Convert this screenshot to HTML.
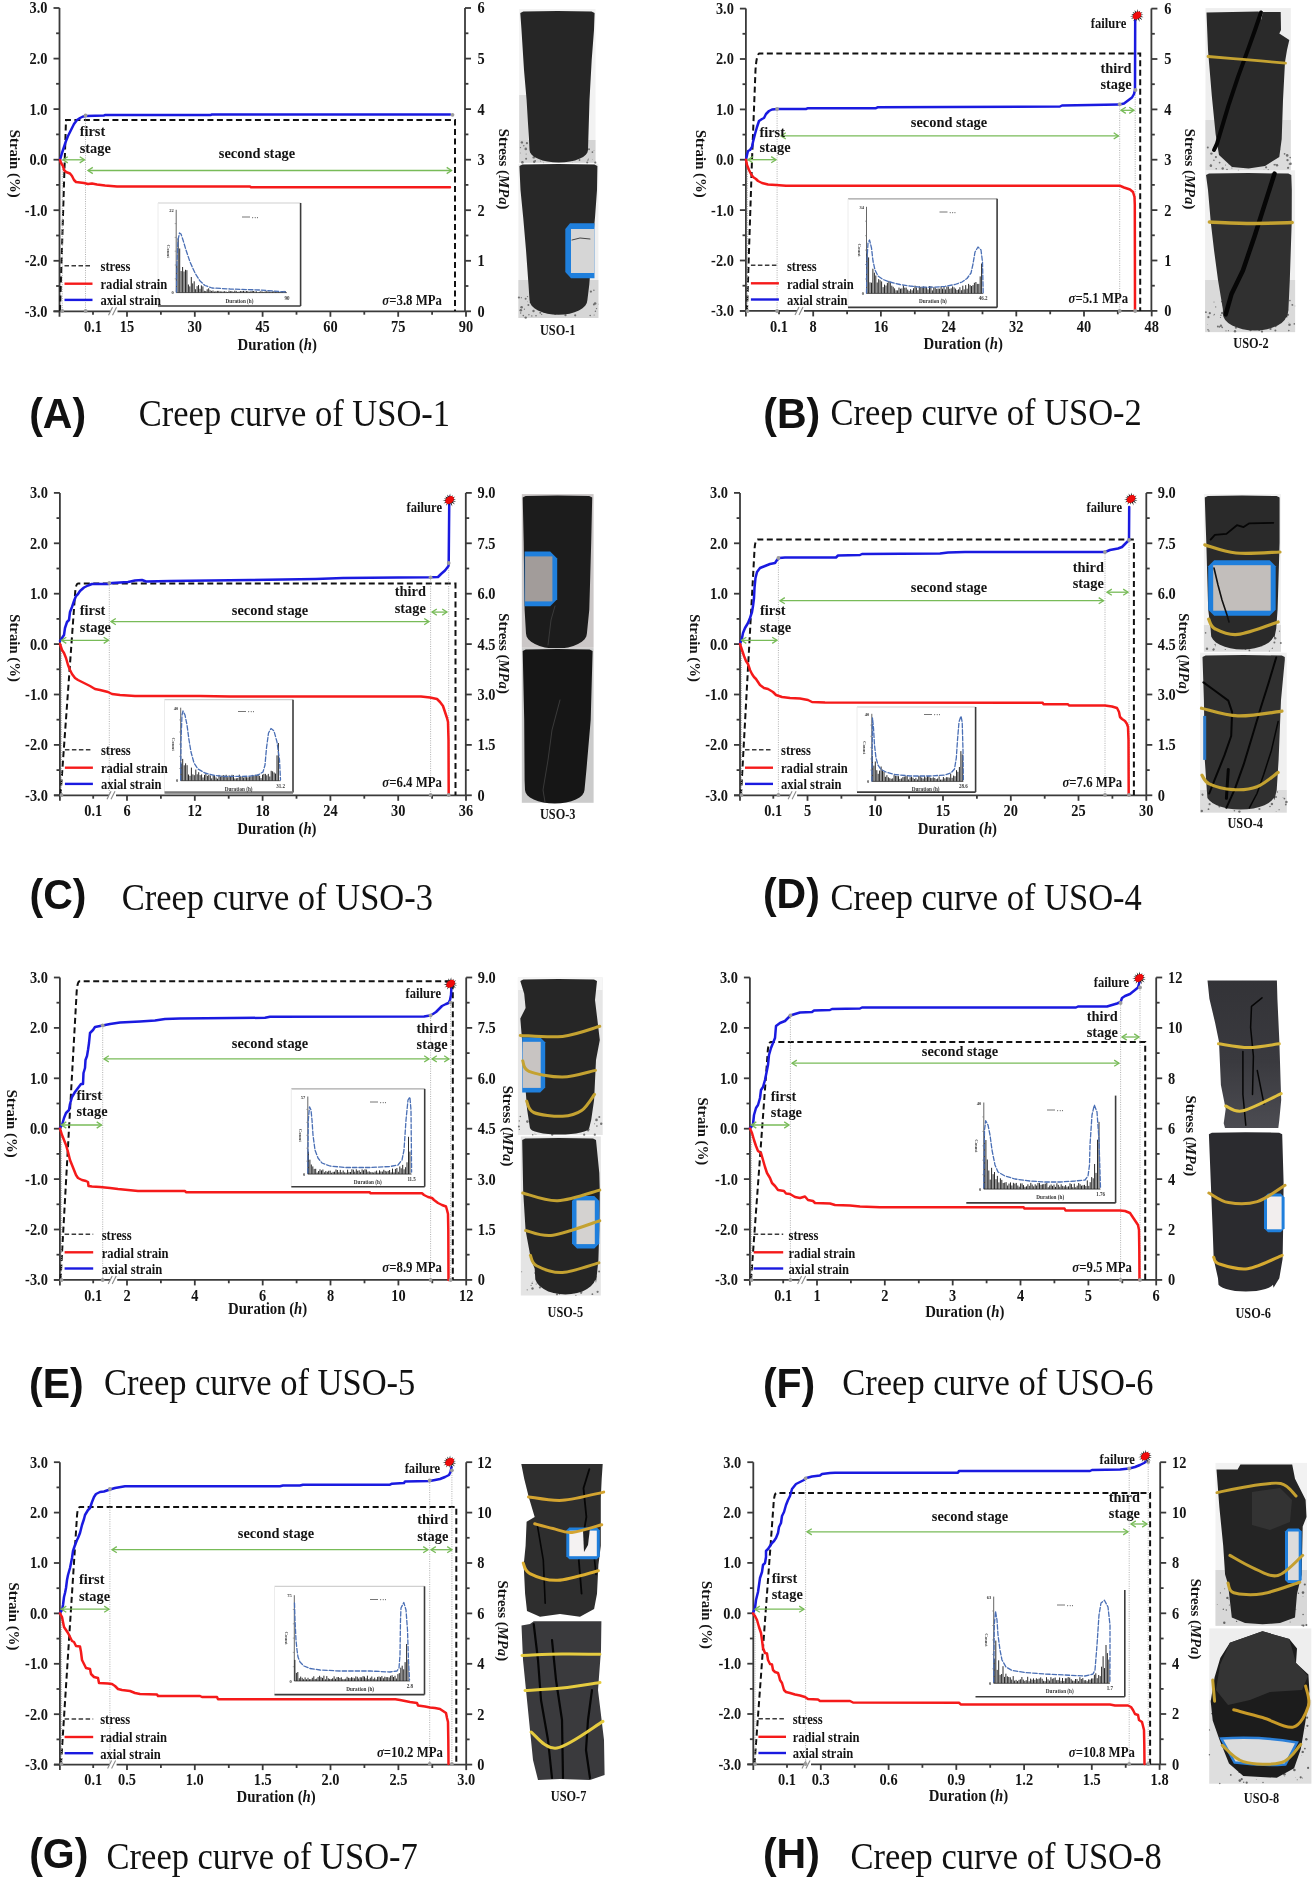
<!DOCTYPE html>
<html><head><meta charset="utf-8"><style>
html,body{margin:0;padding:0;background:#fff;}
svg{display:block;filter:blur(0.45px);}
</style></head><body>
<svg width="1315" height="1879" viewBox="0 0 1315 1879">
<rect width="1315" height="1879" fill="#fff"/>
<rect x="158.0" y="203.0" width="142.6" height="103.0" fill="#fff"/>
<line x1="158.0" y1="203.0" x2="300.6" y2="203.0" stroke="#d0d0d0" stroke-width="1.2" />
<line x1="158.0" y1="203.0" x2="158.0" y2="306.0" stroke="#ececec" stroke-width="1" />
<line x1="300.6" y1="203.0" x2="300.6" y2="306.0" stroke="#3c3c3c" stroke-width="1.6" />
<line x1="158.0" y1="306.0" x2="300.6" y2="306.0" stroke="#3c3c3c" stroke-width="1.6" />
<line x1="176.2" y1="209.8" x2="176.2" y2="292.6" stroke="#555" stroke-width="0.9" />
<line x1="176.2" y1="292.6" x2="286.9" y2="292.6" stroke="#555" stroke-width="0.9" />
<line x1="174.7" y1="278.8" x2="176.2" y2="278.8" stroke="#777" stroke-width="0.6" />
<line x1="174.7" y1="265.0" x2="176.2" y2="265.0" stroke="#777" stroke-width="0.6" />
<line x1="174.7" y1="251.2" x2="176.2" y2="251.2" stroke="#777" stroke-width="0.6" />
<line x1="174.7" y1="237.4" x2="176.2" y2="237.4" stroke="#777" stroke-width="0.6" />
<line x1="174.7" y1="223.6" x2="176.2" y2="223.6" stroke="#777" stroke-width="0.6" />
<path d="M176.8,292.6V265.7M178.2,292.6V238.2M179.7,292.6V248.5M181.1,292.6V271.1M182.6,292.6V267.0M184.0,292.6V271.5M185.5,292.6V269.8M186.9,292.6V270.2M188.4,292.6V284.5M189.8,292.6V286.4M191.3,292.6V277.0M192.7,292.6V283.4M194.2,292.6V281.3M195.6,292.6V289.2M197.1,292.6V286.2M198.5,292.6V285.1M200.0,292.6V288.8M201.4,292.6V285.4M202.9,292.6V286.4M204.3,292.6V290.8M205.8,292.6V291.0M207.2,292.6V289.3M208.7,292.6V288.3M210.1,292.6V290.3M211.6,292.6V290.9M213.0,292.6V290.5M214.5,292.6V291.6M215.9,292.6V291.2M217.4,292.6V290.9M218.8,292.6V290.9M220.3,292.6V291.4M221.7,292.6V291.5M223.2,292.6V291.5M224.6,292.6V291.2M226.1,292.6V291.5M227.5,292.6V292.0M229.0,292.6V290.7M230.4,292.6V291.2M231.9,292.6V291.1M233.3,292.6V291.8M234.8,292.6V290.7M236.2,292.6V290.9M237.7,292.6V291.9M239.1,292.6V291.6M240.6,292.6V291.1M242.0,292.6V291.1M243.5,292.6V290.9M244.9,292.6V291.5M246.4,292.6V291.0M247.8,292.6V291.2M249.3,292.6V291.7M250.8,292.6V291.3M252.2,292.6V291.0M253.6,292.6V291.0M255.1,292.6V291.5M256.5,292.6V291.4M258.0,292.6V292.1M259.4,292.6V291.8M260.9,292.6V291.1M262.3,292.6V291.6M263.8,292.6V291.9M265.2,292.6V291.4M266.7,292.6V291.2M268.1,292.6V291.3M269.6,292.6V291.6M271.0,292.6V291.6M272.5,292.6V291.5M273.9,292.6V291.1M275.4,292.6V291.5M276.8,292.6V291.6M278.3,292.6V291.5M279.8,292.6V292.1M281.2,292.6V292.0M282.6,292.6V291.2M284.1,292.6V290.9M285.5,292.6V291.4" stroke="#141414" stroke-width="1.0" fill="none" opacity="0.9"/>
<polyline points="176.5,292.0 177.0,262.0 178.0,240.0 179.5,233.0 181.0,234.0 183.0,240.0 186.0,250.0 190.0,262.0 195.0,273.0 200.0,281.0 205.0,285.5 212.0,288.0 230.0,289.0 260.0,290.0 286.0,292.0" fill="none" stroke="#4a6fb5" stroke-width="1.3" stroke-linejoin="round" stroke-linecap="round" stroke-dasharray="4.5,2"/>
<text transform="translate(173.7,211.8) scale(1,1.08)" font-size="4.5" text-anchor="end" font-weight="bold" font-family='"Liberation Serif", serif' fill="#333" >22</text>
<text transform="translate(173.7,294.1) scale(1,1.08)" font-size="4.5" text-anchor="end" font-weight="bold" font-family='"Liberation Serif", serif' fill="#333" >0</text>
<text transform="translate(286.9,299.6) scale(1,1.08)" font-size="5" text-anchor="middle" font-weight="bold" font-family='"Liberation Serif", serif' fill="#333" >90</text>
<text transform="translate(239.5,302.6) scale(1,1.08)" font-size="5.2" text-anchor="middle" font-weight="bold" font-family='"Liberation Serif", serif' fill="#333" >Duration (h)</text>
<text transform="translate(167.2,251.2) rotate(90)" font-size="5" font-weight="bold" text-anchor="middle" font-family='"Liberation Serif", serif' fill="#444">Count</text>
<line x1="242.0" y1="217.0" x2="250.0" y2="217.0" stroke="#666" stroke-width="0.9" />
<text transform="translate(252.0,218.8) scale(1,1.08)" font-size="4" text-anchor="start" font-weight="bold" font-family='"Liberation Serif", serif' fill="#555" >• • •</text>
<line x1="59.5" y1="8.0" x2="59.5" y2="316.8" stroke="#3a3a3a" stroke-width="1.8" />
<line x1="465.0" y1="8.0" x2="465.0" y2="311.3" stroke="#3a3a3a" stroke-width="1.8" />
<line x1="53.5" y1="311.3" x2="465.0" y2="311.3" stroke="#3a3a3a" stroke-width="1.8" />
<line x1="53.5" y1="8.0" x2="59.5" y2="8.0" stroke="#3a3a3a" stroke-width="1.8" />
<line x1="465.0" y1="8.0" x2="471.0" y2="8.0" stroke="#3a3a3a" stroke-width="1.8" />
<line x1="56.1" y1="33.3" x2="59.5" y2="33.3" stroke="#3a3a3a" stroke-width="1.8" />
<line x1="465.0" y1="33.3" x2="468.4" y2="33.3" stroke="#3a3a3a" stroke-width="1.8" />
<line x1="53.5" y1="58.6" x2="59.5" y2="58.6" stroke="#3a3a3a" stroke-width="1.8" />
<line x1="465.0" y1="58.6" x2="471.0" y2="58.6" stroke="#3a3a3a" stroke-width="1.8" />
<line x1="56.1" y1="83.8" x2="59.5" y2="83.8" stroke="#3a3a3a" stroke-width="1.8" />
<line x1="465.0" y1="83.8" x2="468.4" y2="83.8" stroke="#3a3a3a" stroke-width="1.8" />
<line x1="53.5" y1="109.1" x2="59.5" y2="109.1" stroke="#3a3a3a" stroke-width="1.8" />
<line x1="465.0" y1="109.1" x2="471.0" y2="109.1" stroke="#3a3a3a" stroke-width="1.8" />
<line x1="56.1" y1="134.4" x2="59.5" y2="134.4" stroke="#3a3a3a" stroke-width="1.8" />
<line x1="465.0" y1="134.4" x2="468.4" y2="134.4" stroke="#3a3a3a" stroke-width="1.8" />
<line x1="53.5" y1="159.7" x2="59.5" y2="159.7" stroke="#3a3a3a" stroke-width="1.8" />
<line x1="465.0" y1="159.7" x2="471.0" y2="159.7" stroke="#3a3a3a" stroke-width="1.8" />
<line x1="56.1" y1="184.9" x2="59.5" y2="184.9" stroke="#3a3a3a" stroke-width="1.8" />
<line x1="465.0" y1="184.9" x2="468.4" y2="184.9" stroke="#3a3a3a" stroke-width="1.8" />
<line x1="53.5" y1="210.2" x2="59.5" y2="210.2" stroke="#3a3a3a" stroke-width="1.8" />
<line x1="465.0" y1="210.2" x2="471.0" y2="210.2" stroke="#3a3a3a" stroke-width="1.8" />
<line x1="56.1" y1="235.5" x2="59.5" y2="235.5" stroke="#3a3a3a" stroke-width="1.8" />
<line x1="465.0" y1="235.5" x2="468.4" y2="235.5" stroke="#3a3a3a" stroke-width="1.8" />
<line x1="53.5" y1="260.8" x2="59.5" y2="260.8" stroke="#3a3a3a" stroke-width="1.8" />
<line x1="465.0" y1="260.8" x2="471.0" y2="260.8" stroke="#3a3a3a" stroke-width="1.8" />
<line x1="56.1" y1="286.0" x2="59.5" y2="286.0" stroke="#3a3a3a" stroke-width="1.8" />
<line x1="465.0" y1="286.0" x2="468.4" y2="286.0" stroke="#3a3a3a" stroke-width="1.8" />
<line x1="53.5" y1="311.3" x2="59.5" y2="311.3" stroke="#3a3a3a" stroke-width="1.8" />
<line x1="465.0" y1="311.3" x2="471.0" y2="311.3" stroke="#3a3a3a" stroke-width="1.8" />
<text transform="translate(47.5,13.4) scale(1,1.15)" font-size="14.4" text-anchor="end" font-weight="bold" font-family='"Liberation Serif", serif' fill="#141414" >3.0</text>
<text transform="translate(47.5,64.0) scale(1,1.15)" font-size="14.4" text-anchor="end" font-weight="bold" font-family='"Liberation Serif", serif' fill="#141414" >2.0</text>
<text transform="translate(47.5,114.5) scale(1,1.15)" font-size="14.4" text-anchor="end" font-weight="bold" font-family='"Liberation Serif", serif' fill="#141414" >1.0</text>
<text transform="translate(47.5,165.1) scale(1,1.15)" font-size="14.4" text-anchor="end" font-weight="bold" font-family='"Liberation Serif", serif' fill="#141414" >0.0</text>
<text transform="translate(47.5,215.6) scale(1,1.15)" font-size="14.4" text-anchor="end" font-weight="bold" font-family='"Liberation Serif", serif' fill="#141414" >-1.0</text>
<text transform="translate(47.5,266.1) scale(1,1.15)" font-size="14.4" text-anchor="end" font-weight="bold" font-family='"Liberation Serif", serif' fill="#141414" >-2.0</text>
<text transform="translate(47.5,316.7) scale(1,1.15)" font-size="14.4" text-anchor="end" font-weight="bold" font-family='"Liberation Serif", serif' fill="#141414" >-3.0</text>
<text transform="translate(477.5,13.4) scale(1,1.15)" font-size="14.4" text-anchor="start" font-weight="bold" font-family='"Liberation Serif", serif' fill="#141414" >6</text>
<text transform="translate(477.5,64.0) scale(1,1.15)" font-size="14.4" text-anchor="start" font-weight="bold" font-family='"Liberation Serif", serif' fill="#141414" >5</text>
<text transform="translate(477.5,114.5) scale(1,1.15)" font-size="14.4" text-anchor="start" font-weight="bold" font-family='"Liberation Serif", serif' fill="#141414" >4</text>
<text transform="translate(477.5,165.1) scale(1,1.15)" font-size="14.4" text-anchor="start" font-weight="bold" font-family='"Liberation Serif", serif' fill="#141414" >3</text>
<text transform="translate(477.5,215.6) scale(1,1.15)" font-size="14.4" text-anchor="start" font-weight="bold" font-family='"Liberation Serif", serif' fill="#141414" >2</text>
<text transform="translate(477.5,266.1) scale(1,1.15)" font-size="14.4" text-anchor="start" font-weight="bold" font-family='"Liberation Serif", serif' fill="#141414" >1</text>
<text transform="translate(477.5,316.7) scale(1,1.15)" font-size="14.4" text-anchor="start" font-weight="bold" font-family='"Liberation Serif", serif' fill="#141414" >0</text>
<line x1="127.0" y1="311.3" x2="127.0" y2="316.8" stroke="#3a3a3a" stroke-width="1.8" />
<text transform="translate(127.0,331.9) scale(1,1.15)" font-size="14.4" text-anchor="middle" font-weight="bold" font-family='"Liberation Serif", serif' fill="#141414" >15</text>
<line x1="160.9" y1="311.3" x2="160.9" y2="314.7" stroke="#3a3a3a" stroke-width="1.8" />
<line x1="194.8" y1="311.3" x2="194.8" y2="316.8" stroke="#3a3a3a" stroke-width="1.8" />
<text transform="translate(194.8,331.9) scale(1,1.15)" font-size="14.4" text-anchor="middle" font-weight="bold" font-family='"Liberation Serif", serif' fill="#141414" >30</text>
<line x1="228.7" y1="311.3" x2="228.7" y2="314.7" stroke="#3a3a3a" stroke-width="1.8" />
<line x1="262.6" y1="311.3" x2="262.6" y2="316.8" stroke="#3a3a3a" stroke-width="1.8" />
<text transform="translate(262.6,331.9) scale(1,1.15)" font-size="14.4" text-anchor="middle" font-weight="bold" font-family='"Liberation Serif", serif' fill="#141414" >45</text>
<line x1="296.5" y1="311.3" x2="296.5" y2="314.7" stroke="#3a3a3a" stroke-width="1.8" />
<line x1="330.4" y1="311.3" x2="330.4" y2="316.8" stroke="#3a3a3a" stroke-width="1.8" />
<text transform="translate(330.4,331.9) scale(1,1.15)" font-size="14.4" text-anchor="middle" font-weight="bold" font-family='"Liberation Serif", serif' fill="#141414" >60</text>
<line x1="364.3" y1="311.3" x2="364.3" y2="314.7" stroke="#3a3a3a" stroke-width="1.8" />
<line x1="398.2" y1="311.3" x2="398.2" y2="316.8" stroke="#3a3a3a" stroke-width="1.8" />
<text transform="translate(398.2,331.9) scale(1,1.15)" font-size="14.4" text-anchor="middle" font-weight="bold" font-family='"Liberation Serif", serif' fill="#141414" >75</text>
<line x1="432.1" y1="311.3" x2="432.1" y2="314.7" stroke="#3a3a3a" stroke-width="1.8" />
<line x1="466.0" y1="311.3" x2="466.0" y2="316.8" stroke="#3a3a3a" stroke-width="1.8" />
<text transform="translate(466.0,331.9) scale(1,1.15)" font-size="14.4" text-anchor="middle" font-weight="bold" font-family='"Liberation Serif", serif' fill="#141414" >90</text>
<line x1="93.0" y1="311.3" x2="93.0" y2="314.7" stroke="#3a3a3a" stroke-width="1.8" />
<text transform="translate(93.0,331.9) scale(1,1.15)" font-size="14.4" text-anchor="middle" font-weight="bold" font-family='"Liberation Serif", serif' fill="#141414" >0.1</text>
<rect x="110.5" y="309.3" width="7" height="4" fill="#fff"/>
<line x1="108.5" y1="315.3" x2="112.5" y2="307.3" stroke="#8a8a8a" stroke-width="1.1" />
<line x1="112.5" y1="315.3" x2="116.5" y2="307.3" stroke="#8a8a8a" stroke-width="1.1" />
<text transform="translate(277.2,349.7) scale(1,1.08)" font-size="14.8" text-anchor="middle" font-weight="bold" font-family='"Liberation Serif", serif' fill="#141414" >Duration (<tspan font-style="italic">h</tspan>)</text>
<text transform="translate(10.0,163.7) rotate(90)" font-size="14.8" text-anchor="middle" font-weight="bold" font-family='"Liberation Serif", serif' fill="#141414">Strain (%)</text>
<text transform="translate(498.5,169.2) rotate(90)" font-size="14.8" text-anchor="middle" font-weight="bold" font-family='"Liberation Serif", serif' fill="#141414">Stress (<tspan font-style="italic">MPa</tspan>)</text>
<path d="M60,311 L66,120 L455,120 L455,311" fill="none" stroke="#111" stroke-width="2" stroke-dasharray="6,3.5"/>
<line x1="85.5" y1="116.0" x2="85.5" y2="311.0" stroke="#a8a8a8" stroke-width="0.9" stroke-dasharray="1,1.3"/>
<line x1="62.3" y1="160.0" x2="62.3" y2="311.0" stroke="#a8a8a8" stroke-width="0.9" stroke-dasharray="1,1.3"/>
<polyline points="60.0,160.0 62.0,153.0 64.0,147.0 66.0,141.0 68.0,136.0 70.0,132.0 72.0,128.0 74.0,124.0 77.0,120.0 80.0,118.0 83.0,116.5 86.0,116.0 104.0,115.6 105.0,114.9 211.0,114.9 212.0,114.4 450.0,114.4" fill="none" stroke="#1a1ae0" stroke-width="2.5" stroke-linejoin="round" stroke-linecap="round" />
<polyline points="60.0,160.0 61.0,163.0 63.0,166.0 64.0,170.0 66.0,172.0 70.0,173.5 72.0,176.0 74.0,180.0 76.0,182.0 84.0,183.0 88.0,184.0 92.0,183.5 97.0,184.5 105.0,185.5 117.0,186.5 250.0,186.5 251.0,187.3 450.0,187.3" fill="none" stroke="#f51a1a" stroke-width="2.5" stroke-linejoin="round" stroke-linecap="round" />
<circle cx="85.5" cy="115.5" r="1.9" fill="#9c9c9c"/>
<circle cx="452.5" cy="114.8" r="1.9" fill="#9c9c9c"/>
<circle cx="62.3" cy="311.0" r="1.9" fill="#9c9c9c"/>
<circle cx="85.6" cy="311.0" r="1.9" fill="#9c9c9c"/>
<line x1="63.0" y1="159.8" x2="84.5" y2="159.8" stroke="#78bb58" stroke-width="1.3" />
<polyline points="79.7,156.7 84.5,159.8 79.7,162.9" fill="none" stroke="#78bb58" stroke-width="1.3"/>
<polyline points="67.8,156.7 63.0,159.8 67.8,162.9" fill="none" stroke="#78bb58" stroke-width="1.3"/>
<line x1="88.0" y1="170.5" x2="451.5" y2="170.5" stroke="#78bb58" stroke-width="1.3" />
<polyline points="446.7,167.4 451.5,170.5 446.7,173.6" fill="none" stroke="#78bb58" stroke-width="1.3"/>
<polyline points="92.8,167.4 88.0,170.5 92.8,173.6" fill="none" stroke="#78bb58" stroke-width="1.3"/>
<text transform="translate(79.7,135.7) scale(1,1.08)" font-size="14.4" text-anchor="start" font-weight="bold" font-family='"Liberation Serif", serif' fill="#141414" >first</text>
<text transform="translate(79.7,152.5) scale(1,1.08)" font-size="14.4" text-anchor="start" font-weight="bold" font-family='"Liberation Serif", serif' fill="#141414" >stage</text>
<text transform="translate(257.0,158.0) scale(1,1.08)" font-size="14.4" text-anchor="middle" font-weight="bold" font-family='"Liberation Serif", serif' fill="#141414" >second stage</text>
<text transform="translate(442.0,304.5) scale(1,1.08)" font-size="12.8" text-anchor="end" font-weight="bold" font-family='"Liberation Serif", serif' fill="#141414" ><tspan font-style="italic">σ</tspan>=3.8 MPa</text>
<line x1="64.5" y1="265.7" x2="92.5" y2="265.7" stroke="#3a3a3a" stroke-width="1.5" stroke-dasharray="4.5,2.5"/>
<line x1="64.5" y1="283.7" x2="92.5" y2="283.7" stroke="#f51a1a" stroke-width="2.4" />
<line x1="64.5" y1="299.9" x2="92.5" y2="299.9" stroke="#1a1ae0" stroke-width="2.4" />
<text transform="translate(100.5,271.0) scale(1,1.08)" font-size="12.6" text-anchor="start" font-weight="bold" font-family='"Liberation Serif", serif' fill="#141414" >stress</text>
<text transform="translate(100.5,289.0) scale(1,1.08)" font-size="12.6" text-anchor="start" font-weight="bold" font-family='"Liberation Serif", serif' fill="#141414" >radial strain</text>
<text transform="translate(100.5,305.2) scale(1,1.08)" font-size="12.6" text-anchor="start" font-weight="bold" font-family='"Liberation Serif", serif' fill="#141414" >axial strain</text>
<text transform="translate(29.2,428.2) scale(1,1.05)" font-size="41" text-anchor="start" font-weight="bold" font-family='"Liberation Sans", sans-serif' fill="#111" >(A)</text>
<text transform="translate(138.8,425.7) scale(1,1.13)" font-size="34.5" text-anchor="start" font-weight="normal" font-family='"Liberation Serif", serif' fill="#111" >Creep curve of USO-1</text>
<rect x="848.0" y="198.8" width="149.1" height="108.6" fill="#fff"/>
<line x1="848.0" y1="198.8" x2="997.1" y2="198.8" stroke="#a0a0a0" stroke-width="1.2" />
<line x1="848.0" y1="198.8" x2="848.0" y2="307.4" stroke="#ececec" stroke-width="1" />
<line x1="997.1" y1="198.8" x2="997.1" y2="307.4" stroke="#3c3c3c" stroke-width="1.6" />
<line x1="848.0" y1="307.4" x2="997.1" y2="307.4" stroke="#3c3c3c" stroke-width="1.6" />
<line x1="866.5" y1="206.8" x2="866.5" y2="293.4" stroke="#555" stroke-width="0.9" />
<line x1="866.5" y1="293.4" x2="983.2" y2="293.4" stroke="#555" stroke-width="0.9" />
<line x1="865.0" y1="279.0" x2="866.5" y2="279.0" stroke="#777" stroke-width="0.6" />
<line x1="865.0" y1="264.5" x2="866.5" y2="264.5" stroke="#777" stroke-width="0.6" />
<line x1="865.0" y1="250.1" x2="866.5" y2="250.1" stroke="#777" stroke-width="0.6" />
<line x1="865.0" y1="235.7" x2="866.5" y2="235.7" stroke="#777" stroke-width="0.6" />
<line x1="865.0" y1="221.2" x2="866.5" y2="221.2" stroke="#777" stroke-width="0.6" />
<path d="M867.1,293.4V253.3M868.6,293.4V257.4M870.0,293.4V282.3M871.5,293.4V282.7M872.9,293.4V268.7M874.4,293.4V272.7M875.8,293.4V275.5M877.2,293.4V282.5M878.7,293.4V279.1M880.1,293.4V280.2M881.6,293.4V281.4M883.1,293.4V287.1M884.5,293.4V284.6M886.0,293.4V285.5M887.4,293.4V282.8M888.9,293.4V280.9M890.3,293.4V281.9M891.8,293.4V285.7M893.2,293.4V286.8M894.6,293.4V288.4M896.1,293.4V290.3M897.6,293.4V290.4M899.0,293.4V287.6M900.5,293.4V288.7M901.9,293.4V288.4M903.4,293.4V285.3M904.8,293.4V287.7M906.2,293.4V287.6M907.7,293.4V289.6M909.1,293.4V290.9M910.6,293.4V289.2M912.1,293.4V290.3M913.5,293.4V288.3M915.0,293.4V285.6M916.4,293.4V287.4M917.9,293.4V290.2M919.3,293.4V286.3M920.8,293.4V286.9M922.2,293.4V287.3M923.6,293.4V286.4M925.1,293.4V287.2M926.6,293.4V287.0M928.0,293.4V289.4M929.5,293.4V286.1M930.9,293.4V286.2M932.4,293.4V290.4M933.8,293.4V287.3M935.2,293.4V287.5M936.7,293.4V288.9M938.1,293.4V288.5M939.6,293.4V288.7M941.1,293.4V286.4M942.5,293.4V288.7M944.0,293.4V286.9M945.4,293.4V289.4M946.9,293.4V286.6M948.3,293.4V286.5M949.8,293.4V288.8M951.2,293.4V288.3M952.6,293.4V286.4M954.1,293.4V287.4M955.6,293.4V288.6M957.0,293.4V290.0M958.5,293.4V289.4M959.9,293.4V287.2M961.4,293.4V290.2M962.8,293.4V285.7M964.2,293.4V289.4M965.7,293.4V285.1M967.1,293.4V288.7M968.6,293.4V283.9M970.1,293.4V285.1M971.5,293.4V286.0M973.0,293.4V285.1M974.4,293.4V282.8M975.9,293.4V282.0M977.3,293.4V283.9M978.8,293.4V283.9M980.2,293.4V276.4M981.6,293.4V263.5" stroke="#141414" stroke-width="1.0" fill="none" opacity="0.9"/>
<polyline points="866.5,293.0 867.0,260.0 868.0,243.0 869.5,240.0 871.5,248.0 873.0,261.0 875.0,270.0 878.0,276.0 883.0,279.5 890.0,282.0 900.0,284.5 910.0,286.0 920.0,287.2 935.0,287.2 945.0,286.3 955.0,284.5 962.0,282.0 967.0,278.5 971.0,273.0 973.0,264.0 975.0,252.0 978.0,247.0 981.0,250.0 982.5,262.0 983.2,293.0" fill="none" stroke="#4a6fb5" stroke-width="1.3" stroke-linejoin="round" stroke-linecap="round" stroke-dasharray="4.5,2"/>
<text transform="translate(864.0,208.8) scale(1,1.08)" font-size="4.5" text-anchor="end" font-weight="bold" font-family='"Liberation Serif", serif' fill="#333" >34</text>
<text transform="translate(864.0,294.9) scale(1,1.08)" font-size="4.5" text-anchor="end" font-weight="bold" font-family='"Liberation Serif", serif' fill="#333" >0</text>
<text transform="translate(983.2,300.4) scale(1,1.08)" font-size="5" text-anchor="middle" font-weight="bold" font-family='"Liberation Serif", serif' fill="#333" >46.2</text>
<text transform="translate(932.9,303.4) scale(1,1.08)" font-size="5.2" text-anchor="middle" font-weight="bold" font-family='"Liberation Serif", serif' fill="#333" >Duration (h)</text>
<text transform="translate(857.5,250.1) rotate(90)" font-size="5" font-weight="bold" text-anchor="middle" font-family='"Liberation Serif", serif' fill="#444">Count</text>
<line x1="939.5" y1="212.0" x2="947.5" y2="212.0" stroke="#666" stroke-width="0.9" />
<text transform="translate(949.5,213.8) scale(1,1.08)" font-size="4" text-anchor="start" font-weight="bold" font-family='"Liberation Serif", serif' fill="#555" >• • •</text>
<line x1="745.9" y1="8.6" x2="745.9" y2="316.4" stroke="#3a3a3a" stroke-width="1.8" />
<line x1="1151.4" y1="8.6" x2="1151.4" y2="310.9" stroke="#3a3a3a" stroke-width="1.8" />
<line x1="739.9" y1="310.9" x2="1151.4" y2="310.9" stroke="#3a3a3a" stroke-width="1.8" />
<line x1="739.9" y1="8.6" x2="745.9" y2="8.6" stroke="#3a3a3a" stroke-width="1.8" />
<line x1="1151.4" y1="8.6" x2="1157.4" y2="8.6" stroke="#3a3a3a" stroke-width="1.8" />
<line x1="742.5" y1="33.8" x2="745.9" y2="33.8" stroke="#3a3a3a" stroke-width="1.8" />
<line x1="1151.4" y1="33.8" x2="1154.8" y2="33.8" stroke="#3a3a3a" stroke-width="1.8" />
<line x1="739.9" y1="59.0" x2="745.9" y2="59.0" stroke="#3a3a3a" stroke-width="1.8" />
<line x1="1151.4" y1="59.0" x2="1157.4" y2="59.0" stroke="#3a3a3a" stroke-width="1.8" />
<line x1="742.5" y1="84.2" x2="745.9" y2="84.2" stroke="#3a3a3a" stroke-width="1.8" />
<line x1="1151.4" y1="84.2" x2="1154.8" y2="84.2" stroke="#3a3a3a" stroke-width="1.8" />
<line x1="739.9" y1="109.4" x2="745.9" y2="109.4" stroke="#3a3a3a" stroke-width="1.8" />
<line x1="1151.4" y1="109.4" x2="1157.4" y2="109.4" stroke="#3a3a3a" stroke-width="1.8" />
<line x1="742.5" y1="134.6" x2="745.9" y2="134.6" stroke="#3a3a3a" stroke-width="1.8" />
<line x1="1151.4" y1="134.6" x2="1154.8" y2="134.6" stroke="#3a3a3a" stroke-width="1.8" />
<line x1="739.9" y1="159.7" x2="745.9" y2="159.7" stroke="#3a3a3a" stroke-width="1.8" />
<line x1="1151.4" y1="159.7" x2="1157.4" y2="159.7" stroke="#3a3a3a" stroke-width="1.8" />
<line x1="742.5" y1="184.9" x2="745.9" y2="184.9" stroke="#3a3a3a" stroke-width="1.8" />
<line x1="1151.4" y1="184.9" x2="1154.8" y2="184.9" stroke="#3a3a3a" stroke-width="1.8" />
<line x1="739.9" y1="210.1" x2="745.9" y2="210.1" stroke="#3a3a3a" stroke-width="1.8" />
<line x1="1151.4" y1="210.1" x2="1157.4" y2="210.1" stroke="#3a3a3a" stroke-width="1.8" />
<line x1="742.5" y1="235.3" x2="745.9" y2="235.3" stroke="#3a3a3a" stroke-width="1.8" />
<line x1="1151.4" y1="235.3" x2="1154.8" y2="235.3" stroke="#3a3a3a" stroke-width="1.8" />
<line x1="739.9" y1="260.5" x2="745.9" y2="260.5" stroke="#3a3a3a" stroke-width="1.8" />
<line x1="1151.4" y1="260.5" x2="1157.4" y2="260.5" stroke="#3a3a3a" stroke-width="1.8" />
<line x1="742.5" y1="285.7" x2="745.9" y2="285.7" stroke="#3a3a3a" stroke-width="1.8" />
<line x1="1151.4" y1="285.7" x2="1154.8" y2="285.7" stroke="#3a3a3a" stroke-width="1.8" />
<line x1="739.9" y1="310.9" x2="745.9" y2="310.9" stroke="#3a3a3a" stroke-width="1.8" />
<line x1="1151.4" y1="310.9" x2="1157.4" y2="310.9" stroke="#3a3a3a" stroke-width="1.8" />
<text transform="translate(733.9,14.0) scale(1,1.15)" font-size="14.4" text-anchor="end" font-weight="bold" font-family='"Liberation Serif", serif' fill="#141414" >3.0</text>
<text transform="translate(733.9,64.4) scale(1,1.15)" font-size="14.4" text-anchor="end" font-weight="bold" font-family='"Liberation Serif", serif' fill="#141414" >2.0</text>
<text transform="translate(733.9,114.8) scale(1,1.15)" font-size="14.4" text-anchor="end" font-weight="bold" font-family='"Liberation Serif", serif' fill="#141414" >1.0</text>
<text transform="translate(733.9,165.1) scale(1,1.15)" font-size="14.4" text-anchor="end" font-weight="bold" font-family='"Liberation Serif", serif' fill="#141414" >0.0</text>
<text transform="translate(733.9,215.5) scale(1,1.15)" font-size="14.4" text-anchor="end" font-weight="bold" font-family='"Liberation Serif", serif' fill="#141414" >-1.0</text>
<text transform="translate(733.9,265.9) scale(1,1.15)" font-size="14.4" text-anchor="end" font-weight="bold" font-family='"Liberation Serif", serif' fill="#141414" >-2.0</text>
<text transform="translate(733.9,316.3) scale(1,1.15)" font-size="14.4" text-anchor="end" font-weight="bold" font-family='"Liberation Serif", serif' fill="#141414" >-3.0</text>
<text transform="translate(1164.3,14.0) scale(1,1.15)" font-size="14.4" text-anchor="start" font-weight="bold" font-family='"Liberation Serif", serif' fill="#141414" >6</text>
<text transform="translate(1164.3,64.4) scale(1,1.15)" font-size="14.4" text-anchor="start" font-weight="bold" font-family='"Liberation Serif", serif' fill="#141414" >5</text>
<text transform="translate(1164.3,114.8) scale(1,1.15)" font-size="14.4" text-anchor="start" font-weight="bold" font-family='"Liberation Serif", serif' fill="#141414" >4</text>
<text transform="translate(1164.3,165.1) scale(1,1.15)" font-size="14.4" text-anchor="start" font-weight="bold" font-family='"Liberation Serif", serif' fill="#141414" >3</text>
<text transform="translate(1164.3,215.5) scale(1,1.15)" font-size="14.4" text-anchor="start" font-weight="bold" font-family='"Liberation Serif", serif' fill="#141414" >2</text>
<text transform="translate(1164.3,265.9) scale(1,1.15)" font-size="14.4" text-anchor="start" font-weight="bold" font-family='"Liberation Serif", serif' fill="#141414" >1</text>
<text transform="translate(1164.3,316.3) scale(1,1.15)" font-size="14.4" text-anchor="start" font-weight="bold" font-family='"Liberation Serif", serif' fill="#141414" >0</text>
<line x1="813.2" y1="310.9" x2="813.2" y2="316.4" stroke="#3a3a3a" stroke-width="1.8" />
<text transform="translate(813.2,331.5) scale(1,1.15)" font-size="14.4" text-anchor="middle" font-weight="bold" font-family='"Liberation Serif", serif' fill="#141414" >8</text>
<line x1="847.1" y1="310.9" x2="847.1" y2="314.3" stroke="#3a3a3a" stroke-width="1.8" />
<line x1="880.9" y1="310.9" x2="880.9" y2="316.4" stroke="#3a3a3a" stroke-width="1.8" />
<text transform="translate(880.9,331.5) scale(1,1.15)" font-size="14.4" text-anchor="middle" font-weight="bold" font-family='"Liberation Serif", serif' fill="#141414" >16</text>
<line x1="914.8" y1="310.9" x2="914.8" y2="314.3" stroke="#3a3a3a" stroke-width="1.8" />
<line x1="948.6" y1="310.9" x2="948.6" y2="316.4" stroke="#3a3a3a" stroke-width="1.8" />
<text transform="translate(948.6,331.5) scale(1,1.15)" font-size="14.4" text-anchor="middle" font-weight="bold" font-family='"Liberation Serif", serif' fill="#141414" >24</text>
<line x1="982.5" y1="310.9" x2="982.5" y2="314.3" stroke="#3a3a3a" stroke-width="1.8" />
<line x1="1016.3" y1="310.9" x2="1016.3" y2="316.4" stroke="#3a3a3a" stroke-width="1.8" />
<text transform="translate(1016.3,331.5) scale(1,1.15)" font-size="14.4" text-anchor="middle" font-weight="bold" font-family='"Liberation Serif", serif' fill="#141414" >32</text>
<line x1="1050.2" y1="310.9" x2="1050.2" y2="314.3" stroke="#3a3a3a" stroke-width="1.8" />
<line x1="1084.0" y1="310.9" x2="1084.0" y2="316.4" stroke="#3a3a3a" stroke-width="1.8" />
<text transform="translate(1084.0,331.5) scale(1,1.15)" font-size="14.4" text-anchor="middle" font-weight="bold" font-family='"Liberation Serif", serif' fill="#141414" >40</text>
<line x1="1117.8" y1="310.9" x2="1117.8" y2="314.3" stroke="#3a3a3a" stroke-width="1.8" />
<line x1="1151.7" y1="310.9" x2="1151.7" y2="316.4" stroke="#3a3a3a" stroke-width="1.8" />
<text transform="translate(1151.7,331.5) scale(1,1.15)" font-size="14.4" text-anchor="middle" font-weight="bold" font-family='"Liberation Serif", serif' fill="#141414" >48</text>
<line x1="779.0" y1="310.9" x2="779.0" y2="314.3" stroke="#3a3a3a" stroke-width="1.8" />
<text transform="translate(779.0,331.5) scale(1,1.15)" font-size="14.4" text-anchor="middle" font-weight="bold" font-family='"Liberation Serif", serif' fill="#141414" >0.1</text>
<rect x="797.0" y="308.9" width="7" height="4" fill="#fff"/>
<line x1="795.0" y1="314.9" x2="799.0" y2="306.9" stroke="#8a8a8a" stroke-width="1.1" />
<line x1="799.0" y1="314.9" x2="803.0" y2="306.9" stroke="#8a8a8a" stroke-width="1.1" />
<text transform="translate(963.2,349.3) scale(1,1.08)" font-size="14.8" text-anchor="middle" font-weight="bold" font-family='"Liberation Serif", serif' fill="#141414" >Duration (<tspan font-style="italic">h</tspan>)</text>
<text transform="translate(696.0,163.8) rotate(90)" font-size="14.8" text-anchor="middle" font-weight="bold" font-family='"Liberation Serif", serif' fill="#141414">Strain (%)</text>
<text transform="translate(1184.7,169.1) rotate(90)" font-size="14.8" text-anchor="middle" font-weight="bold" font-family='"Liberation Serif", serif' fill="#141414">Stress (<tspan font-style="italic">MPa</tspan>)</text>
<path d="M747,311 L752,160 L755.5,70 Q756.5,55 759,53.6 L1140.2,53.6 L1140.2,311" fill="none" stroke="#111" stroke-width="2" stroke-dasharray="6,3.5"/>
<line x1="777.1" y1="109.0" x2="777.1" y2="311.0" stroke="#a8a8a8" stroke-width="0.9" stroke-dasharray="1,1.3"/>
<line x1="1119.7" y1="104.0" x2="1119.7" y2="311.0" stroke="#a8a8a8" stroke-width="0.9" stroke-dasharray="1,1.3"/>
<line x1="1135.2" y1="90.0" x2="1135.2" y2="311.0" stroke="#a8a8a8" stroke-width="0.9" stroke-dasharray="1,1.3"/>
<line x1="747.5" y1="160.0" x2="747.5" y2="311.0" stroke="#a8a8a8" stroke-width="0.9" stroke-dasharray="1,1.3"/>
<polyline points="746.0,159.7 747.0,155.0 748.0,151.0 750.0,150.0 752.0,147.0 753.0,142.0 755.0,134.0 757.0,127.0 759.0,121.0 762.0,119.0 764.0,118.0 766.0,114.0 769.0,111.0 772.0,109.5 777.0,109.0 806.0,109.0 808.0,108.2 876.0,108.2 878.0,107.2 1060.0,106.5 1062.0,105.5 1119.0,104.6 1124.0,103.5 1128.0,100.5 1132.0,97.5 1134.0,94.0 1135.0,90.0 1135.2,20.0" fill="none" stroke="#1a1ae0" stroke-width="2.5" stroke-linejoin="round" stroke-linecap="round" />
<polyline points="746.0,159.7 747.0,165.0 749.0,170.0 751.0,174.0 753.0,177.0 756.0,179.0 758.0,181.0 762.0,183.0 768.0,184.5 776.0,185.0 786.0,185.7 1119.7,185.7 1124.0,187.5 1130.0,189.5 1133.0,192.0 1134.5,197.0 1134.8,205.0 1135.0,311.0" fill="none" stroke="#f51a1a" stroke-width="2.5" stroke-linejoin="round" stroke-linecap="round" />
<circle cx="777.1" cy="109.0" r="1.9" fill="#9c9c9c"/>
<circle cx="1119.7" cy="104.2" r="1.9" fill="#9c9c9c"/>
<circle cx="1135.5" cy="90.0" r="1.9" fill="#9c9c9c"/>
<circle cx="1119.7" cy="311.0" r="1.9" fill="#9c9c9c"/>
<circle cx="1135.2" cy="311.0" r="1.9" fill="#9c9c9c"/>
<circle cx="747.5" cy="311.0" r="1.9" fill="#9c9c9c"/>
<circle cx="777.1" cy="311.0" r="1.9" fill="#9c9c9c"/>
<polygon points="1143.6,17.3 1140.0,17.0 1142.4,20.0 1138.9,18.0 1139.8,21.9 1137.5,18.5 1136.5,21.3 1136.0,18.4 1133.3,21.2 1134.7,17.7 1131.0,19.1 1133.8,16.6 1130.0,16.5 1133.6,15.3 1131.2,13.9 1134.0,14.0 1132.6,11.9 1135.1,13.0 1134.6,10.0 1136.5,12.5 1137.5,9.0 1138.0,12.6 1140.2,10.5 1139.3,13.3 1142.6,12.0 1140.2,14.4 1143.4,14.6 1140.4,15.7" fill="#1a1a1a"/>
<polygon points="1140.7,12.4 1141.3,14.1 1140.8,16.2 1139.2,18.1 1137.1,19.3 1134.9,19.5 1133.3,18.6 1132.7,16.9 1133.2,14.8 1134.8,12.9 1136.9,11.7 1139.1,11.5" fill="#f00a0a"/>
<line x1="748.0" y1="159.7" x2="776.0" y2="159.7" stroke="#78bb58" stroke-width="1.3" />
<polyline points="771.2,156.6 776.0,159.7 771.2,162.8" fill="none" stroke="#78bb58" stroke-width="1.3"/>
<polyline points="752.8,156.6 748.0,159.7 752.8,162.8" fill="none" stroke="#78bb58" stroke-width="1.3"/>
<line x1="781.0" y1="135.9" x2="1118.5" y2="135.9" stroke="#78bb58" stroke-width="1.3" />
<polyline points="1113.7,132.8 1118.5,135.9 1113.7,139.0" fill="none" stroke="#78bb58" stroke-width="1.3"/>
<polyline points="785.8,132.8 781.0,135.9 785.8,139.0" fill="none" stroke="#78bb58" stroke-width="1.3"/>
<line x1="1121.0" y1="110.3" x2="1134.0" y2="110.3" stroke="#78bb58" stroke-width="1.3" />
<polyline points="1129.2,107.2 1134.0,110.3 1129.2,113.4" fill="none" stroke="#78bb58" stroke-width="1.3"/>
<polyline points="1125.8,107.2 1121.0,110.3 1125.8,113.4" fill="none" stroke="#78bb58" stroke-width="1.3"/>
<text transform="translate(759.4,136.5) scale(1,1.08)" font-size="14.4" text-anchor="start" font-weight="bold" font-family='"Liberation Serif", serif' fill="#141414" >first</text>
<text transform="translate(759.4,152.2) scale(1,1.08)" font-size="14.4" text-anchor="start" font-weight="bold" font-family='"Liberation Serif", serif' fill="#141414" >stage</text>
<text transform="translate(949.0,127.4) scale(1,1.08)" font-size="14.4" text-anchor="middle" font-weight="bold" font-family='"Liberation Serif", serif' fill="#141414" >second stage</text>
<text transform="translate(1131.6,73.2) scale(1,1.08)" font-size="14.4" text-anchor="end" font-weight="bold" font-family='"Liberation Serif", serif' fill="#141414" >third</text>
<text transform="translate(1131.6,89.0) scale(1,1.08)" font-size="14.4" text-anchor="end" font-weight="bold" font-family='"Liberation Serif", serif' fill="#141414" >stage</text>
<text transform="translate(1126.3,28.1) scale(1,1.08)" font-size="12.6" text-anchor="end" font-weight="bold" font-family='"Liberation Serif", serif' fill="#141414" >failure</text>
<text transform="translate(1128.2,302.6) scale(1,1.08)" font-size="12.8" text-anchor="end" font-weight="bold" font-family='"Liberation Serif", serif' fill="#141414" ><tspan font-style="italic">σ</tspan>=5.1 MPa</text>
<line x1="750.9" y1="265.3" x2="778.9" y2="265.3" stroke="#3a3a3a" stroke-width="1.5" stroke-dasharray="4.5,2.5"/>
<line x1="750.9" y1="283.3" x2="778.9" y2="283.3" stroke="#f51a1a" stroke-width="2.4" />
<line x1="750.9" y1="299.5" x2="778.9" y2="299.5" stroke="#1a1ae0" stroke-width="2.4" />
<text transform="translate(786.9,270.6) scale(1,1.08)" font-size="12.6" text-anchor="start" font-weight="bold" font-family='"Liberation Serif", serif' fill="#141414" >stress</text>
<text transform="translate(786.9,288.6) scale(1,1.08)" font-size="12.6" text-anchor="start" font-weight="bold" font-family='"Liberation Serif", serif' fill="#141414" >radial strain</text>
<text transform="translate(786.9,304.8) scale(1,1.08)" font-size="12.6" text-anchor="start" font-weight="bold" font-family='"Liberation Serif", serif' fill="#141414" >axial strain</text>
<text transform="translate(763.3,428.2) scale(1,1.05)" font-size="41" text-anchor="start" font-weight="bold" font-family='"Liberation Sans", sans-serif' fill="#111" >(B)</text>
<text transform="translate(830.6,425.4) scale(1,1.13)" font-size="34.5" text-anchor="start" font-weight="normal" font-family='"Liberation Serif", serif' fill="#111" >Creep curve of USO-2</text>
<rect x="164.5" y="699.7" width="128.5" height="92.8" fill="#fff"/>
<line x1="164.5" y1="699.7" x2="293.0" y2="699.7" stroke="#d0d0d0" stroke-width="1.2" />
<line x1="164.5" y1="699.7" x2="164.5" y2="792.5" stroke="#ececec" stroke-width="1" />
<line x1="293.0" y1="699.7" x2="293.0" y2="792.5" stroke="#3c3c3c" stroke-width="1.6" />
<line x1="164.5" y1="792.5" x2="293.0" y2="792.5" stroke="#7a7a7a" stroke-width="2.6" />
<line x1="180.7" y1="707.7" x2="180.7" y2="780.7" stroke="#555" stroke-width="0.9" />
<line x1="180.7" y1="780.7" x2="280.5" y2="780.7" stroke="#555" stroke-width="0.9" />
<line x1="179.2" y1="768.5" x2="180.7" y2="768.5" stroke="#777" stroke-width="0.6" />
<line x1="179.2" y1="756.4" x2="180.7" y2="756.4" stroke="#777" stroke-width="0.6" />
<line x1="179.2" y1="744.2" x2="180.7" y2="744.2" stroke="#777" stroke-width="0.6" />
<line x1="179.2" y1="732.0" x2="180.7" y2="732.0" stroke="#777" stroke-width="0.6" />
<line x1="179.2" y1="719.9" x2="180.7" y2="719.9" stroke="#777" stroke-width="0.6" />
<path d="M181.3,780.7V763.6M182.7,780.7V758.9M184.2,780.7V765.3M185.6,780.7V763.3M187.1,780.7V765.2M188.5,780.7V774.5M190.0,780.7V775.8M191.4,780.7V767.6M192.9,780.7V774.4M194.3,780.7V775.2M195.8,780.7V769.6M197.2,780.7V774.3M198.7,780.7V772.2M200.1,780.7V775.1M201.6,780.7V774.4M203.0,780.7V777.5M204.5,780.7V774.9M205.9,780.7V773.9M207.4,780.7V775.9M208.8,780.7V774.9M210.3,780.7V775.4M211.7,780.7V778.4M213.2,780.7V775.2M214.6,780.7V776.0M216.1,780.7V777.4M217.5,780.7V778.7M219.0,780.7V774.9M220.4,780.7V776.7M221.9,780.7V775.7M223.3,780.7V775.0M224.8,780.7V775.7M226.2,780.7V774.8M227.7,780.7V777.2M229.1,780.7V775.4M230.6,780.7V777.0M232.0,780.7V774.8M233.5,780.7V775.1M234.9,780.7V778.5M236.4,780.7V778.3M237.8,780.7V778.0M239.3,780.7V774.7M240.7,780.7V777.0M242.2,780.7V776.2M243.6,780.7V777.6M245.1,780.7V776.7M246.5,780.7V777.2M248.0,780.7V777.4M249.4,780.7V776.4M250.9,780.7V776.4M252.3,780.7V774.9M253.8,780.7V775.9M255.2,780.7V774.8M256.7,780.7V775.1M258.1,780.7V774.4M259.6,780.7V775.8M261.0,780.7V778.1M262.5,780.7V774.7M263.9,780.7V773.9M265.4,780.7V773.9M266.8,780.7V775.3M268.3,780.7V773.9M269.8,780.7V776.5M271.2,780.7V770.8M272.6,780.7V771.3M274.1,780.7V772.5M275.5,780.7V773.6M277.0,780.7V755.4M278.4,780.7V743.0" stroke="#141414" stroke-width="1.0" fill="none" opacity="0.9"/>
<polyline points="180.7,780.0 181.0,740.0 182.0,715.0 183.0,711.0 185.0,715.0 187.0,725.0 189.0,740.0 191.0,752.0 194.0,763.0 198.0,769.0 205.0,773.0 215.0,775.5 225.0,776.5 250.0,776.2 258.0,775.0 263.0,772.0 265.0,765.0 266.5,748.0 268.5,733.0 271.0,728.5 274.0,731.0 277.0,742.0 279.5,760.0 280.5,780.0" fill="none" stroke="#4a6fb5" stroke-width="1.3" stroke-linejoin="round" stroke-linecap="round" stroke-dasharray="4.5,2"/>
<text transform="translate(178.2,709.7) scale(1,1.08)" font-size="4.5" text-anchor="end" font-weight="bold" font-family='"Liberation Serif", serif' fill="#333" >40</text>
<text transform="translate(178.2,782.2) scale(1,1.08)" font-size="4.5" text-anchor="end" font-weight="bold" font-family='"Liberation Serif", serif' fill="#333" >0</text>
<text transform="translate(280.5,787.7) scale(1,1.08)" font-size="5" text-anchor="middle" font-weight="bold" font-family='"Liberation Serif", serif' fill="#333" >31.2</text>
<text transform="translate(238.6,790.7) scale(1,1.08)" font-size="5.2" text-anchor="middle" font-weight="bold" font-family='"Liberation Serif", serif' fill="#333" >Duration (h)</text>
<text transform="translate(171.7,744.2) rotate(90)" font-size="5" font-weight="bold" text-anchor="middle" font-family='"Liberation Serif", serif' fill="#444">Count</text>
<line x1="238.0" y1="711.5" x2="246.0" y2="711.5" stroke="#666" stroke-width="0.9" />
<text transform="translate(248.0,713.3) scale(1,1.08)" font-size="4" text-anchor="start" font-weight="bold" font-family='"Liberation Serif", serif' fill="#555" >• • •</text>
<line x1="59.9" y1="492.9" x2="59.9" y2="800.8" stroke="#3a3a3a" stroke-width="1.8" />
<line x1="465.8" y1="492.9" x2="465.8" y2="795.3" stroke="#3a3a3a" stroke-width="1.8" />
<line x1="53.9" y1="795.3" x2="465.8" y2="795.3" stroke="#3a3a3a" stroke-width="1.8" />
<line x1="53.9" y1="492.9" x2="59.9" y2="492.9" stroke="#3a3a3a" stroke-width="1.8" />
<line x1="465.8" y1="492.9" x2="471.8" y2="492.9" stroke="#3a3a3a" stroke-width="1.8" />
<line x1="56.5" y1="518.1" x2="59.9" y2="518.1" stroke="#3a3a3a" stroke-width="1.8" />
<line x1="465.8" y1="518.1" x2="469.2" y2="518.1" stroke="#3a3a3a" stroke-width="1.8" />
<line x1="53.9" y1="543.3" x2="59.9" y2="543.3" stroke="#3a3a3a" stroke-width="1.8" />
<line x1="465.8" y1="543.3" x2="471.8" y2="543.3" stroke="#3a3a3a" stroke-width="1.8" />
<line x1="56.5" y1="568.5" x2="59.9" y2="568.5" stroke="#3a3a3a" stroke-width="1.8" />
<line x1="465.8" y1="568.5" x2="469.2" y2="568.5" stroke="#3a3a3a" stroke-width="1.8" />
<line x1="53.9" y1="593.7" x2="59.9" y2="593.7" stroke="#3a3a3a" stroke-width="1.8" />
<line x1="465.8" y1="593.7" x2="471.8" y2="593.7" stroke="#3a3a3a" stroke-width="1.8" />
<line x1="56.5" y1="618.9" x2="59.9" y2="618.9" stroke="#3a3a3a" stroke-width="1.8" />
<line x1="465.8" y1="618.9" x2="469.2" y2="618.9" stroke="#3a3a3a" stroke-width="1.8" />
<line x1="53.9" y1="644.1" x2="59.9" y2="644.1" stroke="#3a3a3a" stroke-width="1.8" />
<line x1="465.8" y1="644.1" x2="471.8" y2="644.1" stroke="#3a3a3a" stroke-width="1.8" />
<line x1="56.5" y1="669.3" x2="59.9" y2="669.3" stroke="#3a3a3a" stroke-width="1.8" />
<line x1="465.8" y1="669.3" x2="469.2" y2="669.3" stroke="#3a3a3a" stroke-width="1.8" />
<line x1="53.9" y1="694.5" x2="59.9" y2="694.5" stroke="#3a3a3a" stroke-width="1.8" />
<line x1="465.8" y1="694.5" x2="471.8" y2="694.5" stroke="#3a3a3a" stroke-width="1.8" />
<line x1="56.5" y1="719.7" x2="59.9" y2="719.7" stroke="#3a3a3a" stroke-width="1.8" />
<line x1="465.8" y1="719.7" x2="469.2" y2="719.7" stroke="#3a3a3a" stroke-width="1.8" />
<line x1="53.9" y1="744.9" x2="59.9" y2="744.9" stroke="#3a3a3a" stroke-width="1.8" />
<line x1="465.8" y1="744.9" x2="471.8" y2="744.9" stroke="#3a3a3a" stroke-width="1.8" />
<line x1="56.5" y1="770.1" x2="59.9" y2="770.1" stroke="#3a3a3a" stroke-width="1.8" />
<line x1="465.8" y1="770.1" x2="469.2" y2="770.1" stroke="#3a3a3a" stroke-width="1.8" />
<line x1="53.9" y1="795.3" x2="59.9" y2="795.3" stroke="#3a3a3a" stroke-width="1.8" />
<line x1="465.8" y1="795.3" x2="471.8" y2="795.3" stroke="#3a3a3a" stroke-width="1.8" />
<text transform="translate(47.9,498.3) scale(1,1.15)" font-size="14.4" text-anchor="end" font-weight="bold" font-family='"Liberation Serif", serif' fill="#141414" >3.0</text>
<text transform="translate(47.9,548.7) scale(1,1.15)" font-size="14.4" text-anchor="end" font-weight="bold" font-family='"Liberation Serif", serif' fill="#141414" >2.0</text>
<text transform="translate(47.9,599.1) scale(1,1.15)" font-size="14.4" text-anchor="end" font-weight="bold" font-family='"Liberation Serif", serif' fill="#141414" >1.0</text>
<text transform="translate(47.9,649.5) scale(1,1.15)" font-size="14.4" text-anchor="end" font-weight="bold" font-family='"Liberation Serif", serif' fill="#141414" >0.0</text>
<text transform="translate(47.9,699.9) scale(1,1.15)" font-size="14.4" text-anchor="end" font-weight="bold" font-family='"Liberation Serif", serif' fill="#141414" >-1.0</text>
<text transform="translate(47.9,750.3) scale(1,1.15)" font-size="14.4" text-anchor="end" font-weight="bold" font-family='"Liberation Serif", serif' fill="#141414" >-2.0</text>
<text transform="translate(47.9,800.7) scale(1,1.15)" font-size="14.4" text-anchor="end" font-weight="bold" font-family='"Liberation Serif", serif' fill="#141414" >-3.0</text>
<text transform="translate(477.5,498.3) scale(1,1.15)" font-size="14.4" text-anchor="start" font-weight="bold" font-family='"Liberation Serif", serif' fill="#141414" >9.0</text>
<text transform="translate(477.5,548.7) scale(1,1.15)" font-size="14.4" text-anchor="start" font-weight="bold" font-family='"Liberation Serif", serif' fill="#141414" >7.5</text>
<text transform="translate(477.5,599.1) scale(1,1.15)" font-size="14.4" text-anchor="start" font-weight="bold" font-family='"Liberation Serif", serif' fill="#141414" >6.0</text>
<text transform="translate(477.5,649.5) scale(1,1.15)" font-size="14.4" text-anchor="start" font-weight="bold" font-family='"Liberation Serif", serif' fill="#141414" >4.5</text>
<text transform="translate(477.5,699.9) scale(1,1.15)" font-size="14.4" text-anchor="start" font-weight="bold" font-family='"Liberation Serif", serif' fill="#141414" >3.0</text>
<text transform="translate(477.5,750.3) scale(1,1.15)" font-size="14.4" text-anchor="start" font-weight="bold" font-family='"Liberation Serif", serif' fill="#141414" >1.5</text>
<text transform="translate(477.5,800.7) scale(1,1.15)" font-size="14.4" text-anchor="start" font-weight="bold" font-family='"Liberation Serif", serif' fill="#141414" >0</text>
<line x1="127.0" y1="795.3" x2="127.0" y2="800.8" stroke="#3a3a3a" stroke-width="1.8" />
<text transform="translate(127.0,815.9) scale(1,1.15)" font-size="14.4" text-anchor="middle" font-weight="bold" font-family='"Liberation Serif", serif' fill="#141414" >6</text>
<line x1="160.9" y1="795.3" x2="160.9" y2="798.7" stroke="#3a3a3a" stroke-width="1.8" />
<line x1="194.8" y1="795.3" x2="194.8" y2="800.8" stroke="#3a3a3a" stroke-width="1.8" />
<text transform="translate(194.8,815.9) scale(1,1.15)" font-size="14.4" text-anchor="middle" font-weight="bold" font-family='"Liberation Serif", serif' fill="#141414" >12</text>
<line x1="228.7" y1="795.3" x2="228.7" y2="798.7" stroke="#3a3a3a" stroke-width="1.8" />
<line x1="262.6" y1="795.3" x2="262.6" y2="800.8" stroke="#3a3a3a" stroke-width="1.8" />
<text transform="translate(262.6,815.9) scale(1,1.15)" font-size="14.4" text-anchor="middle" font-weight="bold" font-family='"Liberation Serif", serif' fill="#141414" >18</text>
<line x1="296.5" y1="795.3" x2="296.5" y2="798.7" stroke="#3a3a3a" stroke-width="1.8" />
<line x1="330.4" y1="795.3" x2="330.4" y2="800.8" stroke="#3a3a3a" stroke-width="1.8" />
<text transform="translate(330.4,815.9) scale(1,1.15)" font-size="14.4" text-anchor="middle" font-weight="bold" font-family='"Liberation Serif", serif' fill="#141414" >24</text>
<line x1="364.3" y1="795.3" x2="364.3" y2="798.7" stroke="#3a3a3a" stroke-width="1.8" />
<line x1="398.2" y1="795.3" x2="398.2" y2="800.8" stroke="#3a3a3a" stroke-width="1.8" />
<text transform="translate(398.2,815.9) scale(1,1.15)" font-size="14.4" text-anchor="middle" font-weight="bold" font-family='"Liberation Serif", serif' fill="#141414" >30</text>
<line x1="432.1" y1="795.3" x2="432.1" y2="798.7" stroke="#3a3a3a" stroke-width="1.8" />
<line x1="466.0" y1="795.3" x2="466.0" y2="800.8" stroke="#3a3a3a" stroke-width="1.8" />
<text transform="translate(466.0,815.9) scale(1,1.15)" font-size="14.4" text-anchor="middle" font-weight="bold" font-family='"Liberation Serif", serif' fill="#141414" >36</text>
<line x1="93.2" y1="795.3" x2="93.2" y2="798.7" stroke="#3a3a3a" stroke-width="1.8" />
<text transform="translate(93.2,815.9) scale(1,1.15)" font-size="14.4" text-anchor="middle" font-weight="bold" font-family='"Liberation Serif", serif' fill="#141414" >0.1</text>
<rect x="109.0" y="793.3" width="7" height="4" fill="#fff"/>
<line x1="107.0" y1="799.3" x2="111.0" y2="791.3" stroke="#8a8a8a" stroke-width="1.1" />
<line x1="111.0" y1="799.3" x2="115.0" y2="791.3" stroke="#8a8a8a" stroke-width="1.1" />
<text transform="translate(276.9,833.6) scale(1,1.08)" font-size="14.8" text-anchor="middle" font-weight="bold" font-family='"Liberation Serif", serif' fill="#141414" >Duration (<tspan font-style="italic">h</tspan>)</text>
<text transform="translate(9.7,648.1) rotate(90)" font-size="14.8" text-anchor="middle" font-weight="bold" font-family='"Liberation Serif", serif' fill="#141414">Strain (%)</text>
<text transform="translate(498.6,653.6) rotate(90)" font-size="14.8" text-anchor="middle" font-weight="bold" font-family='"Liberation Serif", serif' fill="#141414">Stress (<tspan font-style="italic">MPa</tspan>)</text>
<path d="M60.5,795 L75,595 Q75.5,584 78,583.6 L455.5,583.6 L455.5,795" fill="none" stroke="#111" stroke-width="2" stroke-dasharray="6,3.5"/>
<line x1="109.3" y1="583.0" x2="109.3" y2="795.0" stroke="#a8a8a8" stroke-width="0.9" stroke-dasharray="1,1.3"/>
<line x1="430.6" y1="577.0" x2="430.6" y2="795.0" stroke="#a8a8a8" stroke-width="0.9" stroke-dasharray="1,1.3"/>
<line x1="448.7" y1="563.0" x2="448.7" y2="795.0" stroke="#a8a8a8" stroke-width="0.9" stroke-dasharray="1,1.3"/>
<line x1="61.5" y1="644.0" x2="61.5" y2="795.0" stroke="#a8a8a8" stroke-width="0.9" stroke-dasharray="1,1.3"/>
<polyline points="60.0,641.0 62.0,638.0 64.0,635.0 65.0,628.0 67.0,622.0 69.0,620.0 70.0,612.0 72.0,607.0 74.0,601.0 76.0,596.0 78.0,594.0 80.0,591.0 84.0,587.5 88.0,585.5 92.0,584.0 108.0,584.0 112.0,583.0 128.0,582.0 135.0,580.5 142.0,580.0 146.0,581.5 170.0,581.0 250.0,580.0 316.0,579.0 343.0,578.0 398.0,577.5 430.6,577.3 438.0,577.0 441.0,574.0 445.0,570.5 448.5,566.0 448.7,563.0 449.0,530.0 449.3,497.0" fill="none" stroke="#1a1ae0" stroke-width="2.5" stroke-linejoin="round" stroke-linecap="round" />
<polyline points="60.0,644.0 62.0,650.0 64.0,653.0 66.0,658.0 68.0,665.0 70.0,670.0 72.0,674.0 75.0,678.0 78.0,680.0 82.0,682.0 86.0,684.0 90.0,686.0 95.0,689.0 100.0,690.0 108.0,692.0 112.0,694.0 120.0,695.0 135.0,696.0 200.0,696.0 230.0,696.5 421.0,696.5 430.0,697.5 437.0,699.0 440.0,702.0 443.0,706.0 445.0,712.0 447.0,718.0 448.0,722.0 448.5,740.0 448.7,795.0" fill="none" stroke="#f51a1a" stroke-width="2.5" stroke-linejoin="round" stroke-linecap="round" />
<circle cx="109.3" cy="583.0" r="1.9" fill="#9c9c9c"/>
<circle cx="430.6" cy="577.3" r="1.9" fill="#9c9c9c"/>
<circle cx="448.7" cy="563.0" r="1.9" fill="#9c9c9c"/>
<circle cx="430.6" cy="795.0" r="1.9" fill="#9c9c9c"/>
<circle cx="448.7" cy="795.0" r="1.9" fill="#9c9c9c"/>
<circle cx="61.5" cy="795.0" r="1.9" fill="#9c9c9c"/>
<polygon points="456.2,501.8 452.6,501.5 455.0,504.5 451.5,502.5 452.4,506.4 450.1,503.0 449.1,505.8 448.6,502.9 445.9,505.7 447.3,502.2 443.6,503.6 446.4,501.1 442.6,501.0 446.2,499.8 443.8,498.4 446.6,498.5 445.2,496.4 447.7,497.5 447.2,494.5 449.1,497.0 450.1,493.5 450.6,497.1 452.8,495.0 451.9,497.8 455.2,496.5 452.8,498.9 456.0,499.1 453.0,500.2" fill="#1a1a1a"/>
<polygon points="453.3,496.9 453.9,498.6 453.4,500.7 451.8,502.6 449.7,503.8 447.5,504.0 445.9,503.1 445.3,501.4 445.8,499.3 447.4,497.4 449.5,496.2 451.7,496.0" fill="#f00a0a"/>
<line x1="61.5" y1="640.3" x2="108.5" y2="640.3" stroke="#78bb58" stroke-width="1.3" />
<polyline points="103.7,637.2 108.5,640.3 103.7,643.4" fill="none" stroke="#78bb58" stroke-width="1.3"/>
<polyline points="66.3,637.2 61.5,640.3 66.3,643.4" fill="none" stroke="#78bb58" stroke-width="1.3"/>
<line x1="111.0" y1="621.6" x2="429.0" y2="621.6" stroke="#78bb58" stroke-width="1.3" />
<polyline points="424.2,618.5 429.0,621.6 424.2,624.7" fill="none" stroke="#78bb58" stroke-width="1.3"/>
<polyline points="115.8,618.5 111.0,621.6 115.8,624.7" fill="none" stroke="#78bb58" stroke-width="1.3"/>
<line x1="432.0" y1="612.1" x2="447.0" y2="612.1" stroke="#78bb58" stroke-width="1.3" />
<polyline points="442.2,609.0 447.0,612.1 442.2,615.2" fill="none" stroke="#78bb58" stroke-width="1.3"/>
<polyline points="436.8,609.0 432.0,612.1 436.8,615.2" fill="none" stroke="#78bb58" stroke-width="1.3"/>
<text transform="translate(79.8,615.4) scale(1,1.08)" font-size="14.4" text-anchor="start" font-weight="bold" font-family='"Liberation Serif", serif' fill="#141414" >first</text>
<text transform="translate(79.8,632.0) scale(1,1.08)" font-size="14.4" text-anchor="start" font-weight="bold" font-family='"Liberation Serif", serif' fill="#141414" >stage</text>
<text transform="translate(270.0,615.0) scale(1,1.08)" font-size="14.4" text-anchor="middle" font-weight="bold" font-family='"Liberation Serif", serif' fill="#141414" >second stage</text>
<text transform="translate(425.9,596.3) scale(1,1.08)" font-size="14.4" text-anchor="end" font-weight="bold" font-family='"Liberation Serif", serif' fill="#141414" >third</text>
<text transform="translate(425.9,613.1) scale(1,1.08)" font-size="14.4" text-anchor="end" font-weight="bold" font-family='"Liberation Serif", serif' fill="#141414" >stage</text>
<text transform="translate(442.0,512.3) scale(1,1.08)" font-size="12.6" text-anchor="end" font-weight="bold" font-family='"Liberation Serif", serif' fill="#141414" >failure</text>
<text transform="translate(442.0,787.3) scale(1,1.08)" font-size="12.8" text-anchor="end" font-weight="bold" font-family='"Liberation Serif", serif' fill="#141414" ><tspan font-style="italic">σ</tspan>=6.4 MPa</text>
<line x1="64.9" y1="749.7" x2="92.9" y2="749.7" stroke="#3a3a3a" stroke-width="1.5" stroke-dasharray="4.5,2.5"/>
<line x1="64.9" y1="767.7" x2="92.9" y2="767.7" stroke="#f51a1a" stroke-width="2.4" />
<line x1="64.9" y1="783.9" x2="92.9" y2="783.9" stroke="#1a1ae0" stroke-width="2.4" />
<text transform="translate(100.9,755.0) scale(1,1.08)" font-size="12.6" text-anchor="start" font-weight="bold" font-family='"Liberation Serif", serif' fill="#141414" >stress</text>
<text transform="translate(100.9,773.0) scale(1,1.08)" font-size="12.6" text-anchor="start" font-weight="bold" font-family='"Liberation Serif", serif' fill="#141414" >radial strain</text>
<text transform="translate(100.9,789.2) scale(1,1.08)" font-size="12.6" text-anchor="start" font-weight="bold" font-family='"Liberation Serif", serif' fill="#141414" >axial strain</text>
<text transform="translate(29.6,908.5) scale(1,1.05)" font-size="41" text-anchor="start" font-weight="bold" font-family='"Liberation Sans", sans-serif' fill="#111" >(C)</text>
<text transform="translate(121.7,910.4) scale(1,1.13)" font-size="34.5" text-anchor="start" font-weight="normal" font-family='"Liberation Serif", serif' fill="#111" >Creep curve of USO-3</text>
<rect x="857.0" y="707.0" width="118.6" height="85.1" fill="#fff"/>
<line x1="857.0" y1="707.0" x2="975.6" y2="707.0" stroke="#d0d0d0" stroke-width="1.2" />
<line x1="857.0" y1="707.0" x2="857.0" y2="792.1" stroke="#ececec" stroke-width="1" />
<line x1="975.6" y1="707.0" x2="975.6" y2="792.1" stroke="#3c3c3c" stroke-width="1.6" />
<line x1="857.0" y1="792.1" x2="975.6" y2="792.1" stroke="#3c3c3c" stroke-width="1.6" />
<line x1="871.8" y1="713.8" x2="871.8" y2="781.4" stroke="#555" stroke-width="0.9" />
<line x1="871.8" y1="781.4" x2="963.4" y2="781.4" stroke="#555" stroke-width="0.9" />
<line x1="870.3" y1="770.1" x2="871.8" y2="770.1" stroke="#777" stroke-width="0.6" />
<line x1="870.3" y1="758.9" x2="871.8" y2="758.9" stroke="#777" stroke-width="0.6" />
<line x1="870.3" y1="747.6" x2="871.8" y2="747.6" stroke="#777" stroke-width="0.6" />
<line x1="870.3" y1="736.3" x2="871.8" y2="736.3" stroke="#777" stroke-width="0.6" />
<line x1="870.3" y1="725.1" x2="871.8" y2="725.1" stroke="#777" stroke-width="0.6" />
<path d="M872.4,781.4V756.2M873.9,781.4V765.6M875.3,781.4V761.5M876.8,781.4V770.2M878.2,781.4V773.8M879.6,781.4V770.6M881.1,781.4V766.5M882.5,781.4V769.8M884.0,781.4V771.7M885.4,781.4V776.8M886.9,781.4V775.2M888.4,781.4V777.3M889.8,781.4V778.2M891.2,781.4V778.8M892.7,781.4V778.4M894.1,781.4V775.1M895.6,781.4V775.8M897.0,781.4V776.0M898.5,781.4V776.2M899.9,781.4V778.9M901.4,781.4V778.4M902.9,781.4V777.1M904.3,781.4V776.7M905.8,781.4V776.2M907.2,781.4V776.1M908.6,781.4V779.4M910.1,781.4V777.3M911.5,781.4V777.0M913.0,781.4V777.7M914.4,781.4V779.0M915.9,781.4V777.8M917.4,781.4V779.4M918.8,781.4V776.0M920.2,781.4V776.3M921.7,781.4V777.6M923.1,781.4V778.6M924.6,781.4V776.1M926.0,781.4V777.5M927.5,781.4V776.2M928.9,781.4V776.3M930.4,781.4V777.7M931.9,781.4V778.1M933.3,781.4V777.3M934.8,781.4V778.0M936.2,781.4V779.1M937.6,781.4V778.5M939.1,781.4V776.4M940.5,781.4V779.6M942.0,781.4V779.5M943.4,781.4V777.0M944.9,781.4V778.4M946.4,781.4V777.2M947.8,781.4V777.3M949.2,781.4V777.7M950.7,781.4V773.8M952.1,781.4V777.8M953.6,781.4V775.6M955.0,781.4V776.2M956.5,781.4V770.2M957.9,781.4V771.8M959.4,781.4V767.0M960.9,781.4V751.1M962.3,781.4V754.5" stroke="#141414" stroke-width="1.0" fill="none" opacity="0.9"/>
<polyline points="872.0,781.0 872.3,740.0 872.5,718.0 873.5,728.0 874.5,745.0 876.0,758.0 878.0,765.0 881.0,769.5 886.0,772.0 895.0,774.5 910.0,776.0 930.0,776.0 945.0,775.0 951.0,773.0 954.5,769.0 956.3,758.0 957.5,740.0 959.0,722.0 961.0,716.0 962.2,722.0 963.0,750.0 963.4,780.0" fill="none" stroke="#4a6fb5" stroke-width="1.3" stroke-linejoin="round" stroke-linecap="round" stroke-dasharray="4.5,2"/>
<text transform="translate(869.3,715.8) scale(1,1.08)" font-size="4.5" text-anchor="end" font-weight="bold" font-family='"Liberation Serif", serif' fill="#333" >40</text>
<text transform="translate(869.3,782.9) scale(1,1.08)" font-size="4.5" text-anchor="end" font-weight="bold" font-family='"Liberation Serif", serif' fill="#333" >0</text>
<text transform="translate(963.4,788.4) scale(1,1.08)" font-size="5" text-anchor="middle" font-weight="bold" font-family='"Liberation Serif", serif' fill="#333" >28.6</text>
<text transform="translate(925.6,791.4) scale(1,1.08)" font-size="5.2" text-anchor="middle" font-weight="bold" font-family='"Liberation Serif", serif' fill="#333" >Duration (h)</text>
<text transform="translate(862.8,747.6) rotate(90)" font-size="5" font-weight="bold" text-anchor="middle" font-family='"Liberation Serif", serif' fill="#444">Count</text>
<line x1="924.0" y1="714.5" x2="932.0" y2="714.5" stroke="#666" stroke-width="0.9" />
<text transform="translate(934.0,716.3) scale(1,1.08)" font-size="4" text-anchor="start" font-weight="bold" font-family='"Liberation Serif", serif' fill="#555" >• • •</text>
<line x1="740.0" y1="492.9" x2="740.0" y2="800.8" stroke="#3a3a3a" stroke-width="1.8" />
<line x1="1146.3" y1="492.9" x2="1146.3" y2="795.3" stroke="#3a3a3a" stroke-width="1.8" />
<line x1="734.0" y1="795.3" x2="1146.3" y2="795.3" stroke="#3a3a3a" stroke-width="1.8" />
<line x1="734.0" y1="492.9" x2="740.0" y2="492.9" stroke="#3a3a3a" stroke-width="1.8" />
<line x1="1146.3" y1="492.9" x2="1152.3" y2="492.9" stroke="#3a3a3a" stroke-width="1.8" />
<line x1="736.6" y1="518.1" x2="740.0" y2="518.1" stroke="#3a3a3a" stroke-width="1.8" />
<line x1="1146.3" y1="518.1" x2="1149.7" y2="518.1" stroke="#3a3a3a" stroke-width="1.8" />
<line x1="734.0" y1="543.3" x2="740.0" y2="543.3" stroke="#3a3a3a" stroke-width="1.8" />
<line x1="1146.3" y1="543.3" x2="1152.3" y2="543.3" stroke="#3a3a3a" stroke-width="1.8" />
<line x1="736.6" y1="568.5" x2="740.0" y2="568.5" stroke="#3a3a3a" stroke-width="1.8" />
<line x1="1146.3" y1="568.5" x2="1149.7" y2="568.5" stroke="#3a3a3a" stroke-width="1.8" />
<line x1="734.0" y1="593.7" x2="740.0" y2="593.7" stroke="#3a3a3a" stroke-width="1.8" />
<line x1="1146.3" y1="593.7" x2="1152.3" y2="593.7" stroke="#3a3a3a" stroke-width="1.8" />
<line x1="736.6" y1="618.9" x2="740.0" y2="618.9" stroke="#3a3a3a" stroke-width="1.8" />
<line x1="1146.3" y1="618.9" x2="1149.7" y2="618.9" stroke="#3a3a3a" stroke-width="1.8" />
<line x1="734.0" y1="644.1" x2="740.0" y2="644.1" stroke="#3a3a3a" stroke-width="1.8" />
<line x1="1146.3" y1="644.1" x2="1152.3" y2="644.1" stroke="#3a3a3a" stroke-width="1.8" />
<line x1="736.6" y1="669.3" x2="740.0" y2="669.3" stroke="#3a3a3a" stroke-width="1.8" />
<line x1="1146.3" y1="669.3" x2="1149.7" y2="669.3" stroke="#3a3a3a" stroke-width="1.8" />
<line x1="734.0" y1="694.5" x2="740.0" y2="694.5" stroke="#3a3a3a" stroke-width="1.8" />
<line x1="1146.3" y1="694.5" x2="1152.3" y2="694.5" stroke="#3a3a3a" stroke-width="1.8" />
<line x1="736.6" y1="719.7" x2="740.0" y2="719.7" stroke="#3a3a3a" stroke-width="1.8" />
<line x1="1146.3" y1="719.7" x2="1149.7" y2="719.7" stroke="#3a3a3a" stroke-width="1.8" />
<line x1="734.0" y1="744.9" x2="740.0" y2="744.9" stroke="#3a3a3a" stroke-width="1.8" />
<line x1="1146.3" y1="744.9" x2="1152.3" y2="744.9" stroke="#3a3a3a" stroke-width="1.8" />
<line x1="736.6" y1="770.1" x2="740.0" y2="770.1" stroke="#3a3a3a" stroke-width="1.8" />
<line x1="1146.3" y1="770.1" x2="1149.7" y2="770.1" stroke="#3a3a3a" stroke-width="1.8" />
<line x1="734.0" y1="795.3" x2="740.0" y2="795.3" stroke="#3a3a3a" stroke-width="1.8" />
<line x1="1146.3" y1="795.3" x2="1152.3" y2="795.3" stroke="#3a3a3a" stroke-width="1.8" />
<text transform="translate(728.0,498.3) scale(1,1.15)" font-size="14.4" text-anchor="end" font-weight="bold" font-family='"Liberation Serif", serif' fill="#141414" >3.0</text>
<text transform="translate(728.0,548.7) scale(1,1.15)" font-size="14.4" text-anchor="end" font-weight="bold" font-family='"Liberation Serif", serif' fill="#141414" >2.0</text>
<text transform="translate(728.0,599.1) scale(1,1.15)" font-size="14.4" text-anchor="end" font-weight="bold" font-family='"Liberation Serif", serif' fill="#141414" >1.0</text>
<text transform="translate(728.0,649.5) scale(1,1.15)" font-size="14.4" text-anchor="end" font-weight="bold" font-family='"Liberation Serif", serif' fill="#141414" >0.0</text>
<text transform="translate(728.0,699.9) scale(1,1.15)" font-size="14.4" text-anchor="end" font-weight="bold" font-family='"Liberation Serif", serif' fill="#141414" >-1.0</text>
<text transform="translate(728.0,750.3) scale(1,1.15)" font-size="14.4" text-anchor="end" font-weight="bold" font-family='"Liberation Serif", serif' fill="#141414" >-2.0</text>
<text transform="translate(728.0,800.7) scale(1,1.15)" font-size="14.4" text-anchor="end" font-weight="bold" font-family='"Liberation Serif", serif' fill="#141414" >-3.0</text>
<text transform="translate(1157.7,498.3) scale(1,1.15)" font-size="14.4" text-anchor="start" font-weight="bold" font-family='"Liberation Serif", serif' fill="#141414" >9.0</text>
<text transform="translate(1157.7,548.7) scale(1,1.15)" font-size="14.4" text-anchor="start" font-weight="bold" font-family='"Liberation Serif", serif' fill="#141414" >7.5</text>
<text transform="translate(1157.7,599.1) scale(1,1.15)" font-size="14.4" text-anchor="start" font-weight="bold" font-family='"Liberation Serif", serif' fill="#141414" >6.0</text>
<text transform="translate(1157.7,649.5) scale(1,1.15)" font-size="14.4" text-anchor="start" font-weight="bold" font-family='"Liberation Serif", serif' fill="#141414" >4.5</text>
<text transform="translate(1157.7,699.9) scale(1,1.15)" font-size="14.4" text-anchor="start" font-weight="bold" font-family='"Liberation Serif", serif' fill="#141414" >3.0</text>
<text transform="translate(1157.7,750.3) scale(1,1.15)" font-size="14.4" text-anchor="start" font-weight="bold" font-family='"Liberation Serif", serif' fill="#141414" >1.5</text>
<text transform="translate(1157.7,800.7) scale(1,1.15)" font-size="14.4" text-anchor="start" font-weight="bold" font-family='"Liberation Serif", serif' fill="#141414" >0</text>
<line x1="807.5" y1="795.3" x2="807.5" y2="800.8" stroke="#3a3a3a" stroke-width="1.8" />
<text transform="translate(807.5,815.9) scale(1,1.15)" font-size="14.4" text-anchor="middle" font-weight="bold" font-family='"Liberation Serif", serif' fill="#141414" >5</text>
<line x1="841.4" y1="795.3" x2="841.4" y2="798.7" stroke="#3a3a3a" stroke-width="1.8" />
<line x1="875.3" y1="795.3" x2="875.3" y2="800.8" stroke="#3a3a3a" stroke-width="1.8" />
<text transform="translate(875.3,815.9) scale(1,1.15)" font-size="14.4" text-anchor="middle" font-weight="bold" font-family='"Liberation Serif", serif' fill="#141414" >10</text>
<line x1="909.1" y1="795.3" x2="909.1" y2="798.7" stroke="#3a3a3a" stroke-width="1.8" />
<line x1="943.0" y1="795.3" x2="943.0" y2="800.8" stroke="#3a3a3a" stroke-width="1.8" />
<text transform="translate(943.0,815.9) scale(1,1.15)" font-size="14.4" text-anchor="middle" font-weight="bold" font-family='"Liberation Serif", serif' fill="#141414" >15</text>
<line x1="976.9" y1="795.3" x2="976.9" y2="798.7" stroke="#3a3a3a" stroke-width="1.8" />
<line x1="1010.8" y1="795.3" x2="1010.8" y2="800.8" stroke="#3a3a3a" stroke-width="1.8" />
<text transform="translate(1010.8,815.9) scale(1,1.15)" font-size="14.4" text-anchor="middle" font-weight="bold" font-family='"Liberation Serif", serif' fill="#141414" >20</text>
<line x1="1044.7" y1="795.3" x2="1044.7" y2="798.7" stroke="#3a3a3a" stroke-width="1.8" />
<line x1="1078.5" y1="795.3" x2="1078.5" y2="800.8" stroke="#3a3a3a" stroke-width="1.8" />
<text transform="translate(1078.5,815.9) scale(1,1.15)" font-size="14.4" text-anchor="middle" font-weight="bold" font-family='"Liberation Serif", serif' fill="#141414" >25</text>
<line x1="1112.4" y1="795.3" x2="1112.4" y2="798.7" stroke="#3a3a3a" stroke-width="1.8" />
<line x1="1146.3" y1="795.3" x2="1146.3" y2="800.8" stroke="#3a3a3a" stroke-width="1.8" />
<text transform="translate(1146.3,815.9) scale(1,1.15)" font-size="14.4" text-anchor="middle" font-weight="bold" font-family='"Liberation Serif", serif' fill="#141414" >30</text>
<line x1="773.3" y1="795.3" x2="773.3" y2="798.7" stroke="#3a3a3a" stroke-width="1.8" />
<text transform="translate(773.3,815.9) scale(1,1.15)" font-size="14.4" text-anchor="middle" font-weight="bold" font-family='"Liberation Serif", serif' fill="#141414" >0.1</text>
<rect x="790.1" y="793.3" width="7" height="4" fill="#fff"/>
<line x1="788.1" y1="799.3" x2="792.1" y2="791.3" stroke="#8a8a8a" stroke-width="1.1" />
<line x1="792.1" y1="799.3" x2="796.1" y2="791.3" stroke="#8a8a8a" stroke-width="1.1" />
<text transform="translate(957.4,833.6) scale(1,1.08)" font-size="14.8" text-anchor="middle" font-weight="bold" font-family='"Liberation Serif", serif' fill="#141414" >Duration (<tspan font-style="italic">h</tspan>)</text>
<text transform="translate(689.9,648.1) rotate(90)" font-size="14.8" text-anchor="middle" font-weight="bold" font-family='"Liberation Serif", serif' fill="#141414">Strain (%)</text>
<text transform="translate(1178.6,653.6) rotate(90)" font-size="14.8" text-anchor="middle" font-weight="bold" font-family='"Liberation Serif", serif' fill="#141414">Stress (<tspan font-style="italic">MPa</tspan>)</text>
<path d="M741,795 L754.5,550 Q755,540 757.5,539.5 L1133.9,539.5 L1133.9,795" fill="none" stroke="#111" stroke-width="2" stroke-dasharray="6,3.5"/>
<line x1="778.4" y1="558.0" x2="778.4" y2="795.0" stroke="#a8a8a8" stroke-width="0.9" stroke-dasharray="1,1.3"/>
<line x1="1105.0" y1="552.0" x2="1105.0" y2="795.0" stroke="#a8a8a8" stroke-width="0.9" stroke-dasharray="1,1.3"/>
<line x1="1129.0" y1="540.0" x2="1129.0" y2="795.0" stroke="#a8a8a8" stroke-width="0.9" stroke-dasharray="1,1.3"/>
<line x1="741.5" y1="644.0" x2="741.5" y2="795.0" stroke="#a8a8a8" stroke-width="0.9" stroke-dasharray="1,1.3"/>
<polyline points="740.0,644.0 742.0,638.0 743.0,633.0 745.0,628.0 748.0,623.0 750.0,618.0 752.0,612.0 753.0,606.0 754.0,598.0 754.5,588.0 755.5,578.0 757.0,572.0 760.0,568.0 765.0,566.0 770.0,564.0 775.0,563.0 777.0,560.0 779.0,558.0 785.0,557.5 836.0,557.5 838.0,555.5 860.0,555.0 862.0,554.0 940.0,553.5 948.0,552.5 965.0,552.0 1105.0,552.0 1110.0,550.0 1118.0,548.5 1122.0,547.0 1125.0,544.0 1128.0,541.0 1129.0,540.0 1129.2,507.0" fill="none" stroke="#1a1ae0" stroke-width="2.5" stroke-linejoin="round" stroke-linecap="round" />
<polyline points="740.0,644.0 742.0,650.0 744.0,656.0 746.0,661.0 748.0,664.0 750.0,670.0 752.0,674.0 754.0,677.0 756.0,679.0 758.0,682.0 760.0,685.0 764.0,688.0 768.0,689.0 773.0,692.0 776.0,695.0 782.0,697.0 790.0,698.0 800.0,698.5 808.0,700.0 812.0,702.0 825.0,702.5 1042.7,702.7 1043.5,704.3 1068.0,704.3 1069.0,705.5 1105.0,705.5 1112.0,706.5 1117.0,708.0 1119.0,712.0 1120.0,717.0 1122.0,719.0 1125.0,721.0 1127.0,724.0 1128.0,727.0 1128.5,740.0 1128.7,795.0" fill="none" stroke="#f51a1a" stroke-width="2.5" stroke-linejoin="round" stroke-linecap="round" />
<circle cx="778.4" cy="558.0" r="1.9" fill="#9c9c9c"/>
<circle cx="1105.0" cy="552.0" r="1.9" fill="#9c9c9c"/>
<circle cx="1129.0" cy="540.0" r="1.9" fill="#9c9c9c"/>
<circle cx="1105.0" cy="795.0" r="1.9" fill="#9c9c9c"/>
<circle cx="1129.0" cy="795.0" r="1.9" fill="#9c9c9c"/>
<circle cx="741.5" cy="795.0" r="1.9" fill="#9c9c9c"/>
<circle cx="778.4" cy="795.0" r="1.9" fill="#9c9c9c"/>
<polygon points="1137.6,500.8 1134.0,500.5 1136.4,503.5 1132.9,501.5 1133.8,505.4 1131.5,502.0 1130.5,504.8 1130.0,501.9 1127.3,504.7 1128.7,501.2 1125.0,502.6 1127.8,500.1 1124.0,500.0 1127.6,498.8 1125.2,497.4 1128.0,497.5 1126.6,495.4 1129.1,496.5 1128.6,493.5 1130.5,496.0 1131.5,492.5 1132.0,496.1 1134.2,494.0 1133.3,496.8 1136.6,495.5 1134.2,497.9 1137.4,498.1 1134.4,499.2" fill="#1a1a1a"/>
<polygon points="1134.7,495.9 1135.3,497.6 1134.8,499.7 1133.2,501.6 1131.1,502.8 1128.9,503.0 1127.3,502.1 1126.7,500.4 1127.2,498.3 1128.8,496.4 1130.9,495.2 1133.1,495.0" fill="#f00a0a"/>
<line x1="741.5" y1="640.3" x2="777.0" y2="640.3" stroke="#78bb58" stroke-width="1.3" />
<polyline points="772.2,637.2 777.0,640.3 772.2,643.4" fill="none" stroke="#78bb58" stroke-width="1.3"/>
<polyline points="746.3,637.2 741.5,640.3 746.3,643.4" fill="none" stroke="#78bb58" stroke-width="1.3"/>
<line x1="780.0" y1="600.7" x2="1103.5" y2="600.7" stroke="#78bb58" stroke-width="1.3" />
<polyline points="1098.7,597.6 1103.5,600.7 1098.7,603.8" fill="none" stroke="#78bb58" stroke-width="1.3"/>
<polyline points="784.8,597.6 780.0,600.7 784.8,603.8" fill="none" stroke="#78bb58" stroke-width="1.3"/>
<line x1="1107.0" y1="592.2" x2="1128.0" y2="592.2" stroke="#78bb58" stroke-width="1.3" />
<polyline points="1123.2,589.1 1128.0,592.2 1123.2,595.3" fill="none" stroke="#78bb58" stroke-width="1.3"/>
<polyline points="1111.8,589.1 1107.0,592.2 1111.8,595.3" fill="none" stroke="#78bb58" stroke-width="1.3"/>
<text transform="translate(760.0,615.4) scale(1,1.08)" font-size="14.4" text-anchor="start" font-weight="bold" font-family='"Liberation Serif", serif' fill="#141414" >first</text>
<text transform="translate(760.0,632.1) scale(1,1.08)" font-size="14.4" text-anchor="start" font-weight="bold" font-family='"Liberation Serif", serif' fill="#141414" >stage</text>
<text transform="translate(949.0,592.2) scale(1,1.08)" font-size="14.4" text-anchor="middle" font-weight="bold" font-family='"Liberation Serif", serif' fill="#141414" >second stage</text>
<text transform="translate(1103.9,571.6) scale(1,1.08)" font-size="14.4" text-anchor="end" font-weight="bold" font-family='"Liberation Serif", serif' fill="#141414" >third</text>
<text transform="translate(1103.9,588.4) scale(1,1.08)" font-size="14.4" text-anchor="end" font-weight="bold" font-family='"Liberation Serif", serif' fill="#141414" >stage</text>
<text transform="translate(1122.0,512.3) scale(1,1.08)" font-size="12.6" text-anchor="end" font-weight="bold" font-family='"Liberation Serif", serif' fill="#141414" >failure</text>
<text transform="translate(1122.1,787.3) scale(1,1.08)" font-size="12.8" text-anchor="end" font-weight="bold" font-family='"Liberation Serif", serif' fill="#141414" ><tspan font-style="italic">σ</tspan>=7.6 MPa</text>
<line x1="745.0" y1="749.7" x2="773.0" y2="749.7" stroke="#3a3a3a" stroke-width="1.5" stroke-dasharray="4.5,2.5"/>
<line x1="745.0" y1="767.7" x2="773.0" y2="767.7" stroke="#f51a1a" stroke-width="2.4" />
<line x1="745.0" y1="783.9" x2="773.0" y2="783.9" stroke="#1a1ae0" stroke-width="2.4" />
<text transform="translate(781.0,755.0) scale(1,1.08)" font-size="12.6" text-anchor="start" font-weight="bold" font-family='"Liberation Serif", serif' fill="#141414" >stress</text>
<text transform="translate(781.0,773.0) scale(1,1.08)" font-size="12.6" text-anchor="start" font-weight="bold" font-family='"Liberation Serif", serif' fill="#141414" >radial strain</text>
<text transform="translate(781.0,789.2) scale(1,1.08)" font-size="12.6" text-anchor="start" font-weight="bold" font-family='"Liberation Serif", serif' fill="#141414" >axial strain</text>
<text transform="translate(762.9,908.4) scale(1,1.05)" font-size="41" text-anchor="start" font-weight="bold" font-family='"Liberation Sans", sans-serif' fill="#111" >(D)</text>
<text transform="translate(830.6,910.4) scale(1,1.13)" font-size="34.5" text-anchor="start" font-weight="normal" font-family='"Liberation Serif", serif' fill="#111" >Creep curve of USO-4</text>
<rect x="291.3" y="1088.9" width="133.4" height="97.8" fill="#fff"/>
<line x1="291.3" y1="1088.9" x2="424.7" y2="1088.9" stroke="#a8a8a8" stroke-width="1.2" />
<line x1="291.3" y1="1088.9" x2="291.3" y2="1186.7" stroke="#ececec" stroke-width="1" />
<line x1="424.7" y1="1088.9" x2="424.7" y2="1186.7" stroke="#3c3c3c" stroke-width="1.6" />
<line x1="291.3" y1="1186.7" x2="424.7" y2="1186.7" stroke="#3c3c3c" stroke-width="1.6" />
<line x1="307.8" y1="1096.5" x2="307.8" y2="1174.1" stroke="#555" stroke-width="0.9" />
<line x1="307.8" y1="1174.1" x2="411.6" y2="1174.1" stroke="#555" stroke-width="0.9" />
<line x1="306.3" y1="1161.2" x2="307.8" y2="1161.2" stroke="#777" stroke-width="0.6" />
<line x1="306.3" y1="1148.2" x2="307.8" y2="1148.2" stroke="#777" stroke-width="0.6" />
<line x1="306.3" y1="1135.3" x2="307.8" y2="1135.3" stroke="#777" stroke-width="0.6" />
<line x1="306.3" y1="1122.4" x2="307.8" y2="1122.4" stroke="#777" stroke-width="0.6" />
<line x1="306.3" y1="1109.4" x2="307.8" y2="1109.4" stroke="#777" stroke-width="0.6" />
<path d="M308.4,1174.1V1151.7M309.9,1174.1V1159.7M311.3,1174.1V1164.5M312.8,1174.1V1166.4M314.2,1174.1V1168.9M315.7,1174.1V1168.8M317.1,1174.1V1172.5M318.6,1174.1V1171.0M320.0,1174.1V1169.3M321.5,1174.1V1170.4M322.9,1174.1V1169.5M324.4,1174.1V1172.3M325.8,1174.1V1171.1M327.3,1174.1V1171.8M328.7,1174.1V1170.8M330.2,1174.1V1170.7M331.6,1174.1V1172.7M333.1,1174.1V1171.9M334.5,1174.1V1171.7M336.0,1174.1V1169.5M337.4,1174.1V1170.0M338.9,1174.1V1172.1M340.3,1174.1V1169.9M341.8,1174.1V1172.2M343.2,1174.1V1170.5M344.7,1174.1V1172.3M346.1,1174.1V1172.7M347.6,1174.1V1169.7M349.0,1174.1V1172.0M350.5,1174.1V1172.0M351.9,1174.1V1169.3M353.4,1174.1V1169.7M354.8,1174.1V1171.7M356.3,1174.1V1169.3M357.7,1174.1V1170.8M359.2,1174.1V1170.3M360.6,1174.1V1172.0M362.1,1174.1V1169.4M363.5,1174.1V1170.3M365.0,1174.1V1169.3M366.4,1174.1V1169.6M367.9,1174.1V1171.7M369.3,1174.1V1171.4M370.8,1174.1V1172.1M372.2,1174.1V1172.2M373.7,1174.1V1172.5M375.1,1174.1V1171.6M376.6,1174.1V1170.6M378.0,1174.1V1172.7M379.5,1174.1V1170.3M380.9,1174.1V1171.5M382.4,1174.1V1171.6M383.8,1174.1V1169.8M385.2,1174.1V1170.9M386.7,1174.1V1171.5M388.2,1174.1V1170.9M389.6,1174.1V1170.0M391.1,1174.1V1172.3M392.5,1174.1V1168.6M394.0,1174.1V1172.3M395.4,1174.1V1168.9M396.9,1174.1V1168.0M398.3,1174.1V1171.8M399.8,1174.1V1166.5M401.2,1174.1V1168.3M402.7,1174.1V1164.9M404.1,1174.1V1169.3M405.6,1174.1V1167.2M407.0,1174.1V1162.3M408.5,1174.1V1136.8M409.9,1174.1V1151.6" stroke="#141414" stroke-width="1.0" fill="none" opacity="0.9"/>
<polyline points="307.8,1173.0 308.3,1120.0 309.5,1106.8 311.0,1110.0 312.0,1120.0 313.0,1135.0 315.0,1150.0 318.0,1158.0 322.0,1163.0 330.0,1166.0 345.0,1167.5 370.0,1167.5 390.0,1166.5 398.0,1165.0 402.0,1160.0 404.0,1150.0 406.0,1120.0 408.0,1100.0 409.9,1097.1 411.0,1110.0 411.6,1172.0" fill="none" stroke="#4a6fb5" stroke-width="1.3" stroke-linejoin="round" stroke-linecap="round" stroke-dasharray="4.5,2"/>
<text transform="translate(305.3,1098.5) scale(1,1.08)" font-size="4.5" text-anchor="end" font-weight="bold" font-family='"Liberation Serif", serif' fill="#333" >57</text>
<text transform="translate(305.3,1175.6) scale(1,1.08)" font-size="4.5" text-anchor="end" font-weight="bold" font-family='"Liberation Serif", serif' fill="#333" >0</text>
<text transform="translate(411.6,1181.1) scale(1,1.08)" font-size="5" text-anchor="middle" font-weight="bold" font-family='"Liberation Serif", serif' fill="#333" >11.5</text>
<text transform="translate(367.7,1184.1) scale(1,1.08)" font-size="5.2" text-anchor="middle" font-weight="bold" font-family='"Liberation Serif", serif' fill="#333" >Duration (h)</text>
<text transform="translate(298.8,1135.3) rotate(90)" font-size="5" font-weight="bold" text-anchor="middle" font-family='"Liberation Serif", serif' fill="#444">Count</text>
<line x1="370.0" y1="1102.0" x2="378.0" y2="1102.0" stroke="#666" stroke-width="0.9" />
<text transform="translate(380.0,1103.8) scale(1,1.08)" font-size="4" text-anchor="start" font-weight="bold" font-family='"Liberation Serif", serif' fill="#555" >• • •</text>
<line x1="59.9" y1="977.5" x2="59.9" y2="1285.4" stroke="#3a3a3a" stroke-width="1.8" />
<line x1="466.2" y1="977.5" x2="466.2" y2="1279.9" stroke="#3a3a3a" stroke-width="1.8" />
<line x1="53.9" y1="1279.9" x2="466.2" y2="1279.9" stroke="#3a3a3a" stroke-width="1.8" />
<line x1="53.9" y1="977.5" x2="59.9" y2="977.5" stroke="#3a3a3a" stroke-width="1.8" />
<line x1="466.2" y1="977.5" x2="472.2" y2="977.5" stroke="#3a3a3a" stroke-width="1.8" />
<line x1="56.5" y1="1002.7" x2="59.9" y2="1002.7" stroke="#3a3a3a" stroke-width="1.8" />
<line x1="466.2" y1="1002.7" x2="469.6" y2="1002.7" stroke="#3a3a3a" stroke-width="1.8" />
<line x1="53.9" y1="1027.9" x2="59.9" y2="1027.9" stroke="#3a3a3a" stroke-width="1.8" />
<line x1="466.2" y1="1027.9" x2="472.2" y2="1027.9" stroke="#3a3a3a" stroke-width="1.8" />
<line x1="56.5" y1="1053.1" x2="59.9" y2="1053.1" stroke="#3a3a3a" stroke-width="1.8" />
<line x1="466.2" y1="1053.1" x2="469.6" y2="1053.1" stroke="#3a3a3a" stroke-width="1.8" />
<line x1="53.9" y1="1078.3" x2="59.9" y2="1078.3" stroke="#3a3a3a" stroke-width="1.8" />
<line x1="466.2" y1="1078.3" x2="472.2" y2="1078.3" stroke="#3a3a3a" stroke-width="1.8" />
<line x1="56.5" y1="1103.5" x2="59.9" y2="1103.5" stroke="#3a3a3a" stroke-width="1.8" />
<line x1="466.2" y1="1103.5" x2="469.6" y2="1103.5" stroke="#3a3a3a" stroke-width="1.8" />
<line x1="53.9" y1="1128.7" x2="59.9" y2="1128.7" stroke="#3a3a3a" stroke-width="1.8" />
<line x1="466.2" y1="1128.7" x2="472.2" y2="1128.7" stroke="#3a3a3a" stroke-width="1.8" />
<line x1="56.5" y1="1153.9" x2="59.9" y2="1153.9" stroke="#3a3a3a" stroke-width="1.8" />
<line x1="466.2" y1="1153.9" x2="469.6" y2="1153.9" stroke="#3a3a3a" stroke-width="1.8" />
<line x1="53.9" y1="1179.1" x2="59.9" y2="1179.1" stroke="#3a3a3a" stroke-width="1.8" />
<line x1="466.2" y1="1179.1" x2="472.2" y2="1179.1" stroke="#3a3a3a" stroke-width="1.8" />
<line x1="56.5" y1="1204.3" x2="59.9" y2="1204.3" stroke="#3a3a3a" stroke-width="1.8" />
<line x1="466.2" y1="1204.3" x2="469.6" y2="1204.3" stroke="#3a3a3a" stroke-width="1.8" />
<line x1="53.9" y1="1229.5" x2="59.9" y2="1229.5" stroke="#3a3a3a" stroke-width="1.8" />
<line x1="466.2" y1="1229.5" x2="472.2" y2="1229.5" stroke="#3a3a3a" stroke-width="1.8" />
<line x1="56.5" y1="1254.7" x2="59.9" y2="1254.7" stroke="#3a3a3a" stroke-width="1.8" />
<line x1="466.2" y1="1254.7" x2="469.6" y2="1254.7" stroke="#3a3a3a" stroke-width="1.8" />
<line x1="53.9" y1="1279.9" x2="59.9" y2="1279.9" stroke="#3a3a3a" stroke-width="1.8" />
<line x1="466.2" y1="1279.9" x2="472.2" y2="1279.9" stroke="#3a3a3a" stroke-width="1.8" />
<text transform="translate(47.9,982.9) scale(1,1.15)" font-size="14.4" text-anchor="end" font-weight="bold" font-family='"Liberation Serif", serif' fill="#141414" >3.0</text>
<text transform="translate(47.9,1033.3) scale(1,1.15)" font-size="14.4" text-anchor="end" font-weight="bold" font-family='"Liberation Serif", serif' fill="#141414" >2.0</text>
<text transform="translate(47.9,1083.7) scale(1,1.15)" font-size="14.4" text-anchor="end" font-weight="bold" font-family='"Liberation Serif", serif' fill="#141414" >1.0</text>
<text transform="translate(47.9,1134.1) scale(1,1.15)" font-size="14.4" text-anchor="end" font-weight="bold" font-family='"Liberation Serif", serif' fill="#141414" >0.0</text>
<text transform="translate(47.9,1184.5) scale(1,1.15)" font-size="14.4" text-anchor="end" font-weight="bold" font-family='"Liberation Serif", serif' fill="#141414" >-1.0</text>
<text transform="translate(47.9,1234.9) scale(1,1.15)" font-size="14.4" text-anchor="end" font-weight="bold" font-family='"Liberation Serif", serif' fill="#141414" >-2.0</text>
<text transform="translate(47.9,1285.3) scale(1,1.15)" font-size="14.4" text-anchor="end" font-weight="bold" font-family='"Liberation Serif", serif' fill="#141414" >-3.0</text>
<text transform="translate(477.7,982.9) scale(1,1.15)" font-size="14.4" text-anchor="start" font-weight="bold" font-family='"Liberation Serif", serif' fill="#141414" >9.0</text>
<text transform="translate(477.7,1033.3) scale(1,1.15)" font-size="14.4" text-anchor="start" font-weight="bold" font-family='"Liberation Serif", serif' fill="#141414" >7.5</text>
<text transform="translate(477.7,1083.7) scale(1,1.15)" font-size="14.4" text-anchor="start" font-weight="bold" font-family='"Liberation Serif", serif' fill="#141414" >6.0</text>
<text transform="translate(477.7,1134.1) scale(1,1.15)" font-size="14.4" text-anchor="start" font-weight="bold" font-family='"Liberation Serif", serif' fill="#141414" >4.5</text>
<text transform="translate(477.7,1184.5) scale(1,1.15)" font-size="14.4" text-anchor="start" font-weight="bold" font-family='"Liberation Serif", serif' fill="#141414" >3.0</text>
<text transform="translate(477.7,1234.9) scale(1,1.15)" font-size="14.4" text-anchor="start" font-weight="bold" font-family='"Liberation Serif", serif' fill="#141414" >1.5</text>
<text transform="translate(477.7,1285.3) scale(1,1.15)" font-size="14.4" text-anchor="start" font-weight="bold" font-family='"Liberation Serif", serif' fill="#141414" >0</text>
<line x1="127.0" y1="1279.9" x2="127.0" y2="1285.4" stroke="#3a3a3a" stroke-width="1.8" />
<text transform="translate(127.0,1300.5) scale(1,1.15)" font-size="14.4" text-anchor="middle" font-weight="bold" font-family='"Liberation Serif", serif' fill="#141414" >2</text>
<line x1="160.9" y1="1279.9" x2="160.9" y2="1283.3" stroke="#3a3a3a" stroke-width="1.8" />
<line x1="194.8" y1="1279.9" x2="194.8" y2="1285.4" stroke="#3a3a3a" stroke-width="1.8" />
<text transform="translate(194.8,1300.5) scale(1,1.15)" font-size="14.4" text-anchor="middle" font-weight="bold" font-family='"Liberation Serif", serif' fill="#141414" >4</text>
<line x1="228.8" y1="1279.9" x2="228.8" y2="1283.3" stroke="#3a3a3a" stroke-width="1.8" />
<line x1="262.7" y1="1279.9" x2="262.7" y2="1285.4" stroke="#3a3a3a" stroke-width="1.8" />
<text transform="translate(262.7,1300.5) scale(1,1.15)" font-size="14.4" text-anchor="middle" font-weight="bold" font-family='"Liberation Serif", serif' fill="#141414" >6</text>
<line x1="296.6" y1="1279.9" x2="296.6" y2="1283.3" stroke="#3a3a3a" stroke-width="1.8" />
<line x1="330.5" y1="1279.9" x2="330.5" y2="1285.4" stroke="#3a3a3a" stroke-width="1.8" />
<text transform="translate(330.5,1300.5) scale(1,1.15)" font-size="14.4" text-anchor="middle" font-weight="bold" font-family='"Liberation Serif", serif' fill="#141414" >8</text>
<line x1="364.5" y1="1279.9" x2="364.5" y2="1283.3" stroke="#3a3a3a" stroke-width="1.8" />
<line x1="398.4" y1="1279.9" x2="398.4" y2="1285.4" stroke="#3a3a3a" stroke-width="1.8" />
<text transform="translate(398.4,1300.5) scale(1,1.15)" font-size="14.4" text-anchor="middle" font-weight="bold" font-family='"Liberation Serif", serif' fill="#141414" >10</text>
<line x1="432.3" y1="1279.9" x2="432.3" y2="1283.3" stroke="#3a3a3a" stroke-width="1.8" />
<line x1="466.2" y1="1279.9" x2="466.2" y2="1285.4" stroke="#3a3a3a" stroke-width="1.8" />
<text transform="translate(466.2,1300.5) scale(1,1.15)" font-size="14.4" text-anchor="middle" font-weight="bold" font-family='"Liberation Serif", serif' fill="#141414" >12</text>
<line x1="93.2" y1="1279.9" x2="93.2" y2="1283.3" stroke="#3a3a3a" stroke-width="1.8" />
<text transform="translate(93.2,1300.5) scale(1,1.15)" font-size="14.4" text-anchor="middle" font-weight="bold" font-family='"Liberation Serif", serif' fill="#141414" >0.1</text>
<rect x="110.2" y="1277.9" width="7" height="4" fill="#fff"/>
<line x1="108.2" y1="1283.9" x2="112.2" y2="1275.9" stroke="#8a8a8a" stroke-width="1.1" />
<line x1="112.2" y1="1283.9" x2="116.2" y2="1275.9" stroke="#8a8a8a" stroke-width="1.1" />
<text transform="translate(267.6,1314.3) scale(1,1.08)" font-size="14.8" text-anchor="middle" font-weight="bold" font-family='"Liberation Serif", serif' fill="#141414" >Duration (<tspan font-style="italic">h</tspan>)</text>
<text transform="translate(7.0,1123.7) rotate(90)" font-size="14.8" text-anchor="middle" font-weight="bold" font-family='"Liberation Serif", serif' fill="#141414">Strain (%)</text>
<text transform="translate(503.1,1126.0) rotate(90)" font-size="14.8" text-anchor="middle" font-weight="bold" font-family='"Liberation Serif", serif' fill="#141414">Stress (<tspan font-style="italic">MPa</tspan>)</text>
<path d="M60.5,1280 L76.5,995 Q77,982 79.5,981.3 L452.8,981.3 L452.8,1280" fill="none" stroke="#111" stroke-width="2" stroke-dasharray="6,3.5"/>
<line x1="102.7" y1="1026.0" x2="102.7" y2="1280.0" stroke="#a8a8a8" stroke-width="0.9" stroke-dasharray="1,1.3"/>
<line x1="430.6" y1="1015.5" x2="430.6" y2="1280.0" stroke="#a8a8a8" stroke-width="0.9" stroke-dasharray="1,1.3"/>
<line x1="450.6" y1="1002.6" x2="450.6" y2="1280.0" stroke="#a8a8a8" stroke-width="0.9" stroke-dasharray="1,1.3"/>
<line x1="61.5" y1="1128.0" x2="61.5" y2="1280.0" stroke="#a8a8a8" stroke-width="0.9" stroke-dasharray="1,1.3"/>
<polyline points="60.0,1128.0 62.0,1125.0 64.0,1118.0 66.0,1113.0 69.0,1110.0 70.0,1104.0 72.0,1097.0 75.0,1092.0 78.0,1088.0 81.0,1084.0 83.0,1084.0 83.5,1073.0 85.0,1068.0 85.5,1060.0 87.0,1056.0 88.0,1050.0 89.0,1043.0 90.0,1033.0 93.0,1030.0 95.0,1027.0 100.0,1026.0 102.7,1025.5 110.0,1024.0 120.0,1022.5 140.0,1021.5 155.0,1020.5 165.0,1019.0 180.0,1018.5 265.0,1017.8 270.0,1016.7 424.0,1016.5 430.0,1015.5 433.0,1014.0 436.0,1012.0 438.0,1010.0 440.0,1008.0 442.0,1006.0 446.0,1004.0 448.5,1003.0 450.0,1000.0 451.0,995.0 451.5,986.0" fill="none" stroke="#1a1ae0" stroke-width="2.5" stroke-linejoin="round" stroke-linecap="round" />
<polyline points="60.0,1128.6 62.0,1135.0 64.0,1140.0 66.0,1145.0 68.0,1152.0 70.0,1160.0 72.0,1165.0 74.0,1170.0 76.0,1175.0 78.0,1178.0 82.0,1180.0 86.0,1181.0 88.0,1182.0 88.5,1186.0 92.0,1186.5 100.0,1187.0 110.0,1188.0 118.0,1189.0 128.0,1190.0 138.0,1191.0 185.0,1191.0 186.0,1192.3 369.8,1192.3 370.5,1193.3 422.0,1193.3 424.0,1195.0 428.0,1197.0 432.0,1198.0 434.0,1200.0 438.0,1203.0 442.0,1205.0 446.0,1206.5 447.0,1210.0 448.0,1214.0 448.3,1230.0 448.5,1280.0" fill="none" stroke="#f51a1a" stroke-width="2.5" stroke-linejoin="round" stroke-linecap="round" />
<circle cx="102.7" cy="1025.5" r="1.9" fill="#9c9c9c"/>
<circle cx="430.6" cy="1015.5" r="1.9" fill="#9c9c9c"/>
<circle cx="450.6" cy="1002.6" r="1.9" fill="#9c9c9c"/>
<circle cx="430.6" cy="1280.0" r="1.9" fill="#9c9c9c"/>
<circle cx="450.6" cy="1280.0" r="1.9" fill="#9c9c9c"/>
<circle cx="61.5" cy="1280.0" r="1.9" fill="#9c9c9c"/>
<circle cx="102.7" cy="1280.0" r="1.9" fill="#9c9c9c"/>
<polygon points="457.2,985.6 453.6,985.3 456.0,988.3 452.5,986.3 453.4,990.2 451.1,986.8 450.1,989.6 449.6,986.7 446.9,989.5 448.3,986.0 444.6,987.4 447.4,984.9 443.6,984.8 447.2,983.6 444.8,982.2 447.6,982.3 446.2,980.2 448.7,981.3 448.2,978.3 450.1,980.8 451.1,977.3 451.6,980.9 453.8,978.8 452.9,981.6 456.2,980.3 453.8,982.7 457.0,982.9 454.0,984.0" fill="#1a1a1a"/>
<polygon points="454.3,980.7 454.9,982.4 454.4,984.5 452.8,986.4 450.7,987.6 448.5,987.8 446.9,986.9 446.3,985.2 446.8,983.1 448.4,981.2 450.5,980.0 452.7,979.8" fill="#f00a0a"/>
<line x1="61.5" y1="1125.0" x2="101.5" y2="1125.0" stroke="#78bb58" stroke-width="1.3" />
<polyline points="96.7,1121.9 101.5,1125.0 96.7,1128.1" fill="none" stroke="#78bb58" stroke-width="1.3"/>
<polyline points="66.3,1121.9 61.5,1125.0 66.3,1128.1" fill="none" stroke="#78bb58" stroke-width="1.3"/>
<line x1="104.0" y1="1058.9" x2="429.0" y2="1058.9" stroke="#78bb58" stroke-width="1.3" />
<polyline points="424.2,1055.8 429.0,1058.9 424.2,1062.0" fill="none" stroke="#78bb58" stroke-width="1.3"/>
<polyline points="108.8,1055.8 104.0,1058.9 108.8,1062.0" fill="none" stroke="#78bb58" stroke-width="1.3"/>
<line x1="432.0" y1="1058.9" x2="449.0" y2="1058.9" stroke="#78bb58" stroke-width="1.3" />
<polyline points="444.2,1055.8 449.0,1058.9 444.2,1062.0" fill="none" stroke="#78bb58" stroke-width="1.3"/>
<polyline points="436.8,1055.8 432.0,1058.9 436.8,1062.0" fill="none" stroke="#78bb58" stroke-width="1.3"/>
<text transform="translate(76.4,1099.7) scale(1,1.08)" font-size="14.4" text-anchor="start" font-weight="bold" font-family='"Liberation Serif", serif' fill="#141414" >first</text>
<text transform="translate(76.4,1115.9) scale(1,1.08)" font-size="14.4" text-anchor="start" font-weight="bold" font-family='"Liberation Serif", serif' fill="#141414" >stage</text>
<text transform="translate(270.0,1048.4) scale(1,1.08)" font-size="14.4" text-anchor="middle" font-weight="bold" font-family='"Liberation Serif", serif' fill="#141414" >second stage</text>
<text transform="translate(447.7,1033.2) scale(1,1.08)" font-size="14.4" text-anchor="end" font-weight="bold" font-family='"Liberation Serif", serif' fill="#141414" >third</text>
<text transform="translate(447.7,1049.4) scale(1,1.08)" font-size="14.4" text-anchor="end" font-weight="bold" font-family='"Liberation Serif", serif' fill="#141414" >stage</text>
<text transform="translate(441.0,998.0) scale(1,1.08)" font-size="12.6" text-anchor="end" font-weight="bold" font-family='"Liberation Serif", serif' fill="#141414" >failure</text>
<text transform="translate(442.0,1272.1) scale(1,1.08)" font-size="12.8" text-anchor="end" font-weight="bold" font-family='"Liberation Serif", serif' fill="#141414" ><tspan font-style="italic">σ</tspan>=8.9 MPa</text>
<line x1="64.6" y1="1234.3" x2="93.2" y2="1234.3" stroke="#3a3a3a" stroke-width="1.5" stroke-dasharray="4.5,2.5"/>
<line x1="64.6" y1="1252.3" x2="93.2" y2="1252.3" stroke="#f51a1a" stroke-width="2.4" />
<line x1="64.6" y1="1268.5" x2="93.2" y2="1268.5" stroke="#1a1ae0" stroke-width="2.4" />
<text transform="translate(101.7,1239.6) scale(1,1.08)" font-size="12.6" text-anchor="start" font-weight="bold" font-family='"Liberation Serif", serif' fill="#141414" >stress</text>
<text transform="translate(101.7,1257.6) scale(1,1.08)" font-size="12.6" text-anchor="start" font-weight="bold" font-family='"Liberation Serif", serif' fill="#141414" >radial strain</text>
<text transform="translate(101.7,1273.8) scale(1,1.08)" font-size="12.6" text-anchor="start" font-weight="bold" font-family='"Liberation Serif", serif' fill="#141414" >axial strain</text>
<text transform="translate(29.0,1397.8) scale(1,1.05)" font-size="41" text-anchor="start" font-weight="bold" font-family='"Liberation Sans", sans-serif' fill="#111" >(E)</text>
<text transform="translate(104.1,1394.7) scale(1,1.13)" font-size="34.5" text-anchor="start" font-weight="normal" font-family='"Liberation Serif", serif' fill="#111" >Creep curve of USO-5</text>
<rect x="966.3" y="1095.6" width="149.3" height="107.3" fill="#fff"/>
<line x1="1115.6" y1="1095.6" x2="1115.6" y2="1202.9" stroke="#3c3c3c" stroke-width="1.6" />
<line x1="966.3" y1="1202.9" x2="1115.6" y2="1202.9" stroke="#3c3c3c" stroke-width="1.6" />
<line x1="983.8" y1="1102.5" x2="983.8" y2="1189.1" stroke="#555" stroke-width="0.9" />
<line x1="983.8" y1="1189.1" x2="1100.5" y2="1189.1" stroke="#555" stroke-width="0.9" />
<line x1="982.3" y1="1174.7" x2="983.8" y2="1174.7" stroke="#777" stroke-width="0.6" />
<line x1="982.3" y1="1160.2" x2="983.8" y2="1160.2" stroke="#777" stroke-width="0.6" />
<line x1="982.3" y1="1145.8" x2="983.8" y2="1145.8" stroke="#777" stroke-width="0.6" />
<line x1="982.3" y1="1131.4" x2="983.8" y2="1131.4" stroke="#777" stroke-width="0.6" />
<line x1="982.3" y1="1116.9" x2="983.8" y2="1116.9" stroke="#777" stroke-width="0.6" />
<path d="M984.4,1189.1V1131.3M985.9,1189.1V1140.0M987.3,1189.1V1159.5M988.8,1189.1V1170.5M990.2,1189.1V1179.6M991.6,1189.1V1167.8M993.1,1189.1V1174.2M994.5,1189.1V1172.0M996.0,1189.1V1179.2M997.4,1189.1V1175.9M998.9,1189.1V1182.4M1000.4,1189.1V1178.3M1001.8,1189.1V1179.9M1003.2,1189.1V1183.0M1004.7,1189.1V1182.6M1006.1,1189.1V1182.1M1007.6,1189.1V1185.5M1009.0,1189.1V1183.6M1010.5,1189.1V1182.4M1011.9,1189.1V1185.5M1013.4,1189.1V1182.8M1014.9,1189.1V1183.6M1016.3,1189.1V1182.9M1017.8,1189.1V1185.5M1019.2,1189.1V1186.7M1020.6,1189.1V1183.4M1022.1,1189.1V1183.4M1023.5,1189.1V1185.1M1025.0,1189.1V1186.8M1026.5,1189.1V1186.3M1027.9,1189.1V1184.3M1029.3,1189.1V1185.9M1030.8,1189.1V1182.9M1032.2,1189.1V1184.6M1033.7,1189.1V1186.3M1035.2,1189.1V1184.3M1036.6,1189.1V1185.6M1038.0,1189.1V1183.0M1039.5,1189.1V1183.1M1041.0,1189.1V1184.9M1042.4,1189.1V1184.3M1043.8,1189.1V1184.1M1045.3,1189.1V1183.6M1046.8,1189.1V1182.8M1048.2,1189.1V1187.2M1049.7,1189.1V1185.6M1051.1,1189.1V1184.5M1052.5,1189.1V1185.9M1054.0,1189.1V1184.6M1055.5,1189.1V1186.9M1056.9,1189.1V1183.3M1058.3,1189.1V1184.9M1059.8,1189.1V1186.7M1061.2,1189.1V1184.3M1062.7,1189.1V1185.9M1064.2,1189.1V1186.4M1065.6,1189.1V1185.1M1067.0,1189.1V1186.7M1068.5,1189.1V1186.3M1070.0,1189.1V1183.3M1071.4,1189.1V1184.1M1072.8,1189.1V1187.2M1074.3,1189.1V1183.7M1075.8,1189.1V1187.2M1077.2,1189.1V1185.7M1078.7,1189.1V1183.0M1080.1,1189.1V1184.2M1081.5,1189.1V1185.7M1083.0,1189.1V1185.2M1084.5,1189.1V1184.9M1085.9,1189.1V1186.1M1087.3,1189.1V1180.4M1088.8,1189.1V1185.9M1090.2,1189.1V1182.2M1091.7,1189.1V1177.1M1093.2,1189.1V1178.3M1094.6,1189.1V1164.0M1096.0,1189.1V1172.9M1097.5,1189.1V1139.7M1099.0,1189.1V1121.9" stroke="#141414" stroke-width="1.0" fill="none" opacity="0.9"/>
<polyline points="983.8,1188.0 984.5,1130.0 985.7,1120.7 988.0,1125.0 990.0,1135.0 992.0,1150.0 995.0,1165.0 998.0,1172.0 1005.0,1176.0 1015.0,1179.0 1030.0,1181.0 1045.0,1182.0 1060.0,1182.0 1075.0,1181.0 1085.0,1180.0 1088.0,1176.0 1089.5,1165.0 1090.0,1145.0 1092.0,1115.0 1094.3,1105.0 1097.0,1112.0 1099.0,1140.0 1100.5,1188.0" fill="none" stroke="#4a6fb5" stroke-width="1.3" stroke-linejoin="round" stroke-linecap="round" stroke-dasharray="4.5,2"/>
<text transform="translate(981.3,1104.5) scale(1,1.08)" font-size="4.5" text-anchor="end" font-weight="bold" font-family='"Liberation Serif", serif' fill="#333" >40</text>
<text transform="translate(981.3,1190.6) scale(1,1.08)" font-size="4.5" text-anchor="end" font-weight="bold" font-family='"Liberation Serif", serif' fill="#333" >0</text>
<text transform="translate(1100.5,1196.1) scale(1,1.08)" font-size="5" text-anchor="middle" font-weight="bold" font-family='"Liberation Serif", serif' fill="#333" >1.76</text>
<text transform="translate(1050.2,1199.1) scale(1,1.08)" font-size="5.2" text-anchor="middle" font-weight="bold" font-family='"Liberation Serif", serif' fill="#333" >Duration (h)</text>
<text transform="translate(974.8,1145.8) rotate(90)" font-size="5" font-weight="bold" text-anchor="middle" font-family='"Liberation Serif", serif' fill="#444">Count</text>
<line x1="1047.0" y1="1110.0" x2="1055.0" y2="1110.0" stroke="#666" stroke-width="0.9" />
<text transform="translate(1057.0,1111.8) scale(1,1.08)" font-size="4" text-anchor="start" font-weight="bold" font-family='"Liberation Serif", serif' fill="#555" >• • •</text>
<line x1="749.9" y1="977.5" x2="749.9" y2="1285.4" stroke="#3a3a3a" stroke-width="1.8" />
<line x1="1156.2" y1="977.5" x2="1156.2" y2="1279.9" stroke="#3a3a3a" stroke-width="1.8" />
<line x1="743.9" y1="1279.9" x2="1156.2" y2="1279.9" stroke="#3a3a3a" stroke-width="1.8" />
<line x1="743.9" y1="977.5" x2="749.9" y2="977.5" stroke="#3a3a3a" stroke-width="1.8" />
<line x1="1156.2" y1="977.5" x2="1162.2" y2="977.5" stroke="#3a3a3a" stroke-width="1.8" />
<line x1="746.5" y1="1002.7" x2="749.9" y2="1002.7" stroke="#3a3a3a" stroke-width="1.8" />
<line x1="1156.2" y1="1002.7" x2="1159.6" y2="1002.7" stroke="#3a3a3a" stroke-width="1.8" />
<line x1="743.9" y1="1027.9" x2="749.9" y2="1027.9" stroke="#3a3a3a" stroke-width="1.8" />
<line x1="1156.2" y1="1027.9" x2="1162.2" y2="1027.9" stroke="#3a3a3a" stroke-width="1.8" />
<line x1="746.5" y1="1053.1" x2="749.9" y2="1053.1" stroke="#3a3a3a" stroke-width="1.8" />
<line x1="1156.2" y1="1053.1" x2="1159.6" y2="1053.1" stroke="#3a3a3a" stroke-width="1.8" />
<line x1="743.9" y1="1078.3" x2="749.9" y2="1078.3" stroke="#3a3a3a" stroke-width="1.8" />
<line x1="1156.2" y1="1078.3" x2="1162.2" y2="1078.3" stroke="#3a3a3a" stroke-width="1.8" />
<line x1="746.5" y1="1103.5" x2="749.9" y2="1103.5" stroke="#3a3a3a" stroke-width="1.8" />
<line x1="1156.2" y1="1103.5" x2="1159.6" y2="1103.5" stroke="#3a3a3a" stroke-width="1.8" />
<line x1="743.9" y1="1128.7" x2="749.9" y2="1128.7" stroke="#3a3a3a" stroke-width="1.8" />
<line x1="1156.2" y1="1128.7" x2="1162.2" y2="1128.7" stroke="#3a3a3a" stroke-width="1.8" />
<line x1="746.5" y1="1153.9" x2="749.9" y2="1153.9" stroke="#3a3a3a" stroke-width="1.8" />
<line x1="1156.2" y1="1153.9" x2="1159.6" y2="1153.9" stroke="#3a3a3a" stroke-width="1.8" />
<line x1="743.9" y1="1179.1" x2="749.9" y2="1179.1" stroke="#3a3a3a" stroke-width="1.8" />
<line x1="1156.2" y1="1179.1" x2="1162.2" y2="1179.1" stroke="#3a3a3a" stroke-width="1.8" />
<line x1="746.5" y1="1204.3" x2="749.9" y2="1204.3" stroke="#3a3a3a" stroke-width="1.8" />
<line x1="1156.2" y1="1204.3" x2="1159.6" y2="1204.3" stroke="#3a3a3a" stroke-width="1.8" />
<line x1="743.9" y1="1229.5" x2="749.9" y2="1229.5" stroke="#3a3a3a" stroke-width="1.8" />
<line x1="1156.2" y1="1229.5" x2="1162.2" y2="1229.5" stroke="#3a3a3a" stroke-width="1.8" />
<line x1="746.5" y1="1254.7" x2="749.9" y2="1254.7" stroke="#3a3a3a" stroke-width="1.8" />
<line x1="1156.2" y1="1254.7" x2="1159.6" y2="1254.7" stroke="#3a3a3a" stroke-width="1.8" />
<line x1="743.9" y1="1279.9" x2="749.9" y2="1279.9" stroke="#3a3a3a" stroke-width="1.8" />
<line x1="1156.2" y1="1279.9" x2="1162.2" y2="1279.9" stroke="#3a3a3a" stroke-width="1.8" />
<text transform="translate(737.9,982.9) scale(1,1.15)" font-size="14.4" text-anchor="end" font-weight="bold" font-family='"Liberation Serif", serif' fill="#141414" >3.0</text>
<text transform="translate(737.9,1033.3) scale(1,1.15)" font-size="14.4" text-anchor="end" font-weight="bold" font-family='"Liberation Serif", serif' fill="#141414" >2.0</text>
<text transform="translate(737.9,1083.7) scale(1,1.15)" font-size="14.4" text-anchor="end" font-weight="bold" font-family='"Liberation Serif", serif' fill="#141414" >1.0</text>
<text transform="translate(737.9,1134.1) scale(1,1.15)" font-size="14.4" text-anchor="end" font-weight="bold" font-family='"Liberation Serif", serif' fill="#141414" >0.0</text>
<text transform="translate(737.9,1184.5) scale(1,1.15)" font-size="14.4" text-anchor="end" font-weight="bold" font-family='"Liberation Serif", serif' fill="#141414" >-1.0</text>
<text transform="translate(737.9,1234.9) scale(1,1.15)" font-size="14.4" text-anchor="end" font-weight="bold" font-family='"Liberation Serif", serif' fill="#141414" >-2.0</text>
<text transform="translate(737.9,1285.3) scale(1,1.15)" font-size="14.4" text-anchor="end" font-weight="bold" font-family='"Liberation Serif", serif' fill="#141414" >-3.0</text>
<text transform="translate(1168.1,982.9) scale(1,1.15)" font-size="14.4" text-anchor="start" font-weight="bold" font-family='"Liberation Serif", serif' fill="#141414" >12</text>
<text transform="translate(1168.1,1033.3) scale(1,1.15)" font-size="14.4" text-anchor="start" font-weight="bold" font-family='"Liberation Serif", serif' fill="#141414" >10</text>
<text transform="translate(1168.1,1083.7) scale(1,1.15)" font-size="14.4" text-anchor="start" font-weight="bold" font-family='"Liberation Serif", serif' fill="#141414" >8</text>
<text transform="translate(1168.1,1134.1) scale(1,1.15)" font-size="14.4" text-anchor="start" font-weight="bold" font-family='"Liberation Serif", serif' fill="#141414" >6</text>
<text transform="translate(1168.1,1184.5) scale(1,1.15)" font-size="14.4" text-anchor="start" font-weight="bold" font-family='"Liberation Serif", serif' fill="#141414" >4</text>
<text transform="translate(1168.1,1234.9) scale(1,1.15)" font-size="14.4" text-anchor="start" font-weight="bold" font-family='"Liberation Serif", serif' fill="#141414" >2</text>
<text transform="translate(1168.1,1285.3) scale(1,1.15)" font-size="14.4" text-anchor="start" font-weight="bold" font-family='"Liberation Serif", serif' fill="#141414" >0</text>
<line x1="817.0" y1="1279.9" x2="817.0" y2="1285.4" stroke="#3a3a3a" stroke-width="1.8" />
<text transform="translate(817.0,1300.5) scale(1,1.15)" font-size="14.4" text-anchor="middle" font-weight="bold" font-family='"Liberation Serif", serif' fill="#141414" >1</text>
<line x1="850.9" y1="1279.9" x2="850.9" y2="1283.3" stroke="#3a3a3a" stroke-width="1.8" />
<line x1="884.8" y1="1279.9" x2="884.8" y2="1285.4" stroke="#3a3a3a" stroke-width="1.8" />
<text transform="translate(884.8,1300.5) scale(1,1.15)" font-size="14.4" text-anchor="middle" font-weight="bold" font-family='"Liberation Serif", serif' fill="#141414" >2</text>
<line x1="918.8" y1="1279.9" x2="918.8" y2="1283.3" stroke="#3a3a3a" stroke-width="1.8" />
<line x1="952.7" y1="1279.9" x2="952.7" y2="1285.4" stroke="#3a3a3a" stroke-width="1.8" />
<text transform="translate(952.7,1300.5) scale(1,1.15)" font-size="14.4" text-anchor="middle" font-weight="bold" font-family='"Liberation Serif", serif' fill="#141414" >3</text>
<line x1="986.6" y1="1279.9" x2="986.6" y2="1283.3" stroke="#3a3a3a" stroke-width="1.8" />
<line x1="1020.5" y1="1279.9" x2="1020.5" y2="1285.4" stroke="#3a3a3a" stroke-width="1.8" />
<text transform="translate(1020.5,1300.5) scale(1,1.15)" font-size="14.4" text-anchor="middle" font-weight="bold" font-family='"Liberation Serif", serif' fill="#141414" >4</text>
<line x1="1054.4" y1="1279.9" x2="1054.4" y2="1283.3" stroke="#3a3a3a" stroke-width="1.8" />
<line x1="1088.4" y1="1279.9" x2="1088.4" y2="1285.4" stroke="#3a3a3a" stroke-width="1.8" />
<text transform="translate(1088.4,1300.5) scale(1,1.15)" font-size="14.4" text-anchor="middle" font-weight="bold" font-family='"Liberation Serif", serif' fill="#141414" >5</text>
<line x1="1122.3" y1="1279.9" x2="1122.3" y2="1283.3" stroke="#3a3a3a" stroke-width="1.8" />
<line x1="1156.2" y1="1279.9" x2="1156.2" y2="1285.4" stroke="#3a3a3a" stroke-width="1.8" />
<text transform="translate(1156.2,1300.5) scale(1,1.15)" font-size="14.4" text-anchor="middle" font-weight="bold" font-family='"Liberation Serif", serif' fill="#141414" >6</text>
<line x1="783.2" y1="1279.9" x2="783.2" y2="1283.3" stroke="#3a3a3a" stroke-width="1.8" />
<text transform="translate(783.2,1300.5) scale(1,1.15)" font-size="14.4" text-anchor="middle" font-weight="bold" font-family='"Liberation Serif", serif' fill="#141414" >0.1</text>
<rect x="799.6" y="1277.9" width="7" height="4" fill="#fff"/>
<line x1="797.6" y1="1283.9" x2="801.6" y2="1275.9" stroke="#8a8a8a" stroke-width="1.1" />
<line x1="801.6" y1="1283.9" x2="805.6" y2="1275.9" stroke="#8a8a8a" stroke-width="1.1" />
<text transform="translate(964.8,1317.4) scale(1,1.08)" font-size="14.8" text-anchor="middle" font-weight="bold" font-family='"Liberation Serif", serif' fill="#141414" >Duration (<tspan font-style="italic">h</tspan>)</text>
<text transform="translate(697.9,1131.3) rotate(90)" font-size="14.8" text-anchor="middle" font-weight="bold" font-family='"Liberation Serif", serif' fill="#141414">Strain (%)</text>
<text transform="translate(1186.1,1135.8) rotate(90)" font-size="14.8" text-anchor="middle" font-weight="bold" font-family='"Liberation Serif", serif' fill="#141414">Stress (<tspan font-style="italic">MPa</tspan>)</text>
<path d="M751,1280 L767.5,1055 Q768,1043 770.5,1042.1 L1145.2,1042.1 L1145.2,1280" fill="none" stroke="#111" stroke-width="2" stroke-dasharray="6,3.5"/>
<line x1="790.4" y1="1015.5" x2="790.4" y2="1280.0" stroke="#a8a8a8" stroke-width="0.9" stroke-dasharray="1,1.3"/>
<line x1="1120.6" y1="1003.0" x2="1120.6" y2="1280.0" stroke="#a8a8a8" stroke-width="0.9" stroke-dasharray="1,1.3"/>
<line x1="1140.0" y1="987.5" x2="1140.0" y2="1280.0" stroke="#a8a8a8" stroke-width="0.9" stroke-dasharray="1,1.3"/>
<line x1="751.5" y1="1128.0" x2="751.5" y2="1280.0" stroke="#a8a8a8" stroke-width="0.9" stroke-dasharray="1,1.3"/>
<polyline points="750.0,1128.0 752.0,1126.0 753.0,1124.0 754.0,1115.0 756.0,1108.0 758.0,1105.0 760.0,1098.0 761.0,1090.0 763.0,1087.0 765.0,1080.0 766.0,1075.0 768.0,1065.0 769.0,1055.0 771.0,1048.0 773.0,1043.0 775.0,1038.0 776.0,1026.0 780.0,1023.0 785.0,1021.0 790.4,1015.5 795.0,1014.0 800.0,1012.5 812.0,1012.0 814.0,1010.5 830.0,1010.0 832.0,1009.0 860.0,1008.5 862.0,1007.5 1076.0,1007.5 1078.0,1006.5 1107.0,1006.5 1112.0,1005.0 1117.0,1003.5 1120.6,1002.0 1122.0,998.0 1125.0,996.0 1130.0,994.0 1135.0,990.0 1138.0,987.5 1139.5,982.0" fill="none" stroke="#1a1ae0" stroke-width="2.5" stroke-linejoin="round" stroke-linecap="round" />
<polyline points="750.0,1128.6 752.0,1133.0 754.0,1140.0 756.0,1146.0 758.0,1151.0 761.0,1153.0 763.0,1160.0 765.0,1167.0 767.0,1173.0 770.0,1178.0 772.0,1183.0 775.0,1186.0 778.0,1190.0 784.0,1191.0 786.0,1193.5 790.0,1194.0 795.0,1197.0 800.0,1198.0 805.0,1196.5 808.0,1200.0 813.0,1201.0 815.0,1203.0 830.0,1203.5 835.0,1205.0 850.0,1205.5 860.0,1206.5 880.0,1207.3 1023.7,1207.3 1024.5,1208.6 1064.5,1208.6 1065.5,1210.4 1120.0,1210.4 1125.0,1211.0 1130.0,1213.0 1132.0,1216.0 1134.0,1219.0 1136.0,1222.0 1138.0,1225.0 1139.0,1230.0 1139.3,1250.0 1139.5,1280.0" fill="none" stroke="#f51a1a" stroke-width="2.5" stroke-linejoin="round" stroke-linecap="round" />
<circle cx="790.4" cy="1015.5" r="1.9" fill="#9c9c9c"/>
<circle cx="1120.6" cy="1003.0" r="1.9" fill="#9c9c9c"/>
<circle cx="1140.0" cy="987.5" r="1.9" fill="#9c9c9c"/>
<circle cx="1120.6" cy="1280.0" r="1.9" fill="#9c9c9c"/>
<circle cx="1140.0" cy="1280.0" r="1.9" fill="#9c9c9c"/>
<circle cx="751.5" cy="1280.0" r="1.9" fill="#9c9c9c"/>
<circle cx="790.4" cy="1280.0" r="1.9" fill="#9c9c9c"/>
<polygon points="1145.8,979.8 1142.2,979.5 1144.6,982.5 1141.1,980.5 1142.0,984.4 1139.7,981.0 1138.7,983.8 1138.2,980.9 1135.5,983.7 1136.9,980.2 1133.2,981.6 1136.0,979.1 1132.2,979.0 1135.8,977.8 1133.4,976.4 1136.2,976.5 1134.8,974.4 1137.3,975.5 1136.8,972.5 1138.7,975.0 1139.7,971.5 1140.2,975.1 1142.4,973.0 1141.5,975.8 1144.8,974.5 1142.4,976.9 1145.6,977.1 1142.6,978.2" fill="#1a1a1a"/>
<polygon points="1142.9,974.9 1143.5,976.6 1143.0,978.7 1141.4,980.6 1139.3,981.8 1137.1,982.0 1135.5,981.1 1134.9,979.4 1135.4,977.3 1137.0,975.4 1139.1,974.2 1141.3,974.0" fill="#f00a0a"/>
<line x1="751.5" y1="1125.0" x2="789.0" y2="1125.0" stroke="#78bb58" stroke-width="1.3" />
<polyline points="784.2,1121.9 789.0,1125.0 784.2,1128.1" fill="none" stroke="#78bb58" stroke-width="1.3"/>
<polyline points="756.3,1121.9 751.5,1125.0 756.3,1128.1" fill="none" stroke="#78bb58" stroke-width="1.3"/>
<line x1="792.0" y1="1063.2" x2="1119.0" y2="1063.2" stroke="#78bb58" stroke-width="1.3" />
<polyline points="1114.2,1060.1 1119.0,1063.2 1114.2,1066.3" fill="none" stroke="#78bb58" stroke-width="1.3"/>
<polyline points="796.8,1060.1 792.0,1063.2 796.8,1066.3" fill="none" stroke="#78bb58" stroke-width="1.3"/>
<line x1="1122.0" y1="1037.0" x2="1139.0" y2="1037.0" stroke="#78bb58" stroke-width="1.3" />
<polyline points="1134.2,1033.9 1139.0,1037.0 1134.2,1040.1" fill="none" stroke="#78bb58" stroke-width="1.3"/>
<polyline points="1126.8,1033.9 1122.0,1037.0 1126.8,1040.1" fill="none" stroke="#78bb58" stroke-width="1.3"/>
<text transform="translate(770.8,1100.7) scale(1,1.08)" font-size="14.4" text-anchor="start" font-weight="bold" font-family='"Liberation Serif", serif' fill="#141414" >first</text>
<text transform="translate(770.8,1116.8) scale(1,1.08)" font-size="14.4" text-anchor="start" font-weight="bold" font-family='"Liberation Serif", serif' fill="#141414" >stage</text>
<text transform="translate(960.0,1056.0) scale(1,1.08)" font-size="14.4" text-anchor="middle" font-weight="bold" font-family='"Liberation Serif", serif' fill="#141414" >second stage</text>
<text transform="translate(1117.8,1020.8) scale(1,1.08)" font-size="14.4" text-anchor="end" font-weight="bold" font-family='"Liberation Serif", serif' fill="#141414" >third</text>
<text transform="translate(1117.8,1037.0) scale(1,1.08)" font-size="14.4" text-anchor="end" font-weight="bold" font-family='"Liberation Serif", serif' fill="#141414" >stage</text>
<text transform="translate(1129.2,986.6) scale(1,1.08)" font-size="12.6" text-anchor="end" font-weight="bold" font-family='"Liberation Serif", serif' fill="#141414" >failure</text>
<text transform="translate(1132.0,1272.1) scale(1,1.08)" font-size="12.8" text-anchor="end" font-weight="bold" font-family='"Liberation Serif", serif' fill="#141414" ><tspan font-style="italic">σ</tspan>=9.5 MPa</text>
<line x1="753.7" y1="1234.3" x2="783.2" y2="1234.3" stroke="#3a3a3a" stroke-width="1.5" stroke-dasharray="4.5,2.5"/>
<line x1="753.7" y1="1252.3" x2="783.2" y2="1252.3" stroke="#f51a1a" stroke-width="2.4" />
<line x1="753.7" y1="1268.5" x2="783.2" y2="1268.5" stroke="#1a1ae0" stroke-width="2.4" />
<text transform="translate(788.5,1239.6) scale(1,1.08)" font-size="12.6" text-anchor="start" font-weight="bold" font-family='"Liberation Serif", serif' fill="#141414" >stress</text>
<text transform="translate(788.5,1257.6) scale(1,1.08)" font-size="12.6" text-anchor="start" font-weight="bold" font-family='"Liberation Serif", serif' fill="#141414" >radial strain</text>
<text transform="translate(788.5,1273.8) scale(1,1.08)" font-size="12.6" text-anchor="start" font-weight="bold" font-family='"Liberation Serif", serif' fill="#141414" >axial strain</text>
<text transform="translate(762.9,1397.8) scale(1,1.05)" font-size="41" text-anchor="start" font-weight="bold" font-family='"Liberation Sans", sans-serif' fill="#111" >(F)</text>
<text transform="translate(842.3,1394.7) scale(1,1.13)" font-size="34.5" text-anchor="start" font-weight="normal" font-family='"Liberation Serif", serif' fill="#111" >Creep curve of USO-6</text>
<rect x="274.5" y="1586.3" width="150.0" height="108.3" fill="#fff"/>
<line x1="274.5" y1="1586.3" x2="424.5" y2="1586.3" stroke="#d0d0d0" stroke-width="1.2" />
<line x1="274.5" y1="1586.3" x2="274.5" y2="1694.6" stroke="#ececec" stroke-width="1" />
<line x1="424.5" y1="1586.3" x2="424.5" y2="1694.6" stroke="#3c3c3c" stroke-width="1.6" />
<line x1="274.5" y1="1694.6" x2="424.5" y2="1694.6" stroke="#3c3c3c" stroke-width="1.6" />
<line x1="294.3" y1="1595.2" x2="294.3" y2="1681.0" stroke="#555" stroke-width="0.9" />
<line x1="294.3" y1="1681.0" x2="409.9" y2="1681.0" stroke="#555" stroke-width="0.9" />
<line x1="292.8" y1="1666.7" x2="294.3" y2="1666.7" stroke="#777" stroke-width="0.6" />
<line x1="292.8" y1="1652.4" x2="294.3" y2="1652.4" stroke="#777" stroke-width="0.6" />
<line x1="292.8" y1="1638.1" x2="294.3" y2="1638.1" stroke="#777" stroke-width="0.6" />
<line x1="292.8" y1="1623.8" x2="294.3" y2="1623.8" stroke="#777" stroke-width="0.6" />
<line x1="292.8" y1="1609.5" x2="294.3" y2="1609.5" stroke="#777" stroke-width="0.6" />
<path d="M294.9,1681.0V1659.9M296.4,1681.0V1672.9M297.8,1681.0V1672.0M299.3,1681.0V1678.2M300.7,1681.0V1676.6M302.2,1681.0V1677.8M303.6,1681.0V1679.2M305.1,1681.0V1677.4M306.5,1681.0V1679.3M308.0,1681.0V1677.8M309.4,1681.0V1679.2M310.9,1681.0V1679.1M312.3,1681.0V1677.8M313.8,1681.0V1676.3M315.2,1681.0V1679.0M316.7,1681.0V1678.6M318.1,1681.0V1677.0M319.6,1681.0V1675.8M321.0,1681.0V1677.2M322.5,1681.0V1677.9M323.9,1681.0V1675.7M325.4,1681.0V1679.3M326.8,1681.0V1676.1M328.3,1681.0V1678.3M329.7,1681.0V1678.9M331.2,1681.0V1679.0M332.6,1681.0V1678.3M334.1,1681.0V1676.3M335.5,1681.0V1678.8M337.0,1681.0V1677.2M338.4,1681.0V1677.0M339.9,1681.0V1678.0M341.3,1681.0V1677.3M342.8,1681.0V1679.2M344.2,1681.0V1679.2M345.7,1681.0V1678.7M347.1,1681.0V1676.8M348.6,1681.0V1677.8M350.0,1681.0V1678.2M351.5,1681.0V1677.2M352.9,1681.0V1677.7M354.4,1681.0V1678.3M355.8,1681.0V1676.4M357.3,1681.0V1676.8M358.7,1681.0V1678.5M360.2,1681.0V1677.2M361.6,1681.0V1677.4M363.1,1681.0V1676.1M364.5,1681.0V1676.6M366.0,1681.0V1678.3M367.4,1681.0V1675.7M368.9,1681.0V1679.0M370.3,1681.0V1677.8M371.8,1681.0V1676.5M373.2,1681.0V1678.9M374.7,1681.0V1677.6M376.1,1681.0V1679.3M377.6,1681.0V1676.9M379.0,1681.0V1676.5M380.5,1681.0V1677.2M381.9,1681.0V1676.0M383.4,1681.0V1678.2M384.8,1681.0V1676.7M386.2,1681.0V1677.1M387.7,1681.0V1677.1M389.2,1681.0V1677.5M390.6,1681.0V1675.8M392.1,1681.0V1675.2M393.5,1681.0V1677.0M395.0,1681.0V1675.8M396.4,1681.0V1678.5M397.9,1681.0V1674.1M399.3,1681.0V1673.1M400.8,1681.0V1667.7M402.2,1681.0V1665.7M403.7,1681.0V1669.3M405.1,1681.0V1662.1M406.6,1681.0V1644.0M408.0,1681.0V1659.6" stroke="#141414" stroke-width="1.0" fill="none" opacity="0.9"/>
<polyline points="294.5,1603.0 295.0,1620.0 296.0,1640.0 297.0,1650.0 298.0,1657.0 300.0,1662.0 304.0,1666.0 310.0,1668.5 320.0,1670.0 340.0,1671.0 370.0,1671.0 390.0,1672.0 397.0,1671.0 399.0,1668.0 400.0,1655.0 400.5,1620.0 401.0,1608.0 403.8,1602.5 406.0,1610.0 407.5,1630.0 408.5,1660.0 409.5,1680.0" fill="none" stroke="#4a6fb5" stroke-width="1.3" stroke-linejoin="round" stroke-linecap="round" stroke-dasharray="4.5,2"/>
<text transform="translate(291.8,1597.2) scale(1,1.08)" font-size="4.5" text-anchor="end" font-weight="bold" font-family='"Liberation Serif", serif' fill="#333" >75</text>
<text transform="translate(291.8,1682.5) scale(1,1.08)" font-size="4.5" text-anchor="end" font-weight="bold" font-family='"Liberation Serif", serif' fill="#333" >0</text>
<text transform="translate(409.9,1688.0) scale(1,1.08)" font-size="5" text-anchor="middle" font-weight="bold" font-family='"Liberation Serif", serif' fill="#333" >2.8</text>
<text transform="translate(360.1,1691.0) scale(1,1.08)" font-size="5.2" text-anchor="middle" font-weight="bold" font-family='"Liberation Serif", serif' fill="#333" >Duration (h)</text>
<text transform="translate(285.3,1638.1) rotate(90)" font-size="5" font-weight="bold" text-anchor="middle" font-family='"Liberation Serif", serif' fill="#444">Count</text>
<line x1="370.0" y1="1599.5" x2="378.0" y2="1599.5" stroke="#666" stroke-width="0.9" />
<text transform="translate(380.0,1601.3) scale(1,1.08)" font-size="4" text-anchor="start" font-weight="bold" font-family='"Liberation Serif", serif' fill="#555" >• • •</text>
<line x1="59.9" y1="1462.2" x2="59.9" y2="1770.1" stroke="#3a3a3a" stroke-width="1.8" />
<line x1="466.2" y1="1462.2" x2="466.2" y2="1764.6" stroke="#3a3a3a" stroke-width="1.8" />
<line x1="53.9" y1="1764.6" x2="466.2" y2="1764.6" stroke="#3a3a3a" stroke-width="1.8" />
<line x1="53.9" y1="1462.2" x2="59.9" y2="1462.2" stroke="#3a3a3a" stroke-width="1.8" />
<line x1="466.2" y1="1462.2" x2="472.2" y2="1462.2" stroke="#3a3a3a" stroke-width="1.8" />
<line x1="56.5" y1="1487.4" x2="59.9" y2="1487.4" stroke="#3a3a3a" stroke-width="1.8" />
<line x1="466.2" y1="1487.4" x2="469.6" y2="1487.4" stroke="#3a3a3a" stroke-width="1.8" />
<line x1="53.9" y1="1512.6" x2="59.9" y2="1512.6" stroke="#3a3a3a" stroke-width="1.8" />
<line x1="466.2" y1="1512.6" x2="472.2" y2="1512.6" stroke="#3a3a3a" stroke-width="1.8" />
<line x1="56.5" y1="1537.8" x2="59.9" y2="1537.8" stroke="#3a3a3a" stroke-width="1.8" />
<line x1="466.2" y1="1537.8" x2="469.6" y2="1537.8" stroke="#3a3a3a" stroke-width="1.8" />
<line x1="53.9" y1="1563.0" x2="59.9" y2="1563.0" stroke="#3a3a3a" stroke-width="1.8" />
<line x1="466.2" y1="1563.0" x2="472.2" y2="1563.0" stroke="#3a3a3a" stroke-width="1.8" />
<line x1="56.5" y1="1588.2" x2="59.9" y2="1588.2" stroke="#3a3a3a" stroke-width="1.8" />
<line x1="466.2" y1="1588.2" x2="469.6" y2="1588.2" stroke="#3a3a3a" stroke-width="1.8" />
<line x1="53.9" y1="1613.4" x2="59.9" y2="1613.4" stroke="#3a3a3a" stroke-width="1.8" />
<line x1="466.2" y1="1613.4" x2="472.2" y2="1613.4" stroke="#3a3a3a" stroke-width="1.8" />
<line x1="56.5" y1="1638.6" x2="59.9" y2="1638.6" stroke="#3a3a3a" stroke-width="1.8" />
<line x1="466.2" y1="1638.6" x2="469.6" y2="1638.6" stroke="#3a3a3a" stroke-width="1.8" />
<line x1="53.9" y1="1663.8" x2="59.9" y2="1663.8" stroke="#3a3a3a" stroke-width="1.8" />
<line x1="466.2" y1="1663.8" x2="472.2" y2="1663.8" stroke="#3a3a3a" stroke-width="1.8" />
<line x1="56.5" y1="1689.0" x2="59.9" y2="1689.0" stroke="#3a3a3a" stroke-width="1.8" />
<line x1="466.2" y1="1689.0" x2="469.6" y2="1689.0" stroke="#3a3a3a" stroke-width="1.8" />
<line x1="53.9" y1="1714.2" x2="59.9" y2="1714.2" stroke="#3a3a3a" stroke-width="1.8" />
<line x1="466.2" y1="1714.2" x2="472.2" y2="1714.2" stroke="#3a3a3a" stroke-width="1.8" />
<line x1="56.5" y1="1739.4" x2="59.9" y2="1739.4" stroke="#3a3a3a" stroke-width="1.8" />
<line x1="466.2" y1="1739.4" x2="469.6" y2="1739.4" stroke="#3a3a3a" stroke-width="1.8" />
<line x1="53.9" y1="1764.6" x2="59.9" y2="1764.6" stroke="#3a3a3a" stroke-width="1.8" />
<line x1="466.2" y1="1764.6" x2="472.2" y2="1764.6" stroke="#3a3a3a" stroke-width="1.8" />
<text transform="translate(47.9,1467.6) scale(1,1.15)" font-size="14.4" text-anchor="end" font-weight="bold" font-family='"Liberation Serif", serif' fill="#141414" >3.0</text>
<text transform="translate(47.9,1518.0) scale(1,1.15)" font-size="14.4" text-anchor="end" font-weight="bold" font-family='"Liberation Serif", serif' fill="#141414" >2.0</text>
<text transform="translate(47.9,1568.4) scale(1,1.15)" font-size="14.4" text-anchor="end" font-weight="bold" font-family='"Liberation Serif", serif' fill="#141414" >1.0</text>
<text transform="translate(47.9,1618.8) scale(1,1.15)" font-size="14.4" text-anchor="end" font-weight="bold" font-family='"Liberation Serif", serif' fill="#141414" >0.0</text>
<text transform="translate(47.9,1669.2) scale(1,1.15)" font-size="14.4" text-anchor="end" font-weight="bold" font-family='"Liberation Serif", serif' fill="#141414" >-1.0</text>
<text transform="translate(47.9,1719.6) scale(1,1.15)" font-size="14.4" text-anchor="end" font-weight="bold" font-family='"Liberation Serif", serif' fill="#141414" >-2.0</text>
<text transform="translate(47.9,1770.0) scale(1,1.15)" font-size="14.4" text-anchor="end" font-weight="bold" font-family='"Liberation Serif", serif' fill="#141414" >-3.0</text>
<text transform="translate(477.2,1467.6) scale(1,1.15)" font-size="14.4" text-anchor="start" font-weight="bold" font-family='"Liberation Serif", serif' fill="#141414" >12</text>
<text transform="translate(477.2,1518.0) scale(1,1.15)" font-size="14.4" text-anchor="start" font-weight="bold" font-family='"Liberation Serif", serif' fill="#141414" >10</text>
<text transform="translate(477.2,1568.4) scale(1,1.15)" font-size="14.4" text-anchor="start" font-weight="bold" font-family='"Liberation Serif", serif' fill="#141414" >8</text>
<text transform="translate(477.2,1618.8) scale(1,1.15)" font-size="14.4" text-anchor="start" font-weight="bold" font-family='"Liberation Serif", serif' fill="#141414" >6</text>
<text transform="translate(477.2,1669.2) scale(1,1.15)" font-size="14.4" text-anchor="start" font-weight="bold" font-family='"Liberation Serif", serif' fill="#141414" >4</text>
<text transform="translate(477.2,1719.6) scale(1,1.15)" font-size="14.4" text-anchor="start" font-weight="bold" font-family='"Liberation Serif", serif' fill="#141414" >2</text>
<text transform="translate(477.2,1770.0) scale(1,1.15)" font-size="14.4" text-anchor="start" font-weight="bold" font-family='"Liberation Serif", serif' fill="#141414" >0</text>
<line x1="127.0" y1="1764.6" x2="127.0" y2="1770.1" stroke="#3a3a3a" stroke-width="1.8" />
<text transform="translate(127.0,1785.2) scale(1,1.15)" font-size="14.4" text-anchor="middle" font-weight="bold" font-family='"Liberation Serif", serif' fill="#141414" >0.5</text>
<line x1="160.9" y1="1764.6" x2="160.9" y2="1768.0" stroke="#3a3a3a" stroke-width="1.8" />
<line x1="194.8" y1="1764.6" x2="194.8" y2="1770.1" stroke="#3a3a3a" stroke-width="1.8" />
<text transform="translate(194.8,1785.2) scale(1,1.15)" font-size="14.4" text-anchor="middle" font-weight="bold" font-family='"Liberation Serif", serif' fill="#141414" >1.0</text>
<line x1="228.8" y1="1764.6" x2="228.8" y2="1768.0" stroke="#3a3a3a" stroke-width="1.8" />
<line x1="262.7" y1="1764.6" x2="262.7" y2="1770.1" stroke="#3a3a3a" stroke-width="1.8" />
<text transform="translate(262.7,1785.2) scale(1,1.15)" font-size="14.4" text-anchor="middle" font-weight="bold" font-family='"Liberation Serif", serif' fill="#141414" >1.5</text>
<line x1="296.6" y1="1764.6" x2="296.6" y2="1768.0" stroke="#3a3a3a" stroke-width="1.8" />
<line x1="330.5" y1="1764.6" x2="330.5" y2="1770.1" stroke="#3a3a3a" stroke-width="1.8" />
<text transform="translate(330.5,1785.2) scale(1,1.15)" font-size="14.4" text-anchor="middle" font-weight="bold" font-family='"Liberation Serif", serif' fill="#141414" >2.0</text>
<line x1="364.4" y1="1764.6" x2="364.4" y2="1768.0" stroke="#3a3a3a" stroke-width="1.8" />
<line x1="398.4" y1="1764.6" x2="398.4" y2="1770.1" stroke="#3a3a3a" stroke-width="1.8" />
<text transform="translate(398.4,1785.2) scale(1,1.15)" font-size="14.4" text-anchor="middle" font-weight="bold" font-family='"Liberation Serif", serif' fill="#141414" >2.5</text>
<line x1="432.3" y1="1764.6" x2="432.3" y2="1768.0" stroke="#3a3a3a" stroke-width="1.8" />
<line x1="466.2" y1="1764.6" x2="466.2" y2="1770.1" stroke="#3a3a3a" stroke-width="1.8" />
<text transform="translate(466.2,1785.2) scale(1,1.15)" font-size="14.4" text-anchor="middle" font-weight="bold" font-family='"Liberation Serif", serif' fill="#141414" >3.0</text>
<line x1="93.2" y1="1764.6" x2="93.2" y2="1768.0" stroke="#3a3a3a" stroke-width="1.8" />
<text transform="translate(93.2,1785.2) scale(1,1.15)" font-size="14.4" text-anchor="middle" font-weight="bold" font-family='"Liberation Serif", serif' fill="#141414" >0.1</text>
<rect x="109.6" y="1762.6" width="7" height="4" fill="#fff"/>
<line x1="107.6" y1="1768.6" x2="111.6" y2="1760.6" stroke="#8a8a8a" stroke-width="1.1" />
<line x1="111.6" y1="1768.6" x2="115.6" y2="1760.6" stroke="#8a8a8a" stroke-width="1.1" />
<text transform="translate(276.1,1801.8) scale(1,1.08)" font-size="14.8" text-anchor="middle" font-weight="bold" font-family='"Liberation Serif", serif' fill="#141414" >Duration (<tspan font-style="italic">h</tspan>)</text>
<text transform="translate(8.9,1616.4) rotate(90)" font-size="14.8" text-anchor="middle" font-weight="bold" font-family='"Liberation Serif", serif' fill="#141414">Strain (%)</text>
<text transform="translate(498.1,1620.8) rotate(90)" font-size="14.8" text-anchor="middle" font-weight="bold" font-family='"Liberation Serif", serif' fill="#141414">Stress (<tspan font-style="italic">MPa</tspan>)</text>
<path d="M61,1764 L77,1516 Q77.5,1507.5 80,1506.9 L456.3,1506.9 L456.3,1764" fill="none" stroke="#111" stroke-width="2" stroke-dasharray="6,3.5"/>
<line x1="109.9" y1="1489.0" x2="109.9" y2="1764.0" stroke="#a8a8a8" stroke-width="0.9" stroke-dasharray="1,1.3"/>
<line x1="429.7" y1="1480.5" x2="429.7" y2="1764.0" stroke="#a8a8a8" stroke-width="0.9" stroke-dasharray="1,1.3"/>
<line x1="451.9" y1="1470.3" x2="451.9" y2="1764.0" stroke="#a8a8a8" stroke-width="0.9" stroke-dasharray="1,1.3"/>
<line x1="61.5" y1="1613.0" x2="61.5" y2="1764.0" stroke="#a8a8a8" stroke-width="0.9" stroke-dasharray="1,1.3"/>
<polyline points="60.0,1613.0 62.0,1610.0 63.0,1605.0 64.0,1597.0 65.0,1593.0 66.0,1588.0 67.0,1580.0 68.0,1575.0 70.0,1568.0 71.0,1563.0 72.0,1558.0 73.0,1551.0 75.0,1545.0 77.0,1540.0 78.0,1538.0 80.0,1533.0 82.0,1525.0 84.0,1519.0 85.0,1515.0 88.0,1510.0 90.0,1508.0 92.0,1502.0 94.0,1497.0 96.0,1494.0 100.0,1492.0 104.0,1491.5 109.9,1489.5 115.0,1488.0 125.0,1486.2 280.0,1486.2 283.0,1485.5 300.0,1485.5 303.0,1484.7 390.0,1484.7 392.0,1483.7 404.0,1483.0 405.0,1481.5 429.7,1481.0 435.0,1480.0 440.0,1479.0 445.0,1477.0 449.0,1475.0 450.5,1472.0 451.5,1467.0" fill="none" stroke="#1a1ae0" stroke-width="2.5" stroke-linejoin="round" stroke-linecap="round" />
<polyline points="60.0,1613.4 62.0,1617.0 63.0,1622.0 64.0,1627.0 66.0,1630.0 68.0,1633.0 70.0,1637.0 72.0,1641.0 74.0,1642.0 76.0,1646.0 80.0,1646.5 81.0,1652.0 82.0,1660.0 84.0,1664.0 86.0,1668.0 90.0,1669.0 91.0,1674.0 94.0,1677.0 98.0,1678.0 99.0,1683.0 108.0,1683.5 112.0,1684.0 115.0,1686.0 118.0,1689.0 122.0,1690.0 130.0,1691.0 135.0,1693.0 140.0,1694.0 157.0,1694.5 158.0,1696.0 200.0,1696.0 202.0,1697.0 217.0,1697.0 218.0,1699.2 395.4,1699.2 400.0,1700.0 405.0,1701.0 410.0,1702.0 417.0,1703.0 418.0,1705.5 425.0,1706.5 430.0,1707.5 435.0,1708.0 440.0,1709.0 443.0,1711.0 446.0,1713.0 447.0,1718.0 448.0,1722.0 448.3,1740.0 448.5,1764.0" fill="none" stroke="#f51a1a" stroke-width="2.5" stroke-linejoin="round" stroke-linecap="round" />
<circle cx="109.9" cy="1489.0" r="1.9" fill="#9c9c9c"/>
<circle cx="429.7" cy="1480.5" r="1.9" fill="#9c9c9c"/>
<circle cx="451.9" cy="1470.3" r="1.9" fill="#9c9c9c"/>
<circle cx="429.7" cy="1764.0" r="1.9" fill="#9c9c9c"/>
<circle cx="451.9" cy="1764.0" r="1.9" fill="#9c9c9c"/>
<circle cx="61.5" cy="1764.0" r="1.9" fill="#9c9c9c"/>
<polygon points="456.2,1463.7 452.6,1463.4 455.0,1466.4 451.5,1464.4 452.4,1468.3 450.1,1464.9 449.1,1467.7 448.6,1464.8 445.9,1467.6 447.3,1464.1 443.6,1465.5 446.4,1463.0 442.6,1462.9 446.2,1461.7 443.8,1460.3 446.6,1460.4 445.2,1458.3 447.7,1459.4 447.2,1456.4 449.1,1458.9 450.1,1455.4 450.6,1459.0 452.8,1456.9 451.9,1459.7 455.2,1458.4 452.8,1460.8 456.0,1461.0 453.0,1462.1" fill="#1a1a1a"/>
<polygon points="453.3,1458.8 453.9,1460.5 453.4,1462.6 451.8,1464.5 449.7,1465.7 447.5,1465.9 445.9,1465.0 445.3,1463.3 445.8,1461.2 447.4,1459.3 449.5,1458.1 451.7,1457.9" fill="#f00a0a"/>
<line x1="61.5" y1="1609.2" x2="109.0" y2="1609.2" stroke="#78bb58" stroke-width="1.3" />
<polyline points="104.2,1606.1 109.0,1609.2 104.2,1612.3" fill="none" stroke="#78bb58" stroke-width="1.3"/>
<polyline points="66.3,1606.1 61.5,1609.2 66.3,1612.3" fill="none" stroke="#78bb58" stroke-width="1.3"/>
<line x1="112.0" y1="1549.7" x2="428.0" y2="1549.7" stroke="#78bb58" stroke-width="1.3" />
<polyline points="423.2,1546.6 428.0,1549.7 423.2,1552.8" fill="none" stroke="#78bb58" stroke-width="1.3"/>
<polyline points="116.8,1546.6 112.0,1549.7 116.8,1552.8" fill="none" stroke="#78bb58" stroke-width="1.3"/>
<line x1="431.0" y1="1549.7" x2="452.0" y2="1549.7" stroke="#78bb58" stroke-width="1.3" />
<polyline points="447.2,1546.6 452.0,1549.7 447.2,1552.8" fill="none" stroke="#78bb58" stroke-width="1.3"/>
<polyline points="435.8,1546.6 431.0,1549.7 435.8,1552.8" fill="none" stroke="#78bb58" stroke-width="1.3"/>
<text transform="translate(78.9,1583.5) scale(1,1.08)" font-size="14.4" text-anchor="start" font-weight="bold" font-family='"Liberation Serif", serif' fill="#141414" >first</text>
<text transform="translate(78.9,1600.6) scale(1,1.08)" font-size="14.4" text-anchor="start" font-weight="bold" font-family='"Liberation Serif", serif' fill="#141414" >stage</text>
<text transform="translate(276.0,1537.9) scale(1,1.08)" font-size="14.4" text-anchor="middle" font-weight="bold" font-family='"Liberation Serif", serif' fill="#141414" >second stage</text>
<text transform="translate(448.3,1523.7) scale(1,1.08)" font-size="14.4" text-anchor="end" font-weight="bold" font-family='"Liberation Serif", serif' fill="#141414" >third</text>
<text transform="translate(448.3,1540.8) scale(1,1.08)" font-size="14.4" text-anchor="end" font-weight="bold" font-family='"Liberation Serif", serif' fill="#141414" >stage</text>
<text transform="translate(440.1,1472.7) scale(1,1.08)" font-size="12.6" text-anchor="end" font-weight="bold" font-family='"Liberation Serif", serif' fill="#141414" >failure</text>
<text transform="translate(443.0,1756.8) scale(1,1.08)" font-size="12.8" text-anchor="end" font-weight="bold" font-family='"Liberation Serif", serif' fill="#141414" ><tspan font-style="italic">σ</tspan>=10.2 MPa</text>
<line x1="64.6" y1="1719.0" x2="93.2" y2="1719.0" stroke="#3a3a3a" stroke-width="1.5" stroke-dasharray="4.5,2.5"/>
<line x1="64.6" y1="1737.0" x2="93.2" y2="1737.0" stroke="#f51a1a" stroke-width="2.4" />
<line x1="64.6" y1="1753.2" x2="93.2" y2="1753.2" stroke="#1a1ae0" stroke-width="2.4" />
<text transform="translate(100.2,1724.3) scale(1,1.08)" font-size="12.6" text-anchor="start" font-weight="bold" font-family='"Liberation Serif", serif' fill="#141414" >stress</text>
<text transform="translate(100.2,1742.3) scale(1,1.08)" font-size="12.6" text-anchor="start" font-weight="bold" font-family='"Liberation Serif", serif' fill="#141414" >radial strain</text>
<text transform="translate(100.2,1758.5) scale(1,1.08)" font-size="12.6" text-anchor="start" font-weight="bold" font-family='"Liberation Serif", serif' fill="#141414" >axial strain</text>
<text transform="translate(29.2,1868.4) scale(1,1.05)" font-size="41" text-anchor="start" font-weight="bold" font-family='"Liberation Sans", sans-serif' fill="#111" >(G)</text>
<text transform="translate(106.6,1869.0) scale(1,1.13)" font-size="34.5" text-anchor="start" font-weight="normal" font-family='"Liberation Serif", serif' fill="#111" >Creep curve of USO-7</text>
<rect x="975.5" y="1589.9" width="149.3" height="106.8" fill="#fff"/>
<line x1="1124.8" y1="1589.9" x2="1124.8" y2="1696.7" stroke="#3c3c3c" stroke-width="1.6" />
<line x1="975.5" y1="1696.7" x2="1124.8" y2="1696.7" stroke="#3c3c3c" stroke-width="1.6" />
<line x1="993.7" y1="1596.6" x2="993.7" y2="1683.3" stroke="#555" stroke-width="0.9" />
<line x1="993.7" y1="1683.3" x2="1109.9" y2="1683.3" stroke="#555" stroke-width="0.9" />
<line x1="992.2" y1="1668.8" x2="993.7" y2="1668.8" stroke="#777" stroke-width="0.6" />
<line x1="992.2" y1="1654.4" x2="993.7" y2="1654.4" stroke="#777" stroke-width="0.6" />
<line x1="992.2" y1="1639.9" x2="993.7" y2="1639.9" stroke="#777" stroke-width="0.6" />
<line x1="992.2" y1="1625.5" x2="993.7" y2="1625.5" stroke="#777" stroke-width="0.6" />
<line x1="992.2" y1="1611.0" x2="993.7" y2="1611.0" stroke="#777" stroke-width="0.6" />
<path d="M994.3,1683.3V1658.9M995.8,1683.3V1640.6M997.2,1683.3V1669.9M998.7,1683.3V1660.3M1000.1,1683.3V1674.9M1001.6,1683.3V1674.0M1003.0,1683.3V1666.2M1004.5,1683.3V1676.9M1005.9,1683.3V1673.7M1007.4,1683.3V1676.3M1008.8,1683.3V1677.0M1010.3,1683.3V1677.3M1011.7,1683.3V1679.6M1013.2,1683.3V1676.1M1014.6,1683.3V1680.6M1016.1,1683.3V1679.9M1017.5,1683.3V1681.1M1019.0,1683.3V1679.9M1020.4,1683.3V1679.3M1021.9,1683.3V1677.0M1023.3,1683.3V1679.6M1024.8,1683.3V1680.9M1026.2,1683.3V1680.2M1027.7,1683.3V1676.8M1029.1,1683.3V1681.2M1030.6,1683.3V1678.6M1032.0,1683.3V1679.7M1033.5,1683.3V1678.4M1034.9,1683.3V1679.9M1036.4,1683.3V1678.3M1037.8,1683.3V1679.2M1039.2,1683.3V1678.5M1040.7,1683.3V1677.4M1042.2,1683.3V1678.8M1043.6,1683.3V1680.8M1045.1,1683.3V1681.2M1046.5,1683.3V1677.2M1048.0,1683.3V1679.3M1049.4,1683.3V1680.6M1050.9,1683.3V1677.2M1052.3,1683.3V1678.8M1053.8,1683.3V1678.2M1055.2,1683.3V1677.5M1056.7,1683.3V1680.2M1058.1,1683.3V1679.9M1059.6,1683.3V1677.5M1061.0,1683.3V1680.9M1062.5,1683.3V1678.0M1063.9,1683.3V1681.0M1065.4,1683.3V1678.3M1066.8,1683.3V1678.3M1068.2,1683.3V1677.1M1069.7,1683.3V1677.6M1071.2,1683.3V1679.2M1072.6,1683.3V1680.6M1074.1,1683.3V1680.8M1075.5,1683.3V1679.0M1077.0,1683.3V1679.1M1078.4,1683.3V1681.1M1079.9,1683.3V1677.2M1081.3,1683.3V1679.0M1082.8,1683.3V1678.1M1084.2,1683.3V1680.3M1085.7,1683.3V1680.1M1087.1,1683.3V1681.2M1088.6,1683.3V1679.4M1090.0,1683.3V1679.7M1091.5,1683.3V1678.5M1092.9,1683.3V1678.4M1094.4,1683.3V1674.8M1095.8,1683.3V1673.3M1097.2,1683.3V1678.2M1098.7,1683.3V1675.0M1100.2,1683.3V1676.1M1101.6,1683.3V1666.7M1103.1,1683.3V1656.2M1104.5,1683.3V1668.1M1106.0,1683.3V1645.0M1107.4,1683.3V1653.1M1108.9,1683.3V1659.6" stroke="#141414" stroke-width="1.0" fill="none" opacity="0.9"/>
<polyline points="993.7,1682.0 994.3,1625.0 995.5,1611.2 997.0,1620.0 998.0,1635.0 1000.0,1650.0 1002.0,1660.0 1006.0,1667.0 1012.0,1670.5 1025.0,1672.5 1045.0,1674.0 1065.0,1675.0 1085.0,1676.0 1093.0,1674.0 1095.0,1670.0 1097.0,1645.0 1099.0,1615.0 1101.0,1603.0 1104.4,1600.2 1108.0,1607.0 1110.0,1625.0 1110.0,1660.0 1109.9,1683.0" fill="none" stroke="#4a6fb5" stroke-width="1.3" stroke-linejoin="round" stroke-linecap="round" stroke-dasharray="4.5,2"/>
<text transform="translate(991.2,1598.6) scale(1,1.08)" font-size="4.5" text-anchor="end" font-weight="bold" font-family='"Liberation Serif", serif' fill="#333" >63</text>
<text transform="translate(991.2,1684.8) scale(1,1.08)" font-size="4.5" text-anchor="end" font-weight="bold" font-family='"Liberation Serif", serif' fill="#333" >0</text>
<text transform="translate(1109.9,1690.3) scale(1,1.08)" font-size="5" text-anchor="middle" font-weight="bold" font-family='"Liberation Serif", serif' fill="#333" >1.7</text>
<text transform="translate(1059.8,1693.3) scale(1,1.08)" font-size="5.2" text-anchor="middle" font-weight="bold" font-family='"Liberation Serif", serif' fill="#333" >Duration (h)</text>
<text transform="translate(984.7,1639.9) rotate(90)" font-size="5" font-weight="bold" text-anchor="middle" font-family='"Liberation Serif", serif' fill="#444">Count</text>
<line x1="1057.0" y1="1605.0" x2="1065.0" y2="1605.0" stroke="#666" stroke-width="0.9" />
<text transform="translate(1067.0,1606.8) scale(1,1.08)" font-size="4" text-anchor="start" font-weight="bold" font-family='"Liberation Serif", serif' fill="#555" >• • •</text>
<line x1="753.3" y1="1462.2" x2="753.3" y2="1769.9" stroke="#3a3a3a" stroke-width="1.8" />
<line x1="1160.2" y1="1462.2" x2="1160.2" y2="1764.4" stroke="#3a3a3a" stroke-width="1.8" />
<line x1="747.3" y1="1764.4" x2="1160.2" y2="1764.4" stroke="#3a3a3a" stroke-width="1.8" />
<line x1="747.3" y1="1462.2" x2="753.3" y2="1462.2" stroke="#3a3a3a" stroke-width="1.8" />
<line x1="1160.2" y1="1462.2" x2="1166.2" y2="1462.2" stroke="#3a3a3a" stroke-width="1.8" />
<line x1="749.9" y1="1487.4" x2="753.3" y2="1487.4" stroke="#3a3a3a" stroke-width="1.8" />
<line x1="1160.2" y1="1487.4" x2="1163.6" y2="1487.4" stroke="#3a3a3a" stroke-width="1.8" />
<line x1="747.3" y1="1512.6" x2="753.3" y2="1512.6" stroke="#3a3a3a" stroke-width="1.8" />
<line x1="1160.2" y1="1512.6" x2="1166.2" y2="1512.6" stroke="#3a3a3a" stroke-width="1.8" />
<line x1="749.9" y1="1537.8" x2="753.3" y2="1537.8" stroke="#3a3a3a" stroke-width="1.8" />
<line x1="1160.2" y1="1537.8" x2="1163.6" y2="1537.8" stroke="#3a3a3a" stroke-width="1.8" />
<line x1="747.3" y1="1562.9" x2="753.3" y2="1562.9" stroke="#3a3a3a" stroke-width="1.8" />
<line x1="1160.2" y1="1562.9" x2="1166.2" y2="1562.9" stroke="#3a3a3a" stroke-width="1.8" />
<line x1="749.9" y1="1588.1" x2="753.3" y2="1588.1" stroke="#3a3a3a" stroke-width="1.8" />
<line x1="1160.2" y1="1588.1" x2="1163.6" y2="1588.1" stroke="#3a3a3a" stroke-width="1.8" />
<line x1="747.3" y1="1613.3" x2="753.3" y2="1613.3" stroke="#3a3a3a" stroke-width="1.8" />
<line x1="1160.2" y1="1613.3" x2="1166.2" y2="1613.3" stroke="#3a3a3a" stroke-width="1.8" />
<line x1="749.9" y1="1638.5" x2="753.3" y2="1638.5" stroke="#3a3a3a" stroke-width="1.8" />
<line x1="1160.2" y1="1638.5" x2="1163.6" y2="1638.5" stroke="#3a3a3a" stroke-width="1.8" />
<line x1="747.3" y1="1663.7" x2="753.3" y2="1663.7" stroke="#3a3a3a" stroke-width="1.8" />
<line x1="1160.2" y1="1663.7" x2="1166.2" y2="1663.7" stroke="#3a3a3a" stroke-width="1.8" />
<line x1="749.9" y1="1688.9" x2="753.3" y2="1688.9" stroke="#3a3a3a" stroke-width="1.8" />
<line x1="1160.2" y1="1688.9" x2="1163.6" y2="1688.9" stroke="#3a3a3a" stroke-width="1.8" />
<line x1="747.3" y1="1714.0" x2="753.3" y2="1714.0" stroke="#3a3a3a" stroke-width="1.8" />
<line x1="1160.2" y1="1714.0" x2="1166.2" y2="1714.0" stroke="#3a3a3a" stroke-width="1.8" />
<line x1="749.9" y1="1739.2" x2="753.3" y2="1739.2" stroke="#3a3a3a" stroke-width="1.8" />
<line x1="1160.2" y1="1739.2" x2="1163.6" y2="1739.2" stroke="#3a3a3a" stroke-width="1.8" />
<line x1="747.3" y1="1764.4" x2="753.3" y2="1764.4" stroke="#3a3a3a" stroke-width="1.8" />
<line x1="1160.2" y1="1764.4" x2="1166.2" y2="1764.4" stroke="#3a3a3a" stroke-width="1.8" />
<text transform="translate(741.3,1467.6) scale(1,1.15)" font-size="14.4" text-anchor="end" font-weight="bold" font-family='"Liberation Serif", serif' fill="#141414" >3.0</text>
<text transform="translate(741.3,1518.0) scale(1,1.15)" font-size="14.4" text-anchor="end" font-weight="bold" font-family='"Liberation Serif", serif' fill="#141414" >2.0</text>
<text transform="translate(741.3,1568.3) scale(1,1.15)" font-size="14.4" text-anchor="end" font-weight="bold" font-family='"Liberation Serif", serif' fill="#141414" >1.0</text>
<text transform="translate(741.3,1618.7) scale(1,1.15)" font-size="14.4" text-anchor="end" font-weight="bold" font-family='"Liberation Serif", serif' fill="#141414" >0.0</text>
<text transform="translate(741.3,1669.1) scale(1,1.15)" font-size="14.4" text-anchor="end" font-weight="bold" font-family='"Liberation Serif", serif' fill="#141414" >-1.0</text>
<text transform="translate(741.3,1719.4) scale(1,1.15)" font-size="14.4" text-anchor="end" font-weight="bold" font-family='"Liberation Serif", serif' fill="#141414" >-2.0</text>
<text transform="translate(741.3,1769.8) scale(1,1.15)" font-size="14.4" text-anchor="end" font-weight="bold" font-family='"Liberation Serif", serif' fill="#141414" >-3.0</text>
<text transform="translate(1172.0,1467.6) scale(1,1.15)" font-size="14.4" text-anchor="start" font-weight="bold" font-family='"Liberation Serif", serif' fill="#141414" >12</text>
<text transform="translate(1172.0,1518.0) scale(1,1.15)" font-size="14.4" text-anchor="start" font-weight="bold" font-family='"Liberation Serif", serif' fill="#141414" >10</text>
<text transform="translate(1172.0,1568.3) scale(1,1.15)" font-size="14.4" text-anchor="start" font-weight="bold" font-family='"Liberation Serif", serif' fill="#141414" >8</text>
<text transform="translate(1172.0,1618.7) scale(1,1.15)" font-size="14.4" text-anchor="start" font-weight="bold" font-family='"Liberation Serif", serif' fill="#141414" >6</text>
<text transform="translate(1172.0,1669.1) scale(1,1.15)" font-size="14.4" text-anchor="start" font-weight="bold" font-family='"Liberation Serif", serif' fill="#141414" >4</text>
<text transform="translate(1172.0,1719.4) scale(1,1.15)" font-size="14.4" text-anchor="start" font-weight="bold" font-family='"Liberation Serif", serif' fill="#141414" >2</text>
<text transform="translate(1172.0,1769.8) scale(1,1.15)" font-size="14.4" text-anchor="start" font-weight="bold" font-family='"Liberation Serif", serif' fill="#141414" >0</text>
<line x1="820.8" y1="1764.4" x2="820.8" y2="1769.9" stroke="#3a3a3a" stroke-width="1.8" />
<text transform="translate(820.8,1785.0) scale(1,1.15)" font-size="14.4" text-anchor="middle" font-weight="bold" font-family='"Liberation Serif", serif' fill="#141414" >0.3</text>
<line x1="854.7" y1="1764.4" x2="854.7" y2="1767.8" stroke="#3a3a3a" stroke-width="1.8" />
<line x1="888.6" y1="1764.4" x2="888.6" y2="1769.9" stroke="#3a3a3a" stroke-width="1.8" />
<text transform="translate(888.6,1785.0) scale(1,1.15)" font-size="14.4" text-anchor="middle" font-weight="bold" font-family='"Liberation Serif", serif' fill="#141414" >0.6</text>
<line x1="922.4" y1="1764.4" x2="922.4" y2="1767.8" stroke="#3a3a3a" stroke-width="1.8" />
<line x1="956.3" y1="1764.4" x2="956.3" y2="1769.9" stroke="#3a3a3a" stroke-width="1.8" />
<text transform="translate(956.3,1785.0) scale(1,1.15)" font-size="14.4" text-anchor="middle" font-weight="bold" font-family='"Liberation Serif", serif' fill="#141414" >0.9</text>
<line x1="990.2" y1="1764.4" x2="990.2" y2="1767.8" stroke="#3a3a3a" stroke-width="1.8" />
<line x1="1024.1" y1="1764.4" x2="1024.1" y2="1769.9" stroke="#3a3a3a" stroke-width="1.8" />
<text transform="translate(1024.1,1785.0) scale(1,1.15)" font-size="14.4" text-anchor="middle" font-weight="bold" font-family='"Liberation Serif", serif' fill="#141414" >1.2</text>
<line x1="1058.0" y1="1764.4" x2="1058.0" y2="1767.8" stroke="#3a3a3a" stroke-width="1.8" />
<line x1="1091.8" y1="1764.4" x2="1091.8" y2="1769.9" stroke="#3a3a3a" stroke-width="1.8" />
<text transform="translate(1091.8,1785.0) scale(1,1.15)" font-size="14.4" text-anchor="middle" font-weight="bold" font-family='"Liberation Serif", serif' fill="#141414" >1.5</text>
<line x1="1125.7" y1="1764.4" x2="1125.7" y2="1767.8" stroke="#3a3a3a" stroke-width="1.8" />
<line x1="1159.6" y1="1764.4" x2="1159.6" y2="1769.9" stroke="#3a3a3a" stroke-width="1.8" />
<text transform="translate(1159.6,1785.0) scale(1,1.15)" font-size="14.4" text-anchor="middle" font-weight="bold" font-family='"Liberation Serif", serif' fill="#141414" >1.8</text>
<line x1="787.0" y1="1764.4" x2="787.0" y2="1767.8" stroke="#3a3a3a" stroke-width="1.8" />
<text transform="translate(787.0,1785.0) scale(1,1.15)" font-size="14.4" text-anchor="middle" font-weight="bold" font-family='"Liberation Serif", serif' fill="#141414" >0.1</text>
<rect x="804.0" y="1762.4" width="7" height="4" fill="#fff"/>
<line x1="802.0" y1="1768.4" x2="806.0" y2="1760.4" stroke="#8a8a8a" stroke-width="1.1" />
<line x1="806.0" y1="1768.4" x2="810.0" y2="1760.4" stroke="#8a8a8a" stroke-width="1.1" />
<text transform="translate(968.5,1800.8) scale(1,1.08)" font-size="14.8" text-anchor="middle" font-weight="bold" font-family='"Liberation Serif", serif' fill="#141414" >Duration (<tspan font-style="italic">h</tspan>)</text>
<text transform="translate(702.0,1615.0) rotate(90)" font-size="14.8" text-anchor="middle" font-weight="bold" font-family='"Liberation Serif", serif' fill="#141414">Strain (%)</text>
<text transform="translate(1190.9,1619.0) rotate(90)" font-size="14.8" text-anchor="middle" font-weight="bold" font-family='"Liberation Serif", serif' fill="#141414">Stress (<tspan font-style="italic">MPa</tspan>)</text>
<path d="M754.5,1764 L773.5,1505 Q774,1493.5 776.5,1492.9 L1150.1,1492.9 L1150.1,1764" fill="none" stroke="#111" stroke-width="2" stroke-dasharray="6,3.5"/>
<line x1="805.6" y1="1478.3" x2="805.6" y2="1764.0" stroke="#a8a8a8" stroke-width="0.9" stroke-dasharray="1,1.3"/>
<line x1="1129.2" y1="1468.5" x2="1129.2" y2="1764.0" stroke="#a8a8a8" stroke-width="0.9" stroke-dasharray="1,1.3"/>
<line x1="1148.2" y1="1462.0" x2="1148.2" y2="1764.0" stroke="#a8a8a8" stroke-width="0.9" stroke-dasharray="1,1.3"/>
<line x1="755.0" y1="1613.0" x2="755.0" y2="1764.0" stroke="#a8a8a8" stroke-width="0.9" stroke-dasharray="1,1.3"/>
<polyline points="753.0,1613.0 755.0,1608.0 756.0,1600.0 758.0,1592.0 759.0,1585.0 760.0,1578.0 762.0,1572.0 763.0,1565.0 765.0,1563.0 766.0,1557.0 766.0,1551.0 768.0,1549.0 770.0,1546.0 772.0,1543.0 774.0,1541.0 776.0,1538.0 778.0,1533.0 779.0,1527.0 781.0,1523.0 782.0,1516.0 784.0,1512.0 786.0,1505.0 788.0,1500.0 790.0,1496.0 792.0,1489.0 796.0,1484.0 800.0,1482.0 804.0,1480.0 805.6,1478.3 812.0,1476.5 820.0,1475.5 822.0,1474.0 830.0,1473.0 835.0,1472.7 958.0,1472.7 959.0,1471.0 1090.0,1471.0 1092.0,1470.0 1120.0,1469.5 1129.2,1468.5 1135.0,1467.0 1140.0,1465.0 1144.0,1463.0 1147.0,1461.0" fill="none" stroke="#1a1ae0" stroke-width="2.5" stroke-linejoin="round" stroke-linecap="round" />
<polyline points="753.0,1613.4 755.0,1616.0 757.0,1620.0 759.0,1627.0 761.0,1633.0 762.0,1640.0 763.0,1648.0 765.0,1653.0 767.0,1653.5 768.0,1660.0 770.0,1664.0 772.0,1664.5 773.0,1670.0 775.0,1672.0 778.0,1673.0 779.0,1676.0 780.0,1680.0 782.0,1683.0 784.0,1690.0 786.0,1692.0 790.0,1693.0 795.0,1694.5 800.0,1695.5 805.0,1697.0 808.0,1699.0 818.0,1699.5 820.0,1701.0 850.0,1701.0 853.0,1702.5 959.0,1702.8 961.0,1704.6 1110.0,1704.6 1115.0,1705.5 1128.0,1705.5 1131.0,1707.0 1133.0,1710.0 1135.0,1714.0 1138.0,1715.0 1139.0,1720.0 1142.0,1722.0 1143.0,1726.0 1144.0,1730.0 1144.3,1745.0 1144.5,1764.0" fill="none" stroke="#f51a1a" stroke-width="2.5" stroke-linejoin="round" stroke-linecap="round" />
<circle cx="805.6" cy="1478.3" r="1.9" fill="#9c9c9c"/>
<circle cx="1129.2" cy="1468.5" r="1.9" fill="#9c9c9c"/>
<circle cx="1148.2" cy="1462.0" r="1.9" fill="#9c9c9c"/>
<circle cx="1129.2" cy="1764.0" r="1.9" fill="#9c9c9c"/>
<circle cx="1148.2" cy="1764.0" r="1.9" fill="#9c9c9c"/>
<circle cx="755.0" cy="1764.0" r="1.9" fill="#9c9c9c"/>
<circle cx="805.6" cy="1764.0" r="1.9" fill="#9c9c9c"/>
<polygon points="1151.9,1458.0 1148.3,1457.7 1150.7,1460.7 1147.2,1458.7 1148.1,1462.6 1145.8,1459.2 1144.8,1462.0 1144.3,1459.1 1141.6,1461.9 1143.0,1458.4 1139.3,1459.8 1142.1,1457.3 1138.3,1457.2 1141.9,1456.0 1139.5,1454.6 1142.3,1454.7 1140.9,1452.6 1143.4,1453.7 1142.9,1450.7 1144.8,1453.2 1145.8,1449.7 1146.3,1453.3 1148.5,1451.2 1147.6,1454.0 1150.9,1452.7 1148.5,1455.1 1151.7,1455.3 1148.7,1456.4" fill="#1a1a1a"/>
<polygon points="1149.0,1453.1 1149.6,1454.8 1149.1,1456.9 1147.5,1458.8 1145.4,1460.0 1143.2,1460.2 1141.6,1459.3 1141.0,1457.6 1141.5,1455.5 1143.1,1453.6 1145.2,1452.4 1147.4,1452.2" fill="#f00a0a"/>
<line x1="755.0" y1="1609.2" x2="804.0" y2="1609.2" stroke="#78bb58" stroke-width="1.3" />
<polyline points="799.2,1606.1 804.0,1609.2 799.2,1612.3" fill="none" stroke="#78bb58" stroke-width="1.3"/>
<polyline points="759.8,1606.1 755.0,1609.2 759.8,1612.3" fill="none" stroke="#78bb58" stroke-width="1.3"/>
<line x1="807.0" y1="1531.8" x2="1128.0" y2="1531.8" stroke="#78bb58" stroke-width="1.3" />
<polyline points="1123.2,1528.7 1128.0,1531.8 1123.2,1534.9" fill="none" stroke="#78bb58" stroke-width="1.3"/>
<polyline points="811.8,1528.7 807.0,1531.8 811.8,1534.9" fill="none" stroke="#78bb58" stroke-width="1.3"/>
<line x1="1131.0" y1="1524.0" x2="1147.0" y2="1524.0" stroke="#78bb58" stroke-width="1.3" />
<polyline points="1142.2,1520.9 1147.0,1524.0 1142.2,1527.1" fill="none" stroke="#78bb58" stroke-width="1.3"/>
<polyline points="1135.8,1520.9 1131.0,1524.0 1135.8,1527.1" fill="none" stroke="#78bb58" stroke-width="1.3"/>
<text transform="translate(771.7,1583.0) scale(1,1.08)" font-size="14.4" text-anchor="start" font-weight="bold" font-family='"Liberation Serif", serif' fill="#141414" >first</text>
<text transform="translate(771.7,1599.3) scale(1,1.08)" font-size="14.4" text-anchor="start" font-weight="bold" font-family='"Liberation Serif", serif' fill="#141414" >stage</text>
<text transform="translate(970.0,1520.8) scale(1,1.08)" font-size="14.4" text-anchor="middle" font-weight="bold" font-family='"Liberation Serif", serif' fill="#141414" >second stage</text>
<text transform="translate(1140.0,1502.4) scale(1,1.08)" font-size="14.4" text-anchor="end" font-weight="bold" font-family='"Liberation Serif", serif' fill="#141414" >third</text>
<text transform="translate(1140.0,1518.3) scale(1,1.08)" font-size="14.4" text-anchor="end" font-weight="bold" font-family='"Liberation Serif", serif' fill="#141414" >stage</text>
<text transform="translate(1134.9,1463.8) scale(1,1.08)" font-size="12.6" text-anchor="end" font-weight="bold" font-family='"Liberation Serif", serif' fill="#141414" >failure</text>
<text transform="translate(1134.9,1756.8) scale(1,1.08)" font-size="12.8" text-anchor="end" font-weight="bold" font-family='"Liberation Serif", serif' fill="#141414" ><tspan font-style="italic">σ</tspan>=10.8 MPa</text>
<line x1="758.4" y1="1718.8" x2="786.0" y2="1718.8" stroke="#3a3a3a" stroke-width="1.5" stroke-dasharray="4.5,2.5"/>
<line x1="758.4" y1="1736.8" x2="786.0" y2="1736.8" stroke="#f51a1a" stroke-width="2.4" />
<line x1="758.4" y1="1753.0" x2="786.0" y2="1753.0" stroke="#1a1ae0" stroke-width="2.4" />
<text transform="translate(792.7,1724.1) scale(1,1.08)" font-size="12.6" text-anchor="start" font-weight="bold" font-family='"Liberation Serif", serif' fill="#141414" >stress</text>
<text transform="translate(792.7,1742.1) scale(1,1.08)" font-size="12.6" text-anchor="start" font-weight="bold" font-family='"Liberation Serif", serif' fill="#141414" >radial strain</text>
<text transform="translate(792.7,1758.3) scale(1,1.08)" font-size="12.6" text-anchor="start" font-weight="bold" font-family='"Liberation Serif", serif' fill="#141414" >axial strain</text>
<text transform="translate(762.9,1868.3) scale(1,1.05)" font-size="41" text-anchor="start" font-weight="bold" font-family='"Liberation Sans", sans-serif' fill="#111" >(H)</text>
<text transform="translate(850.5,1869.0) scale(1,1.13)" font-size="34.5" text-anchor="start" font-weight="normal" font-family='"Liberation Serif", serif' fill="#111" >Creep curve of USO-8</text>
<rect x="519.2" y="9.1" width="76.3" height="153.7" fill="#f2f2f2"/>
<rect x="519.2" y="95.0" width="8.8" height="55.0" fill="#dadada"/>
<rect x="519.2" y="140.0" width="76.3" height="22.8" fill="#d4d4d4"/>
<g fill="#444" opacity="0.7"><circle cx="553.7" cy="153.6" r="1.2"/><circle cx="554.7" cy="152.6" r="0.9"/><circle cx="533.3" cy="152.6" r="0.9"/><circle cx="579.7" cy="144.0" r="0.6"/><circle cx="526.1" cy="158.8" r="1.0"/><circle cx="522.4" cy="162.4" r="1.3"/><circle cx="569.1" cy="154.8" r="0.5"/><circle cx="520.3" cy="153.0" r="0.4"/><circle cx="533.7" cy="147.0" r="0.3"/><circle cx="554.6" cy="151.2" r="1.1"/><circle cx="558.8" cy="155.3" r="0.8"/><circle cx="569.7" cy="151.5" r="0.6"/><circle cx="595.3" cy="162.7" r="1.1"/><circle cx="573.2" cy="148.6" r="0.5"/><circle cx="541.3" cy="143.5" r="1.1"/><circle cx="549.8" cy="159.6" r="0.7"/><circle cx="592.3" cy="159.6" r="0.3"/><circle cx="535.2" cy="160.9" r="0.8"/><circle cx="594.0" cy="150.3" r="0.4"/><circle cx="567.2" cy="158.2" r="0.6"/><circle cx="525.8" cy="148.9" r="1.3"/><circle cx="577.0" cy="144.5" r="0.5"/><circle cx="526.9" cy="143.2" r="1.1"/><circle cx="532.8" cy="153.6" r="0.7"/><circle cx="533.7" cy="157.2" r="0.4"/><circle cx="568.3" cy="144.4" r="0.7"/><circle cx="535.4" cy="147.6" r="1.3"/><circle cx="580.5" cy="148.3" r="1.2"/><circle cx="535.3" cy="150.2" r="1.2"/><circle cx="568.2" cy="144.1" r="1.3"/><circle cx="535.5" cy="147.4" r="1.1"/><circle cx="544.3" cy="148.2" r="0.4"/><circle cx="526.1" cy="154.1" r="0.5"/><circle cx="565.1" cy="149.7" r="0.8"/><circle cx="592.4" cy="152.1" r="0.9"/><circle cx="585.3" cy="145.8" r="0.5"/><circle cx="588.5" cy="159.0" r="0.5"/><circle cx="533.7" cy="157.4" r="1.2"/><circle cx="534.2" cy="161.8" r="1.2"/><circle cx="565.2" cy="150.8" r="0.4"/><circle cx="522.2" cy="162.0" r="0.5"/><circle cx="573.0" cy="147.3" r="1.1"/><circle cx="564.7" cy="148.1" r="0.5"/><circle cx="574.2" cy="143.4" r="0.5"/><circle cx="561.9" cy="159.7" r="0.9"/><circle cx="540.6" cy="161.1" r="0.5"/><circle cx="520.5" cy="147.6" r="0.7"/><circle cx="523.8" cy="145.7" r="0.7"/><circle cx="562.9" cy="144.7" r="0.7"/><circle cx="587.2" cy="162.4" r="1.0"/><circle cx="571.9" cy="154.2" r="0.4"/><circle cx="521.9" cy="142.4" r="1.2"/><circle cx="572.7" cy="162.0" r="0.3"/><circle cx="567.7" cy="152.0" r="1.0"/><circle cx="543.5" cy="162.8" r="0.4"/><circle cx="560.9" cy="157.3" r="1.2"/><circle cx="575.4" cy="156.6" r="1.1"/><circle cx="589.0" cy="149.3" r="1.0"/><circle cx="587.9" cy="160.1" r="0.7"/><circle cx="579.5" cy="160.0" r="0.9"/></g>
<polygon points="520.3,13.0 523.3,11.5 557.5,11.0 591.6,11.5 594.6,13.0 594.0,30.0 591.7,60.0 589.5,100.0 588.3,140.0 588.0,150.0 587.4,152.4 585.8,154.8 583.1,156.9 579.4,158.8 575.0,160.4 569.9,161.5 564.5,162.3 558.8,162.5 553.0,162.3 547.6,161.5 542.5,160.4 538.1,158.8 534.4,156.9 531.7,154.8 530.1,152.4 529.5,150.0 529.0,140.0 526.6,100.0 524.0,70.0 521.5,30.0" fill="#262626"/>
<rect x="518.4" y="163.8" width="80.0" height="154.2" fill="#f0f0f0"/>
<rect x="518.4" y="280.0" width="80.0" height="38.0" fill="#d6d6d6"/>
<g fill="#444" opacity="0.7"><circle cx="556.4" cy="308.4" r="1.0"/><circle cx="529.8" cy="290.3" r="0.7"/><circle cx="540.3" cy="312.7" r="1.0"/><circle cx="566.5" cy="305.6" r="1.0"/><circle cx="530.0" cy="302.3" r="0.5"/><circle cx="590.9" cy="291.6" r="1.1"/><circle cx="524.4" cy="309.2" r="0.6"/><circle cx="550.8" cy="313.6" r="0.3"/><circle cx="523.3" cy="315.6" r="0.8"/><circle cx="525.7" cy="317.6" r="1.2"/><circle cx="527.4" cy="301.8" r="0.4"/><circle cx="543.4" cy="307.4" r="0.5"/><circle cx="574.1" cy="291.4" r="0.5"/><circle cx="583.7" cy="301.2" r="0.7"/><circle cx="566.1" cy="303.3" r="0.7"/><circle cx="520.8" cy="310.3" r="1.3"/><circle cx="596.5" cy="308.6" r="0.7"/><circle cx="547.5" cy="309.3" r="1.0"/><circle cx="527.5" cy="296.6" r="0.7"/><circle cx="559.3" cy="312.7" r="0.8"/><circle cx="520.7" cy="313.0" r="0.7"/><circle cx="559.9" cy="296.2" r="0.7"/><circle cx="549.5" cy="311.6" r="0.4"/><circle cx="562.4" cy="295.0" r="1.0"/><circle cx="521.3" cy="297.7" r="0.6"/><circle cx="569.4" cy="291.5" r="0.8"/><circle cx="535.1" cy="297.9" r="0.8"/><circle cx="595.1" cy="303.5" r="1.3"/><circle cx="531.8" cy="315.9" r="0.7"/><circle cx="533.5" cy="311.0" r="1.2"/><circle cx="518.9" cy="297.5" r="1.1"/><circle cx="545.7" cy="296.8" r="0.3"/><circle cx="521.6" cy="307.3" r="1.3"/><circle cx="598.3" cy="304.1" r="0.3"/><circle cx="544.2" cy="312.0" r="1.1"/><circle cx="569.6" cy="296.4" r="0.8"/><circle cx="556.6" cy="307.6" r="0.6"/><circle cx="594.1" cy="315.0" r="0.5"/><circle cx="541.7" cy="314.4" r="0.6"/><circle cx="593.9" cy="304.4" r="1.0"/><circle cx="574.8" cy="296.0" r="0.6"/><circle cx="538.8" cy="309.1" r="1.0"/><circle cx="528.9" cy="314.8" r="0.7"/><circle cx="537.7" cy="302.2" r="1.3"/><circle cx="563.2" cy="307.5" r="1.2"/><circle cx="595.4" cy="311.3" r="0.7"/><circle cx="565.5" cy="315.2" r="1.1"/><circle cx="564.8" cy="299.7" r="0.7"/><circle cx="577.3" cy="305.8" r="0.3"/><circle cx="575.2" cy="315.3" r="1.1"/><circle cx="590.2" cy="315.5" r="0.8"/><circle cx="581.5" cy="300.6" r="0.4"/><circle cx="546.7" cy="298.7" r="1.2"/><circle cx="573.5" cy="305.2" r="0.9"/><circle cx="528.4" cy="305.0" r="1.0"/><circle cx="549.9" cy="296.9" r="0.7"/><circle cx="544.3" cy="309.2" r="0.4"/><circle cx="525.6" cy="298.7" r="1.0"/><circle cx="579.2" cy="308.5" r="1.2"/><circle cx="547.6" cy="290.8" r="0.8"/><circle cx="553.9" cy="295.0" r="1.0"/><circle cx="545.7" cy="296.7" r="0.6"/><circle cx="593.9" cy="290.2" r="0.7"/><circle cx="540.8" cy="295.6" r="0.7"/><circle cx="536.0" cy="315.7" r="0.8"/><circle cx="574.2" cy="294.5" r="0.8"/><circle cx="566.9" cy="313.6" r="0.5"/><circle cx="555.2" cy="313.9" r="1.1"/><circle cx="536.6" cy="305.1" r="1.1"/><circle cx="550.0" cy="308.9" r="1.0"/></g>
<polygon points="519.4,166.1 522.4,164.6 558.4,164.1 594.4,164.6 597.4,166.1 597.0,190.0 595.0,217.5 592.0,250.0 589.3,284.5 587.4,300.0 586.8,302.9 585.2,305.7 582.5,308.2 578.9,310.5 574.5,312.3 569.5,313.7 564.1,314.5 558.5,314.8 552.8,314.5 547.4,313.7 542.4,312.3 538.0,310.5 534.4,308.2 531.7,305.7 530.1,302.9 529.5,300.0 528.5,284.5 526.0,250.0 523.2,217.5 520.5,190.0" fill="#282828"/>
<polygon points="570,223.2 594.5,223.2 594.5,278.3 571,278.3 565.3,272 565.3,229" fill="#1f7fdc"/>
<rect x="571" y="229" width="23.5" height="44" fill="#d6d6d6"/>
<polyline points="572.0,240.0 580.0,238.0 590.0,239.0" stroke="#444" stroke-width="1" fill="none" stroke-linejoin="round" stroke-linecap="round"/>
<text transform="translate(557.7,334.7) scale(1,1.1)" font-size="12.3" text-anchor="middle" font-weight="bold" font-family='"Liberation Serif", serif' fill="#141414" >USO-1</text>
<rect x="1205.5" y="8.1" width="85.3" height="162.4" fill="#eeeeee"/>
<rect x="1205.5" y="120.0" width="85.3" height="50.5" fill="#dcdcdc"/>
<g fill="#444" opacity="0.7"><circle cx="1219.6" cy="162.6" r="0.9"/><circle cx="1246.4" cy="150.5" r="1.1"/><circle cx="1274.4" cy="158.1" r="0.8"/><circle cx="1225.6" cy="145.1" r="0.7"/><circle cx="1255.4" cy="146.8" r="1.1"/><circle cx="1225.3" cy="150.9" r="0.3"/><circle cx="1290.6" cy="163.8" r="1.2"/><circle cx="1258.0" cy="145.9" r="0.6"/><circle cx="1247.9" cy="148.0" r="1.3"/><circle cx="1236.9" cy="148.9" r="1.1"/><circle cx="1216.2" cy="168.7" r="0.8"/><circle cx="1252.6" cy="153.7" r="0.8"/><circle cx="1221.4" cy="145.9" r="1.2"/><circle cx="1225.5" cy="164.9" r="0.5"/><circle cx="1288.1" cy="167.8" r="1.1"/><circle cx="1270.6" cy="159.8" r="1.0"/><circle cx="1215.9" cy="157.1" r="1.1"/><circle cx="1222.7" cy="168.5" r="1.2"/><circle cx="1240.4" cy="154.3" r="0.8"/><circle cx="1238.4" cy="170.4" r="0.7"/><circle cx="1207.8" cy="147.4" r="1.0"/><circle cx="1290.2" cy="157.6" r="0.8"/><circle cx="1252.5" cy="164.1" r="0.5"/><circle cx="1257.4" cy="159.2" r="0.9"/><circle cx="1220.9" cy="149.3" r="0.6"/><circle cx="1284.6" cy="153.8" r="0.9"/><circle cx="1231.7" cy="147.6" r="0.4"/><circle cx="1274.9" cy="164.8" r="0.7"/><circle cx="1263.8" cy="162.2" r="1.2"/><circle cx="1287.2" cy="155.4" r="1.3"/><circle cx="1287.5" cy="160.1" r="1.2"/><circle cx="1247.4" cy="154.6" r="0.5"/><circle cx="1280.2" cy="149.1" r="0.4"/><circle cx="1274.2" cy="164.7" r="0.8"/><circle cx="1276.9" cy="146.3" r="0.6"/><circle cx="1230.2" cy="155.7" r="0.5"/><circle cx="1211.4" cy="153.6" r="1.2"/><circle cx="1289.4" cy="164.0" r="0.8"/><circle cx="1227.0" cy="169.5" r="0.8"/><circle cx="1267.7" cy="145.7" r="0.5"/><circle cx="1277.0" cy="165.3" r="1.2"/><circle cx="1256.8" cy="155.9" r="0.9"/><circle cx="1277.9" cy="152.9" r="0.8"/><circle cx="1229.0" cy="164.6" r="0.3"/><circle cx="1264.0" cy="169.3" r="0.3"/><circle cx="1256.1" cy="161.4" r="1.2"/><circle cx="1255.3" cy="151.6" r="0.7"/><circle cx="1287.3" cy="168.1" r="0.4"/><circle cx="1213.6" cy="147.4" r="0.3"/><circle cx="1243.6" cy="148.6" r="1.2"/><circle cx="1261.4" cy="148.2" r="0.8"/><circle cx="1233.2" cy="157.6" r="0.5"/><circle cx="1219.7" cy="149.7" r="0.7"/><circle cx="1266.1" cy="159.0" r="0.3"/><circle cx="1266.1" cy="167.3" r="1.1"/><circle cx="1272.9" cy="145.2" r="0.8"/><circle cx="1210.9" cy="164.5" r="0.5"/><circle cx="1266.2" cy="151.4" r="1.0"/><circle cx="1232.3" cy="146.1" r="0.7"/><circle cx="1231.9" cy="168.0" r="0.6"/><circle cx="1248.4" cy="159.0" r="1.2"/><circle cx="1213.9" cy="160.3" r="0.8"/><circle cx="1268.2" cy="169.7" r="0.6"/><circle cx="1265.2" cy="158.4" r="0.9"/><circle cx="1210.9" cy="165.8" r="1.3"/><circle cx="1235.8" cy="153.1" r="1.3"/><circle cx="1214.7" cy="146.9" r="0.4"/><circle cx="1275.0" cy="164.4" r="0.7"/><circle cx="1258.5" cy="145.5" r="0.9"/><circle cx="1243.3" cy="158.2" r="0.7"/></g>
<polygon points="1206.5,12.5 1258.7,11.5 1261.0,20.0 1263.0,12.0 1280.7,12.0 1281.0,30.0 1279.3,33.5 1289.3,40.0 1287.0,50.0 1285.0,62.0 1283.0,100.0 1281.7,139.0 1279.3,157.0 1265.0,166.0 1248.6,168.6 1232.0,167.0 1219.0,155.0 1215.6,134.0 1211.8,95.8 1208.0,50.0" fill="#2a2a2a"/>
<polyline points="1261.0,12.5 1255.0,30.0 1248.6,47.9 1238.1,76.6 1228.5,105.4 1217.0,143.7 1214.0,150.0" stroke="#060606" stroke-width="4" fill="none" stroke-linejoin="round" stroke-linecap="round"/>
<path d="M1208.0,56.5 C1213.8,57.0 1230.0,58.3 1242.9,59.4 C1255.8,60.5 1278.4,62.6 1285.5,63.2" stroke="#c4a231" stroke-width="2.8" fill="none" stroke-linecap="round"/>
<rect x="1205.1" y="170.3" width="90.0" height="161.8" fill="#f0f0f0"/>
<rect x="1205.1" y="280.0" width="90.0" height="52.1" fill="#dadada"/>
<g fill="#444" opacity="0.7"><circle cx="1291.3" cy="304.5" r="0.3"/><circle cx="1295.0" cy="305.9" r="0.4"/><circle cx="1263.7" cy="311.1" r="1.2"/><circle cx="1226.0" cy="330.8" r="0.6"/><circle cx="1259.2" cy="329.9" r="1.0"/><circle cx="1288.2" cy="322.7" r="0.3"/><circle cx="1284.4" cy="318.9" r="0.6"/><circle cx="1222.2" cy="327.3" r="0.9"/><circle cx="1289.5" cy="324.8" r="1.3"/><circle cx="1256.1" cy="322.4" r="0.9"/><circle cx="1228.4" cy="330.7" r="0.6"/><circle cx="1275.4" cy="330.6" r="1.0"/><circle cx="1217.9" cy="326.5" r="1.0"/><circle cx="1221.8" cy="301.6" r="0.8"/><circle cx="1208.0" cy="329.7" r="0.8"/><circle cx="1251.7" cy="313.1" r="1.0"/><circle cx="1287.6" cy="309.9" r="0.7"/><circle cx="1257.5" cy="309.5" r="0.9"/><circle cx="1254.0" cy="313.9" r="1.0"/><circle cx="1252.6" cy="302.8" r="1.3"/><circle cx="1237.1" cy="313.9" r="0.7"/><circle cx="1288.8" cy="330.6" r="0.8"/><circle cx="1241.2" cy="303.1" r="1.2"/><circle cx="1220.5" cy="317.5" r="0.6"/><circle cx="1234.6" cy="311.5" r="0.5"/><circle cx="1208.4" cy="317.2" r="1.1"/><circle cx="1263.3" cy="306.5" r="1.0"/><circle cx="1209.8" cy="313.2" r="1.1"/><circle cx="1288.0" cy="314.8" r="1.1"/><circle cx="1250.0" cy="316.8" r="0.9"/><circle cx="1294.3" cy="323.9" r="0.8"/><circle cx="1270.6" cy="320.6" r="0.7"/><circle cx="1275.7" cy="326.3" r="0.9"/><circle cx="1289.9" cy="300.6" r="0.8"/><circle cx="1262.2" cy="310.9" r="0.5"/><circle cx="1267.4" cy="313.9" r="0.6"/><circle cx="1208.9" cy="331.0" r="0.7"/><circle cx="1215.7" cy="306.9" r="0.6"/><circle cx="1283.1" cy="305.8" r="0.6"/><circle cx="1213.9" cy="315.1" r="0.5"/><circle cx="1236.1" cy="323.6" r="1.2"/><circle cx="1280.2" cy="301.2" r="0.7"/><circle cx="1281.5" cy="301.1" r="0.5"/><circle cx="1249.2" cy="312.3" r="1.1"/><circle cx="1269.7" cy="314.9" r="0.5"/><circle cx="1225.9" cy="308.5" r="0.4"/><circle cx="1265.0" cy="305.1" r="1.2"/><circle cx="1263.2" cy="301.8" r="0.8"/><circle cx="1259.4" cy="301.4" r="0.8"/><circle cx="1207.8" cy="324.6" r="0.3"/><circle cx="1262.0" cy="331.6" r="1.1"/><circle cx="1226.1" cy="317.2" r="0.4"/><circle cx="1235.9" cy="327.7" r="1.1"/><circle cx="1205.9" cy="312.2" r="0.9"/><circle cx="1220.9" cy="325.8" r="1.2"/><circle cx="1254.7" cy="311.6" r="1.1"/><circle cx="1251.3" cy="306.0" r="0.6"/><circle cx="1219.4" cy="326.9" r="0.8"/><circle cx="1267.8" cy="326.2" r="1.3"/><circle cx="1222.2" cy="313.0" r="1.2"/><circle cx="1273.7" cy="312.4" r="1.0"/><circle cx="1222.6" cy="305.2" r="0.4"/><circle cx="1239.3" cy="307.6" r="0.8"/><circle cx="1292.4" cy="304.9" r="0.9"/><circle cx="1282.9" cy="319.2" r="0.8"/><circle cx="1274.2" cy="300.7" r="1.2"/><circle cx="1266.9" cy="325.9" r="1.1"/><circle cx="1214.0" cy="302.1" r="0.5"/><circle cx="1250.5" cy="330.1" r="1.2"/><circle cx="1242.2" cy="320.0" r="1.0"/><circle cx="1235.0" cy="331.2" r="1.2"/><circle cx="1270.5" cy="328.9" r="1.1"/><circle cx="1263.8" cy="310.3" r="0.6"/><circle cx="1226.6" cy="301.8" r="1.2"/><circle cx="1232.0" cy="300.8" r="0.6"/><circle cx="1214.4" cy="314.3" r="0.6"/><circle cx="1220.9" cy="315.3" r="0.7"/><circle cx="1237.0" cy="326.1" r="0.6"/><circle cx="1253.8" cy="328.2" r="1.3"/><circle cx="1238.8" cy="301.3" r="1.3"/></g>
<polygon points="1206.0,175.1 1209.0,173.6 1248.7,173.1 1288.3,173.6 1291.3,175.1 1291.8,190.0 1291.7,222.5 1290.8,250.0 1289.8,280.0 1288.4,310.0 1287.0,318.3 1286.4,316.8 1284.6,320.0 1281.6,322.9 1277.6,325.5 1272.7,327.6 1267.2,329.2 1261.2,330.2 1254.9,330.5 1248.6,330.2 1242.6,329.2 1237.1,327.6 1232.2,325.5 1228.2,322.9 1225.2,320.0 1223.4,316.8 1222.8,308.7 1218.0,280.0 1214.0,250.0 1210.8,222.5 1208.0,190.0" fill="#303030"/>
<polyline points="1274.5,173.6 1262.0,212.9 1254.4,236.8 1242.9,270.4 1231.4,294.3 1225.7,314.4" stroke="#060606" stroke-width="4.5" fill="none" stroke-linejoin="round" stroke-linecap="round"/>
<path d="M1209.4,222.0 C1216.6,222.2 1238.7,223.3 1252.5,223.4 C1266.3,223.5 1285.6,222.7 1292.2,222.5" stroke="#c4a231" stroke-width="3.5" fill="none" stroke-linecap="round"/>
<text transform="translate(1251.0,348.0) scale(1,1.1)" font-size="12.3" text-anchor="middle" font-weight="bold" font-family='"Liberation Serif", serif' fill="#141414" >USO-2</text>
<rect x="521.8" y="494.1" width="71.8" height="153.7" fill="#cbc7c7"/>
<polygon points="522.7,497.5 525.7,496.0 557.5,495.5 589.2,496.0 592.2,497.5 591.2,542.5 589.3,609.5 586.9,633.5 586.3,636.4 584.6,639.2 581.8,641.8 578.0,644.1 573.4,646.0 568.1,647.4 562.4,648.2 556.5,648.5 550.5,648.2 544.8,647.4 539.5,646.0 534.9,644.1 531.1,641.8 528.3,639.2 526.6,636.4 526.0,633.5 524.6,609.5 523.7,542.5" fill="#1c1c1c"/>
<polygon points="524.6,551.6 550.2,551.6 557.2,558.6 557.2,599.2 550.2,606.2 524.6,606.2" fill="#1f7fdc"/>
<rect x="525.1" y="556.4" width="27.3" height="45.0" fill="#a29c9a"/>
<polyline points="555.0,606.0 551.0,620.0 548.0,645.0" stroke="#3a3a3a" stroke-width="1" fill="none" stroke-linejoin="round" stroke-linecap="round"/>
<rect x="521.8" y="648.1" width="71.8" height="154.7" fill="#cbcbcb"/>
<polygon points="522.7,651.1 525.7,649.6 557.7,649.1 589.6,649.6 592.6,651.1 590.7,720.0 586.4,770.0 584.5,790.0 583.9,792.6 582.2,795.2 579.5,797.5 575.8,799.5 571.3,801.2 566.1,802.5 560.6,803.2 554.8,803.5 548.9,803.2 543.4,802.5 538.2,801.2 533.7,799.5 530.0,797.5 527.3,795.2 525.6,792.6 525.0,790.0 524.6,780.0 524.2,720.0" fill="#161616"/>
<polyline points="560.0,700.0 552.0,730.0 548.0,760.0 543.0,790.0 545.0,802.0" stroke="#3a3a3a" stroke-width="1" fill="none" stroke-linejoin="round" stroke-linecap="round"/>
<text transform="translate(557.7,819.0) scale(1,1.1)" font-size="12.3" text-anchor="middle" font-weight="bold" font-family='"Liberation Serif", serif' fill="#141414" >USO-3</text>
<rect x="1203.9" y="494.1" width="77.1" height="157.6" fill="#f2f2f2"/>
<rect x="1203.9" y="625.0" width="77.1" height="26.7" fill="#dedede"/>
<g fill="#444" opacity="0.7"><circle cx="1233.3" cy="635.0" r="0.5"/><circle cx="1274.4" cy="642.5" r="1.0"/><circle cx="1246.5" cy="638.3" r="1.0"/><circle cx="1248.3" cy="647.0" r="1.0"/><circle cx="1268.6" cy="639.5" r="0.5"/><circle cx="1215.5" cy="645.7" r="0.5"/><circle cx="1254.4" cy="643.5" r="0.4"/><circle cx="1264.4" cy="630.7" r="1.2"/><circle cx="1268.7" cy="634.7" r="1.0"/><circle cx="1260.4" cy="632.7" r="1.0"/><circle cx="1213.4" cy="649.8" r="1.0"/><circle cx="1279.5" cy="631.2" r="0.6"/><circle cx="1251.7" cy="643.2" r="0.5"/><circle cx="1272.3" cy="648.4" r="0.6"/><circle cx="1215.1" cy="644.5" r="0.7"/><circle cx="1255.0" cy="640.7" r="0.7"/><circle cx="1205.6" cy="632.9" r="0.8"/><circle cx="1260.0" cy="639.2" r="1.0"/><circle cx="1245.5" cy="649.1" r="1.0"/><circle cx="1228.7" cy="633.0" r="0.4"/><circle cx="1207.0" cy="648.7" r="1.2"/><circle cx="1261.8" cy="632.4" r="1.0"/><circle cx="1213.7" cy="649.3" r="1.0"/><circle cx="1261.7" cy="643.2" r="0.7"/><circle cx="1269.3" cy="650.9" r="0.5"/><circle cx="1237.6" cy="645.9" r="1.0"/><circle cx="1235.6" cy="639.8" r="1.3"/><circle cx="1225.2" cy="634.6" r="1.0"/><circle cx="1225.3" cy="649.5" r="0.6"/><circle cx="1275.2" cy="638.2" r="1.2"/><circle cx="1261.8" cy="645.9" r="0.5"/><circle cx="1216.6" cy="630.7" r="0.5"/><circle cx="1255.3" cy="631.4" r="0.5"/><circle cx="1247.6" cy="633.4" r="0.6"/><circle cx="1221.5" cy="644.7" r="0.4"/><circle cx="1280.8" cy="643.0" r="1.0"/><circle cx="1246.5" cy="640.8" r="1.3"/><circle cx="1272.8" cy="647.8" r="0.3"/><circle cx="1249.4" cy="650.4" r="0.9"/><circle cx="1243.5" cy="644.1" r="0.5"/></g>
<polygon points="1204.8,497.5 1207.8,496.0 1242.2,495.5 1276.6,496.0 1279.6,497.5 1279.6,520.0 1279.6,542.5 1277.6,609.5 1276.2,628.7 1274.3,638.3 1273.7,636.6 1271.9,639.6 1268.9,642.4 1265.0,644.8 1260.1,646.8 1254.6,648.3 1248.7,649.2 1242.4,649.5 1236.2,649.2 1230.3,648.3 1224.8,646.8 1219.9,644.8 1216.0,642.4 1213.0,639.6 1211.2,636.6 1210.6,628.7 1208.2,609.5 1206.3,542.5 1205.5,520.0" fill="#2a2a2a"/>
<polyline points="1210.6,539.6 1214.9,534.8 1226.4,533.9 1236.9,525.2 1243.6,527.1 1249.4,523.3 1273.3,522.8" stroke="#060606" stroke-width="1.8" fill="none" stroke-linejoin="round" stroke-linecap="round"/>
<path d="M1204.8,544.9 C1210.0,546.2 1223.5,551.8 1236.0,553.0 C1248.5,554.2 1272.7,552.2 1280.0,552.0" stroke="#c4a231" stroke-width="3.2" fill="none" stroke-linecap="round"/>
<polygon points="1214.2,560.2 1269.7,560.2 1275.7,566.2 1275.7,609.7 1269.7,615.7 1214.2,615.7 1208.2,609.7 1208.2,566.2" fill="#1f7fdc"/>
<rect x="1213.2" y="565.2" width="57.5" height="45.5" fill="#c2bebb"/>
<polyline points="1214.0,568.0 1218.0,585.0 1222.0,600.0 1227.0,615.0 1229.0,622.0" stroke="#111" stroke-width="1.6" fill="none" stroke-linejoin="round" stroke-linecap="round"/>
<path d="M1208.7,619.1 C1209.7,620.7 1210.0,626.2 1214.9,628.7 C1219.8,631.2 1227.4,635.5 1237.9,634.4 C1248.4,633.3 1271.4,624.1 1278.1,622.0" stroke="#c4a231" stroke-width="3.2" fill="none" stroke-linecap="round"/>
<rect x="1200.1" y="652.7" width="86.6" height="159.9" fill="#f0f0f0"/>
<rect x="1200.1" y="790.0" width="86.6" height="22.6" fill="#dcdcdc"/>
<g fill="#444" opacity="0.7"><circle cx="1255.5" cy="790.6" r="0.6"/><circle cx="1219.4" cy="806.6" r="1.0"/><circle cx="1277.4" cy="792.0" r="0.7"/><circle cx="1202.7" cy="794.9" r="0.8"/><circle cx="1202.4" cy="794.5" r="0.9"/><circle cx="1247.3" cy="795.0" r="0.9"/><circle cx="1270.2" cy="790.1" r="1.1"/><circle cx="1260.6" cy="797.7" r="0.5"/><circle cx="1283.0" cy="797.6" r="0.4"/><circle cx="1208.5" cy="809.2" r="0.9"/><circle cx="1270.0" cy="806.5" r="0.8"/><circle cx="1284.4" cy="798.6" r="0.9"/><circle cx="1271.9" cy="804.0" r="1.2"/><circle cx="1250.1" cy="805.9" r="0.3"/><circle cx="1219.8" cy="796.5" r="0.4"/><circle cx="1220.3" cy="792.3" r="0.6"/><circle cx="1255.2" cy="798.2" r="0.7"/><circle cx="1218.2" cy="796.0" r="1.2"/><circle cx="1256.2" cy="803.8" r="0.5"/><circle cx="1263.2" cy="793.7" r="0.7"/><circle cx="1285.8" cy="804.5" r="0.9"/><circle cx="1259.4" cy="809.0" r="1.1"/><circle cx="1219.9" cy="790.7" r="0.6"/><circle cx="1223.3" cy="794.8" r="1.2"/><circle cx="1276.0" cy="797.1" r="1.0"/><circle cx="1234.4" cy="810.7" r="0.8"/><circle cx="1223.0" cy="795.6" r="0.9"/><circle cx="1222.9" cy="803.2" r="1.2"/><circle cx="1234.7" cy="795.0" r="1.3"/><circle cx="1244.2" cy="792.1" r="0.3"/><circle cx="1209.6" cy="804.2" r="1.1"/><circle cx="1236.7" cy="791.4" r="0.7"/><circle cx="1286.4" cy="802.0" r="1.3"/><circle cx="1274.6" cy="790.3" r="1.0"/><circle cx="1259.1" cy="802.1" r="0.6"/><circle cx="1255.6" cy="792.5" r="0.7"/><circle cx="1239.4" cy="811.6" r="1.2"/><circle cx="1222.9" cy="801.3" r="0.5"/><circle cx="1279.1" cy="809.7" r="0.6"/><circle cx="1255.4" cy="803.8" r="0.5"/><circle cx="1266.1" cy="802.2" r="1.1"/><circle cx="1246.0" cy="790.0" r="0.6"/><circle cx="1201.8" cy="811.0" r="1.2"/><circle cx="1272.1" cy="796.9" r="0.4"/><circle cx="1276.1" cy="811.4" r="0.4"/><circle cx="1242.2" cy="791.6" r="1.1"/><circle cx="1266.4" cy="792.9" r="0.8"/><circle cx="1247.7" cy="796.0" r="1.2"/><circle cx="1236.7" cy="794.8" r="0.8"/><circle cx="1263.3" cy="794.5" r="0.6"/></g>
<polygon points="1202.5,657.0 1205.5,655.5 1243.7,655.0 1281.8,655.5 1284.8,657.0 1284.8,660.0 1281.0,700.0 1278.6,760.0 1276.7,790.0 1274.3,800.2 1273.7,797.9 1271.7,800.6 1268.6,803.1 1264.4,805.3 1259.3,807.1 1253.5,808.4 1247.1,809.2 1240.5,809.5 1234.0,809.2 1227.6,808.4 1221.8,807.1 1216.7,805.3 1212.5,803.1 1209.4,800.6 1207.4,797.9 1206.8,790.0 1204.8,760.0 1203.9,700.0" fill="#303030"/>
<rect x="1203.2" y="715.9" width="3" height="44" fill="#2a78c8"/>
<polyline points="1276.2,657.5 1268.5,683.3 1260.9,707.3 1252.3,736.0 1243.6,764.7 1235.0,788.7 1226.4,807.8" stroke="#060606" stroke-width="2" fill="none" stroke-linejoin="round" stroke-linecap="round"/>
<polyline points="1203.4,682.4 1213.9,690.0 1228.3,700.6 1232.1,712.0 1231.2,736.0 1224.5,755.2 1214.9,779.1 1209.2,793.5" stroke="#060606" stroke-width="2" fill="none" stroke-linejoin="round" stroke-linecap="round"/>
<polyline points="1278.1,721.6 1271.4,750.4 1263.8,774.3 1257.0,793.5 1249.4,807.8" stroke="#060606" stroke-width="1.5" fill="none" stroke-linejoin="round" stroke-linecap="round"/>
<polyline points="1228.3,769.5 1226.4,798.3" stroke="#060606" stroke-width="3" fill="none" stroke-linejoin="round" stroke-linecap="round"/>
<path d="M1201.5,708.2 C1207.6,709.5 1224.5,715.4 1237.9,715.9 C1251.3,716.4 1274.7,711.9 1282.0,711.1" stroke="#c4a231" stroke-width="3.2" fill="none" stroke-linecap="round"/>
<path d="M1202.0,775.3 C1203.2,776.7 1204.0,781.5 1209.2,783.9 C1214.4,786.3 1225.1,789.1 1233.1,789.6 C1241.1,790.1 1249.5,789.7 1257.0,786.8 C1264.5,783.9 1274.6,774.8 1278.1,772.4" stroke="#c4a231" stroke-width="3.2" fill="none" stroke-linecap="round"/>
<text transform="translate(1245.2,828.2) scale(1,1.1)" font-size="12.3" text-anchor="middle" font-weight="bold" font-family='"Liberation Serif", serif' fill="#141414" >USO-4</text>
<rect x="517.9" y="977.5" width="84.8" height="157.5" fill="#e6e6e6"/>
<rect x="517.9" y="977.5" width="84.8" height="12.5" fill="#f6f6f6"/>
<g fill="#444" opacity="0.7"><circle cx="538.6" cy="1122.6" r="0.5"/><circle cx="587.5" cy="1115.8" r="0.9"/><circle cx="596.5" cy="1119.9" r="1.3"/><circle cx="579.9" cy="1123.7" r="0.9"/><circle cx="567.6" cy="1119.0" r="1.3"/><circle cx="552.2" cy="1134.6" r="1.2"/><circle cx="520.3" cy="1116.5" r="0.8"/><circle cx="587.0" cy="1114.4" r="0.9"/><circle cx="549.0" cy="1129.6" r="1.2"/><circle cx="582.5" cy="1114.8" r="1.1"/><circle cx="555.1" cy="1130.9" r="0.8"/><circle cx="594.8" cy="1134.7" r="1.1"/><circle cx="588.0" cy="1130.5" r="0.9"/><circle cx="532.7" cy="1134.7" r="0.8"/><circle cx="519.3" cy="1120.9" r="0.7"/><circle cx="534.9" cy="1134.0" r="0.4"/><circle cx="594.6" cy="1123.7" r="0.5"/><circle cx="548.3" cy="1121.3" r="0.4"/><circle cx="582.6" cy="1126.3" r="1.3"/><circle cx="588.3" cy="1129.6" r="1.3"/><circle cx="596.9" cy="1126.1" r="0.8"/><circle cx="562.3" cy="1130.3" r="1.2"/><circle cx="588.3" cy="1131.0" r="0.3"/><circle cx="553.6" cy="1112.2" r="0.9"/><circle cx="567.1" cy="1124.0" r="1.2"/><circle cx="537.0" cy="1128.2" r="0.9"/><circle cx="536.0" cy="1134.5" r="0.4"/><circle cx="557.3" cy="1123.4" r="0.9"/><circle cx="601.2" cy="1123.8" r="1.2"/><circle cx="542.9" cy="1122.0" r="0.4"/><circle cx="572.1" cy="1120.6" r="1.1"/><circle cx="527.4" cy="1121.6" r="1.3"/><circle cx="518.9" cy="1126.5" r="1.0"/><circle cx="579.5" cy="1123.9" r="0.8"/><circle cx="599.3" cy="1117.1" r="1.0"/><circle cx="574.6" cy="1128.2" r="0.8"/><circle cx="519.3" cy="1129.4" r="0.6"/><circle cx="584.2" cy="1134.7" r="1.1"/><circle cx="552.1" cy="1131.4" r="0.7"/><circle cx="545.0" cy="1124.3" r="1.0"/></g>
<polygon points="520.3,980.9 523.3,979.4 558.6,978.9 594.0,979.4 597.0,980.9 595.0,1000.0 599.8,1040.0 596.0,1060.0 594.1,1100.0 591.2,1120.0 589.3,1127.8 588.7,1129.1 587.0,1130.4 584.3,1131.5 580.6,1132.5 576.1,1133.4 571.0,1134.0 565.4,1134.4 559.6,1134.5 553.8,1134.4 548.2,1134.0 543.1,1133.4 538.6,1132.5 534.9,1131.5 532.2,1130.4 530.5,1129.1 529.9,1127.8 527.0,1108.7 525.6,1089.5 522.2,1041.6 520.3,1018.6 525.6,1008.1 524.2,993.7" fill="#262626"/>
<polygon points="522.2,1037.3 540.2,1037.3 545.2,1042.3 545.2,1087.4 540.2,1092.4 522.2,1092.4" fill="#1f7fdc"/>
<rect x="522.7" y="1041.8" width="18.0" height="46.1" fill="#c8c4c2"/>
<path d="M520.3,1035.4 C527.3,1035.6 549.2,1037.9 562.5,1036.4 C575.8,1034.9 593.6,1028.0 599.8,1026.3" stroke="#c4a231" stroke-width="3" fill="none" stroke-linecap="round"/>
<path d="M522.7,1060.8 C523.8,1062.5 522.4,1068.6 529.0,1071.3 C535.6,1074.0 551.4,1077.2 562.5,1077.1 C573.6,1076.9 590.0,1071.5 595.5,1070.4" stroke="#c4a231" stroke-width="3" fill="none" stroke-linecap="round"/>
<path d="M526.6,1101.0 C527.8,1102.9 527.7,1110.0 533.7,1112.5 C539.7,1115.0 554.5,1116.6 562.5,1116.3 C570.5,1116.0 576.2,1114.3 581.6,1110.6 C587.0,1106.9 592.4,1097.0 594.6,1094.3" stroke="#c4a231" stroke-width="3" fill="none" stroke-linecap="round"/>
<rect x="520.8" y="1136.5" width="80.0" height="159.0" fill="#e4e4e4"/>
<g fill="#444" opacity="0.7"><circle cx="599.1" cy="1271.4" r="1.0"/><circle cx="559.5" cy="1294.0" r="0.7"/><circle cx="594.3" cy="1274.1" r="1.3"/><circle cx="553.8" cy="1274.7" r="0.6"/><circle cx="571.3" cy="1270.9" r="0.7"/><circle cx="521.7" cy="1271.8" r="0.5"/><circle cx="539.3" cy="1277.0" r="1.1"/><circle cx="554.1" cy="1291.9" r="1.2"/><circle cx="592.4" cy="1294.2" r="0.9"/><circle cx="574.5" cy="1292.5" r="0.8"/><circle cx="532.2" cy="1283.3" r="0.8"/><circle cx="535.2" cy="1272.4" r="0.5"/><circle cx="576.6" cy="1290.7" r="1.0"/><circle cx="554.9" cy="1270.7" r="0.3"/><circle cx="573.2" cy="1283.5" r="0.8"/><circle cx="534.5" cy="1273.1" r="0.5"/><circle cx="531.1" cy="1285.3" r="0.6"/><circle cx="565.2" cy="1280.9" r="0.8"/><circle cx="580.3" cy="1289.9" r="0.4"/><circle cx="597.6" cy="1291.8" r="1.1"/><circle cx="557.0" cy="1294.3" r="1.1"/><circle cx="539.9" cy="1287.5" r="1.1"/><circle cx="581.0" cy="1292.9" r="0.8"/><circle cx="574.5" cy="1271.9" r="1.0"/><circle cx="532.5" cy="1288.5" r="1.2"/><circle cx="550.5" cy="1271.8" r="0.3"/><circle cx="562.1" cy="1274.0" r="1.0"/><circle cx="569.6" cy="1282.8" r="1.0"/><circle cx="532.9" cy="1281.7" r="0.3"/><circle cx="564.6" cy="1290.2" r="0.5"/><circle cx="575.9" cy="1295.3" r="0.6"/><circle cx="537.5" cy="1276.4" r="1.1"/><circle cx="527.2" cy="1289.8" r="0.6"/><circle cx="581.3" cy="1292.6" r="1.1"/><circle cx="536.2" cy="1284.0" r="0.6"/><circle cx="590.8" cy="1277.5" r="0.5"/><circle cx="553.3" cy="1272.2" r="0.5"/><circle cx="577.0" cy="1278.3" r="0.5"/><circle cx="595.6" cy="1276.7" r="1.1"/><circle cx="575.5" cy="1284.2" r="0.9"/></g>
<polygon points="522.2,1139.9 525.2,1138.4 559.1,1137.9 593.0,1138.4 596.0,1139.9 599.3,1172.9 599.8,1192.0 599.3,1230.0 598.4,1260.0 596.0,1283.0 595.4,1279.5 593.7,1283.0 590.8,1286.2 587.0,1289.0 582.4,1291.4 577.1,1293.1 571.3,1294.1 565.4,1294.5 559.4,1294.1 553.6,1293.1 548.3,1291.4 543.7,1289.0 539.9,1286.2 537.0,1283.0 535.3,1279.5 534.7,1268.7 530.9,1259.1 525.6,1230.4 523.2,1192.0" fill="#252525"/>
<polygon points="577.0,1195.9 594.3,1195.9 599.3,1200.9 599.3,1243.6 594.3,1248.6 577.0,1248.6 572.0,1243.6 572.0,1200.9" fill="#1f7fdc"/>
<rect x="576.5" y="1200.4" width="18.3" height="43.7" fill="#d4d2d0"/>
<path d="M522.7,1193.0 C528.5,1194.3 544.9,1201.2 557.7,1200.7 C570.6,1200.2 592.8,1191.9 599.8,1190.1" stroke="#c4a231" stroke-width="3" fill="none" stroke-linecap="round"/>
<path d="M525.6,1230.4 C530.1,1231.2 540.5,1236.8 552.9,1235.2 C565.3,1233.6 592.0,1223.2 599.8,1220.8" stroke="#c4a231" stroke-width="3" fill="none" stroke-linecap="round"/>
<path d="M530.4,1255.3 C531.4,1257.0 531.2,1262.9 536.6,1265.8 C542.0,1268.7 552.1,1273.0 562.5,1272.5 C572.9,1272.0 592.8,1264.5 598.9,1262.9" stroke="#c4a231" stroke-width="3" fill="none" stroke-linecap="round"/>
<text transform="translate(565.3,1316.5) scale(1,1.1)" font-size="12.3" text-anchor="middle" font-weight="bold" font-family='"Liberation Serif", serif' fill="#141414" >USO-5</text>
<defs><linearGradient id="gF" x1="0" y1="0" x2="0" y2="1"><stop offset="0" stop-color="#333337"/><stop offset="0.55" stop-color="#3a3a3f"/><stop offset="1" stop-color="#4c4c52"/></linearGradient></defs>
<polygon points="1207.5,980.5 1276.9,980.5 1277.4,998.7 1279.3,1040.0 1281.2,1100.0 1279.3,1120.0 1278.3,1128.0 1225.0,1128.0 1223.7,1123.3 1225.7,1108.9 1220.9,1084.9 1219.0,1041.8 1215.1,1022.7 1209.4,998.7" fill="url(#gF)"/>
<polyline points="1262.0,997.8 1251.5,1006.4 1250.6,1027.5 1253.4,1056.2 1252.5,1094.5" stroke="#060606" stroke-width="1.5" fill="none" stroke-linejoin="round" stroke-linecap="round"/>
<polyline points="1242.9,1051.4 1242.9,1094.5 1245.8,1125.2" stroke="#060606" stroke-width="1.5" fill="none" stroke-linejoin="round" stroke-linecap="round"/>
<polyline points="1257.3,1070.6 1264.0,1104.1" stroke="#060606" stroke-width="1.5" fill="none" stroke-linejoin="round" stroke-linecap="round"/>
<path d="M1218.5,1043.8 C1223.5,1044.4 1238.5,1047.6 1248.6,1047.6 C1258.7,1047.6 1274.2,1044.4 1279.3,1043.8" stroke="#d6b43a" stroke-width="3" fill="none" stroke-linecap="round"/>
<path d="M1225.7,1106.0 C1228.6,1106.8 1233.7,1112.9 1242.9,1110.8 C1252.2,1108.7 1274.8,1096.5 1281.2,1093.6" stroke="#e0c040" stroke-width="3" fill="none" stroke-linecap="round"/>
<polygon points="1208.9,1134.2 1211.9,1132.7 1245.6,1132.2 1279.2,1132.7 1282.2,1134.2 1283.6,1182.5 1283.1,1230.4 1282.6,1259.1 1279.3,1278.3 1273.5,1287.8 1273.0,1284.7 1271.4,1286.3 1268.8,1287.7 1265.4,1289.0 1261.2,1290.1 1256.4,1290.9 1251.2,1291.3 1245.8,1291.5 1240.3,1291.3 1235.1,1290.9 1230.3,1290.1 1226.1,1289.0 1222.7,1287.7 1220.1,1286.3 1218.5,1284.7 1218.0,1278.3 1213.7,1259.1 1212.7,1230.4 1210.8,1182.5" fill="#2b2b2f"/>
<polygon points="1268.0,1193.5 1280.6,1193.5 1284.6,1197.5 1284.6,1228.3 1280.6,1232.3 1268.0,1232.3 1264.0,1228.3 1264.0,1197.5" fill="#1f7fdc"/>
<rect x="1267.0" y="1196.5" width="14.6" height="32.8" fill="#f2eeee"/>
<path d="M1208.9,1193.0 C1212.2,1194.6 1220.4,1201.2 1228.5,1202.6 C1236.6,1204.0 1247.9,1204.5 1257.3,1201.6 C1266.7,1198.7 1280.4,1188.0 1285.0,1185.3" stroke="#c9a030" stroke-width="3" fill="none" stroke-linecap="round"/>
<path d="M1213.7,1257.2 C1214.6,1258.3 1213.3,1262.0 1219.0,1263.9 C1224.7,1265.8 1237.2,1270.1 1247.7,1268.7 C1258.2,1267.3 1276.5,1257.5 1282.2,1255.3" stroke="#d6aa30" stroke-width="3" fill="none" stroke-linecap="round"/>
<text transform="translate(1253.2,1318.3) scale(1,1.1)" font-size="12.3" text-anchor="middle" font-weight="bold" font-family='"Liberation Serif", serif' fill="#141414" >USO-6</text>
<polygon points="521.3,1463.9 602.7,1463.9 601.7,1478.7 600.8,1497.9 600.8,1545.8 598.4,1565.0 597.0,1593.7 594.1,1609.0 580.0,1616.7 560.0,1614.0 540.0,1616.7 527.0,1611.0 525.1,1593.7 523.7,1565.0 525.6,1545.8 526.6,1521.8 534.7,1517.0 529.0,1497.9 524.2,1478.7" fill="#2e2e2e"/>
<polyline points="589.3,1469.2 583.5,1488.3 586.4,1517.0 578.8,1560.2 581.6,1593.7" stroke="#060606" stroke-width="1.8" fill="none" stroke-linejoin="round" stroke-linecap="round"/>
<polyline points="537.6,1526.6 543.3,1560.2 545.2,1603.3" stroke="#060606" stroke-width="1.6" fill="none" stroke-linejoin="round" stroke-linecap="round"/>
<polyline points="593.1,1545.8 596.0,1574.5" stroke="#060606" stroke-width="1.6" fill="none" stroke-linejoin="round" stroke-linecap="round"/>
<polygon points="569.3,1527.6 596.8,1527.6 599.8,1530.6 599.8,1556.2 596.8,1559.2 569.3,1559.2 566.3,1556.2 566.3,1530.6" fill="#1f7fdc"/>
<rect x="569.3" y="1530.6" width="27.5" height="25.6" fill="#f4f2f2"/>
<path d="M583,1530 L590,1528 L588,1545 L584,1552 Z" fill="#222"/>
<path d="M528.5,1496.9 C534.2,1497.5 550.0,1501.1 562.5,1500.3 C575.0,1499.5 596.8,1493.5 603.7,1492.1" stroke="#d4a430" stroke-width="3" fill="none" stroke-linecap="round"/>
<path d="M534.7,1523.8 C537.7,1524.6 546.7,1527.1 552.9,1528.5 C559.1,1529.9 563.9,1533.0 572.0,1532.4 C580.1,1531.8 596.8,1526.0 601.7,1524.7" stroke="#d4a430" stroke-width="3" fill="none" stroke-linecap="round"/>
<path d="M523.2,1563.0 C524.3,1564.8 524.1,1570.7 529.9,1573.6 C535.6,1576.5 546.3,1580.8 557.7,1580.3 C569.1,1579.8 591.6,1572.3 598.4,1570.7" stroke="#dcae30" stroke-width="3" fill="none" stroke-linecap="round"/>
<polygon points="521.5,1625.5 530.0,1624.0 533.7,1621.3 601.4,1621.3 601.0,1650.0 598.0,1690.0 604.0,1740.0 604.6,1775.0 590.0,1780.0 560.0,1779.0 538.0,1780.0 533.0,1760.0 527.0,1700.0 523.0,1660.0" fill="#3a3a3d"/>
<polyline points="533.7,1624.0 538.0,1660.0 541.0,1700.0 548.0,1740.0 552.0,1778.0" stroke="#060606" stroke-width="2.2" fill="none" stroke-linejoin="round" stroke-linecap="round"/>
<polyline points="552.0,1640.0 556.0,1680.0 562.0,1720.0 563.0,1778.0" stroke="#060606" stroke-width="2.2" fill="none" stroke-linejoin="round" stroke-linecap="round"/>
<polyline points="592.0,1690.0 588.0,1720.0 586.0,1750.0 590.0,1778.0" stroke="#060606" stroke-width="2.2" fill="none" stroke-linejoin="round" stroke-linecap="round"/>
<path d="M522.0,1655.4 C528.7,1655.2 549.0,1654.2 562.0,1654.0 C575.0,1653.8 593.7,1654.2 600.0,1654.3" stroke="#e6cc40" stroke-width="3" fill="none" stroke-linecap="round"/>
<path d="M525.0,1690.5 C531.2,1690.1 549.5,1689.3 562.0,1688.0 C574.5,1686.7 593.7,1683.4 600.0,1682.5" stroke="#e6cc40" stroke-width="3" fill="none" stroke-linecap="round"/>
<path d="M531.0,1732.0 C535.3,1734.7 545.0,1749.8 557.0,1748.0 C569.0,1746.2 595.3,1725.8 603.0,1721.4" stroke="#e6cc40" stroke-width="3" fill="none" stroke-linecap="round"/>
<text transform="translate(568.6,1801.0) scale(1,1.1)" font-size="12.3" text-anchor="middle" font-weight="bold" font-family='"Liberation Serif", serif' fill="#141414" >USO-7</text>
<rect x="1215.5" y="1462.9" width="91.5" height="162.9" fill="#f2f2f2"/>
<rect x="1215.5" y="1570.0" width="91.5" height="55.8" fill="#d8d8d8"/>
<g fill="#333" opacity="0.7"><circle cx="1261.8" cy="1600.8" r="0.9"/><circle cx="1250.7" cy="1618.2" r="0.5"/><circle cx="1256.7" cy="1614.9" r="0.9"/><circle cx="1298.4" cy="1593.2" r="0.7"/><circle cx="1243.4" cy="1586.1" r="0.4"/><circle cx="1262.5" cy="1593.6" r="0.9"/><circle cx="1303.4" cy="1625.6" r="1.1"/><circle cx="1245.8" cy="1597.6" r="1.2"/><circle cx="1236.9" cy="1617.7" r="0.5"/><circle cx="1256.5" cy="1605.5" r="1.3"/><circle cx="1282.4" cy="1618.4" r="0.6"/><circle cx="1247.5" cy="1619.8" r="0.9"/><circle cx="1281.3" cy="1584.5" r="0.4"/><circle cx="1254.6" cy="1594.1" r="0.6"/><circle cx="1290.1" cy="1622.1" r="0.5"/><circle cx="1224.7" cy="1588.7" r="0.5"/><circle cx="1281.7" cy="1597.5" r="1.3"/><circle cx="1217.2" cy="1604.5" r="0.4"/><circle cx="1293.2" cy="1597.5" r="0.5"/><circle cx="1268.8" cy="1620.0" r="0.3"/><circle cx="1236.6" cy="1621.4" r="0.7"/><circle cx="1224.3" cy="1622.7" r="1.2"/><circle cx="1254.5" cy="1589.0" r="0.3"/><circle cx="1283.5" cy="1615.3" r="1.0"/><circle cx="1278.7" cy="1596.2" r="0.6"/><circle cx="1268.1" cy="1616.3" r="0.8"/><circle cx="1262.6" cy="1597.8" r="1.1"/><circle cx="1303.0" cy="1592.6" r="1.3"/><circle cx="1289.9" cy="1598.5" r="0.6"/><circle cx="1278.1" cy="1604.9" r="0.9"/><circle cx="1306.4" cy="1624.9" r="1.0"/><circle cx="1262.9" cy="1587.6" r="0.4"/><circle cx="1290.6" cy="1591.7" r="1.0"/><circle cx="1243.3" cy="1589.8" r="1.0"/><circle cx="1231.2" cy="1583.2" r="1.3"/><circle cx="1252.0" cy="1596.5" r="1.1"/><circle cx="1234.8" cy="1616.4" r="0.5"/><circle cx="1282.0" cy="1614.4" r="0.4"/><circle cx="1250.5" cy="1618.8" r="0.8"/><circle cx="1255.1" cy="1583.0" r="0.5"/><circle cx="1302.1" cy="1625.3" r="0.8"/><circle cx="1276.2" cy="1586.1" r="1.2"/><circle cx="1273.0" cy="1613.4" r="1.2"/><circle cx="1237.4" cy="1612.0" r="0.8"/><circle cx="1243.2" cy="1587.9" r="1.0"/><circle cx="1232.7" cy="1587.6" r="0.7"/><circle cx="1254.7" cy="1600.3" r="0.5"/><circle cx="1304.8" cy="1584.5" r="1.1"/><circle cx="1284.5" cy="1601.0" r="0.6"/><circle cx="1292.6" cy="1614.2" r="0.5"/><circle cx="1295.8" cy="1609.2" r="0.5"/><circle cx="1303.0" cy="1596.7" r="0.4"/><circle cx="1303.1" cy="1614.5" r="0.8"/><circle cx="1265.9" cy="1603.2" r="0.8"/><circle cx="1223.3" cy="1609.3" r="0.7"/><circle cx="1230.8" cy="1596.5" r="0.7"/><circle cx="1220.4" cy="1592.9" r="0.6"/><circle cx="1228.9" cy="1599.4" r="0.4"/><circle cx="1260.5" cy="1595.6" r="0.6"/><circle cx="1275.3" cy="1609.2" r="0.4"/><circle cx="1226.3" cy="1610.0" r="0.7"/><circle cx="1230.3" cy="1592.6" r="0.6"/><circle cx="1237.5" cy="1581.5" r="0.6"/><circle cx="1295.2" cy="1580.0" r="0.3"/><circle cx="1229.4" cy="1605.0" r="0.6"/><circle cx="1280.9" cy="1613.5" r="1.0"/><circle cx="1259.6" cy="1619.4" r="1.3"/><circle cx="1227.4" cy="1597.9" r="1.2"/><circle cx="1274.8" cy="1598.5" r="1.0"/><circle cx="1240.9" cy="1619.1" r="0.4"/></g>
<polygon points="1216.5,1469.6 1237.6,1469.6 1240.4,1464.4 1292.2,1464.4 1295.0,1478.7 1305.6,1499.8 1306.5,1517.0 1302.7,1526.6 1301.7,1574.5 1297.0,1593.7 1295.0,1617.6 1280.0,1623.0 1262.5,1624.3 1245.0,1623.0 1231.8,1617.6 1228.0,1584.1 1225.1,1574.5 1223.2,1545.8 1219.4,1507.5" fill="#242424"/>
<path d="M1252,1492 L1280,1488 L1292,1500 L1290,1522 L1270,1530 L1252,1525 Z" fill="#333"/>
<polygon points="1288.0,1528.5 1298.7,1528.5 1301.7,1531.5 1301.7,1580.1 1298.7,1583.1 1288.0,1583.1 1285.0,1580.1 1285.0,1531.5" fill="#1f7fdc"/>
<rect x="1288.0" y="1531.5" width="10.7" height="48.6" fill="#dcdcdc"/>
<path d="M1217.0,1492.6 C1222.2,1491.6 1237.5,1487.9 1248.1,1486.4 C1258.7,1484.9 1272.7,1481.9 1280.7,1483.5 C1288.7,1485.1 1293.5,1493.9 1296.0,1496.0" stroke="#c4a030" stroke-width="3" fill="none" stroke-linecap="round"/>
<path d="M1229.9,1555.4 C1233.7,1557.5 1244.9,1564.5 1252.9,1567.8 C1260.9,1571.1 1269.5,1577.6 1277.8,1575.5 C1286.1,1573.4 1298.5,1558.8 1302.7,1555.4" stroke="#c4a030" stroke-width="3" fill="none" stroke-linecap="round"/>
<path d="M1228.0,1583.1 C1229.0,1584.7 1228.0,1590.9 1233.7,1592.7 C1239.5,1594.5 1251.5,1595.5 1262.5,1593.7 C1273.5,1592.0 1293.6,1584.1 1299.8,1582.2" stroke="#c4a030" stroke-width="3" fill="none" stroke-linecap="round"/>
<rect x="1209.3" y="1628.4" width="102.0" height="155.2" fill="#eeeeee"/>
<rect x="1209.3" y="1700.0" width="102.0" height="83.6" fill="#dedede"/>
<g fill="#333" opacity="0.7"><circle cx="1224.1" cy="1741.0" r="0.8"/><circle cx="1308.1" cy="1767.9" r="1.1"/><circle cx="1278.7" cy="1713.1" r="1.2"/><circle cx="1253.5" cy="1748.7" r="0.4"/><circle cx="1240.6" cy="1770.4" r="0.4"/><circle cx="1218.0" cy="1727.2" r="0.6"/><circle cx="1259.4" cy="1740.5" r="0.5"/><circle cx="1209.5" cy="1729.9" r="0.6"/><circle cx="1264.3" cy="1746.8" r="1.0"/><circle cx="1254.3" cy="1732.1" r="0.9"/><circle cx="1301.8" cy="1755.3" r="0.3"/><circle cx="1239.8" cy="1780.6" r="1.3"/><circle cx="1239.7" cy="1717.8" r="0.3"/><circle cx="1221.9" cy="1706.0" r="1.3"/><circle cx="1305.8" cy="1728.2" r="0.3"/><circle cx="1302.7" cy="1751.9" r="1.2"/><circle cx="1240.0" cy="1771.9" r="1.1"/><circle cx="1277.8" cy="1756.0" r="1.0"/><circle cx="1256.3" cy="1779.7" r="0.4"/><circle cx="1250.9" cy="1730.9" r="0.8"/><circle cx="1295.0" cy="1706.3" r="0.7"/><circle cx="1254.8" cy="1731.5" r="0.9"/><circle cx="1280.5" cy="1752.4" r="0.8"/><circle cx="1246.7" cy="1782.7" r="1.1"/><circle cx="1277.1" cy="1706.9" r="0.7"/><circle cx="1280.1" cy="1715.8" r="0.7"/><circle cx="1253.6" cy="1711.7" r="1.1"/><circle cx="1299.9" cy="1723.3" r="0.5"/><circle cx="1235.5" cy="1759.8" r="0.5"/><circle cx="1284.8" cy="1776.2" r="0.4"/><circle cx="1280.0" cy="1758.4" r="0.9"/><circle cx="1276.0" cy="1724.2" r="0.4"/><circle cx="1302.4" cy="1715.4" r="1.2"/><circle cx="1291.1" cy="1732.6" r="0.8"/><circle cx="1238.7" cy="1719.3" r="1.1"/><circle cx="1217.1" cy="1717.3" r="1.3"/><circle cx="1245.6" cy="1749.2" r="0.9"/><circle cx="1279.4" cy="1770.3" r="1.1"/><circle cx="1238.6" cy="1728.5" r="1.3"/><circle cx="1302.1" cy="1736.0" r="0.6"/><circle cx="1249.4" cy="1768.8" r="0.5"/><circle cx="1213.4" cy="1709.1" r="0.5"/><circle cx="1299.7" cy="1712.5" r="0.4"/><circle cx="1284.4" cy="1774.2" r="1.3"/><circle cx="1300.7" cy="1777.3" r="1.1"/><circle cx="1306.3" cy="1739.3" r="1.2"/><circle cx="1216.0" cy="1720.9" r="1.2"/><circle cx="1252.8" cy="1742.1" r="1.0"/><circle cx="1249.3" cy="1704.5" r="1.1"/><circle cx="1230.8" cy="1774.9" r="0.9"/><circle cx="1263.0" cy="1782.5" r="0.7"/><circle cx="1287.4" cy="1718.0" r="1.1"/><circle cx="1239.1" cy="1772.2" r="0.7"/><circle cx="1297.2" cy="1779.8" r="0.5"/><circle cx="1243.7" cy="1782.2" r="0.7"/><circle cx="1217.5" cy="1720.6" r="0.7"/><circle cx="1250.4" cy="1750.3" r="1.0"/><circle cx="1221.2" cy="1705.3" r="0.5"/><circle cx="1307.1" cy="1717.7" r="1.1"/><circle cx="1282.7" cy="1729.7" r="1.2"/><circle cx="1294.4" cy="1770.0" r="1.3"/><circle cx="1260.1" cy="1703.3" r="1.2"/><circle cx="1211.7" cy="1713.7" r="0.6"/><circle cx="1248.9" cy="1746.4" r="0.4"/><circle cx="1232.4" cy="1755.5" r="0.5"/><circle cx="1240.4" cy="1758.3" r="0.8"/><circle cx="1295.3" cy="1777.8" r="0.3"/><circle cx="1219.8" cy="1783.5" r="0.7"/><circle cx="1261.5" cy="1705.3" r="1.2"/><circle cx="1261.0" cy="1747.9" r="1.1"/><circle cx="1285.5" cy="1701.5" r="1.2"/><circle cx="1293.3" cy="1760.3" r="1.2"/><circle cx="1307.4" cy="1725.8" r="1.1"/><circle cx="1252.4" cy="1773.7" r="0.9"/><circle cx="1277.3" cy="1759.2" r="0.5"/><circle cx="1238.9" cy="1719.2" r="0.5"/><circle cx="1242.4" cy="1768.8" r="0.6"/><circle cx="1233.6" cy="1758.9" r="1.0"/><circle cx="1241.7" cy="1779.2" r="1.1"/><circle cx="1262.1" cy="1707.5" r="0.8"/><circle cx="1228.0" cy="1751.9" r="1.2"/><circle cx="1238.7" cy="1709.2" r="0.9"/><circle cx="1289.8" cy="1703.3" r="1.1"/><circle cx="1302.3" cy="1777.9" r="0.5"/><circle cx="1209.4" cy="1754.7" r="0.7"/><circle cx="1296.8" cy="1714.5" r="1.0"/><circle cx="1304.9" cy="1748.6" r="0.9"/><circle cx="1232.7" cy="1753.8" r="1.3"/><circle cx="1276.2" cy="1772.6" r="0.3"/><circle cx="1250.5" cy="1704.5" r="1.0"/></g>
<polygon points="1229.9,1642.8 1262.5,1631.3 1289.3,1639.0 1297.0,1648.5 1296.0,1662.9 1308.4,1674.4 1309.4,1691.6 1305.6,1720.4 1300.8,1749.1 1294.1,1768.3 1276.8,1777.8 1243.3,1775.9 1229.0,1763.5 1219.4,1739.5 1212.7,1720.4 1210.7,1701.2 1214.6,1677.3 1220.3,1658.1" fill="#1c1c1c"/>
<path d="M1229.9,1642.8 L1262.5,1631.3 L1289.3,1639 L1296,1662.9 L1308,1676 L1302,1690 L1270,1692 L1250,1700 L1228,1705 L1216,1690 L1220,1665 Z" fill="#343434"/>
<path d="M1221.3,1738.6 Q1260,1736 1297,1742.4 L1285.5,1764.4 Q1260,1766 1234.7,1762.5 Z" fill="#dcdcdc" stroke="#2a7fd8" stroke-width="2.5"/>
<path d="M1212.7,1680.1 L1214.6,1701.2" stroke="#c4a030" stroke-width="3" fill="none" stroke-linecap="round"/>
<path d="M1233.7,1709.8 C1238.5,1711.1 1252.6,1714.6 1262.5,1717.5 C1272.4,1720.4 1285.4,1729.0 1293.1,1727.1 C1300.8,1725.2 1306.3,1712.9 1308.4,1706.0 C1310.5,1699.1 1306.1,1689.2 1305.6,1685.9" stroke="#c89a28" stroke-width="3" fill="none" stroke-linecap="round"/>
<path d="M1222.2,1745.3 C1225.7,1748.0 1233.4,1758.7 1243.3,1761.6 C1253.2,1764.5 1272.0,1765.4 1281.6,1762.5 C1291.2,1759.6 1297.6,1747.3 1300.8,1744.3" stroke="#c4a030" stroke-width="3" fill="none" stroke-linecap="round"/>
<text transform="translate(1261.5,1802.8) scale(1,1.1)" font-size="12.3" text-anchor="middle" font-weight="bold" font-family='"Liberation Serif", serif' fill="#141414" >USO-8</text>
</svg></body></html>
